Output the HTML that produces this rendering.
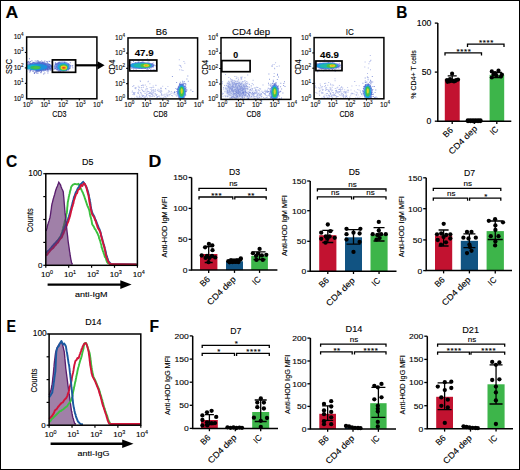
<!DOCTYPE html>
<html><head><meta charset="utf-8"><style>
html,body{margin:0;padding:0;background:#fff;}
svg{display:block;font-family:"Liberation Sans", sans-serif;} svg text{stroke:#000;stroke-width:0.12px;}
</style></head><body>
<svg width="520" height="470" viewBox="0 0 520 470">
<rect width="520" height="470" fill="#fff"/>
<rect x="0.50" y="0.50" width="519.00" height="469.00" fill="none" stroke="#000" stroke-width="1"/>
<text transform="translate(5.46 18.00) scale(1.048 1)" font-size="16.8" font-weight="bold" stroke-width="0.45">A</text>
<text transform="translate(396.37 18.00) scale(0.919 1)" font-size="16.8" font-weight="bold" stroke-width="0.45">B</text>
<text transform="translate(5.96 166.70) scale(0.930 1)" font-size="16.8" font-weight="bold" stroke-width="0.45">C</text>
<text transform="translate(148.51 166.80) scale(1.060 1)" font-size="16.8" font-weight="bold" stroke-width="0.45">D</text>
<text transform="translate(6.44 331.80) scale(0.850 1)" font-size="16.8" font-weight="bold" stroke-width="0.45">E</text>
<text transform="translate(149.55 332.40) scale(0.929 1)" font-size="16.8" font-weight="bold" stroke-width="0.45">F</text>
<defs><filter id="bl" x="-50%" y="-50%" width="200%" height="200%"><feGaussianBlur stdDeviation="0.55"/></filter><filter id="bl3" x="-50%" y="-50%" width="200%" height="200%"><feGaussianBlur stdDeviation="1.6"/></filter><clipPath id="c0"><rect x="26.65" y="37.0" width="70.25" height="61.8"/></clipPath><clipPath id="c1"><rect x="128.0" y="37.9" width="69.6" height="61.00000000000001"/></clipPath><clipPath id="c2"><rect x="221.0" y="37.7" width="69.80000000000001" height="61.7"/></clipPath><clipPath id="c3"><rect x="314.1" y="37.6" width="69.79999999999995" height="61.199999999999996"/></clipPath></defs>
<g clip-path="url(#c0)">
<path d="M29.6 63.5h1.0v1.0h-1.0zM44.4 60.5h1.0v1.0h-1.0zM37.9 60.6h1.0v1.0h-1.0zM47.8 67.0h1.0v1.0h-1.0zM49.9 65.2h1.0v1.0h-1.0zM42.2 65.8h1.0v1.0h-1.0zM33.1 66.9h1.0v1.0h-1.0zM28.9 65.6h1.0v1.0h-1.0zM44.6 66.6h1.0v1.0h-1.0zM35.7 72.2h1.0v1.0h-1.0zM39.5 65.0h1.0v1.0h-1.0zM40.3 65.1h1.0v1.0h-1.0zM35.9 65.6h1.0v1.0h-1.0zM40.4 68.3h1.0v1.0h-1.0zM34.0 72.9h1.0v1.0h-1.0zM27.3 65.5h1.0v1.0h-1.0zM44.3 72.4h1.0v1.0h-1.0zM31.4 60.2h1.0v1.0h-1.0zM44.3 65.1h1.0v1.0h-1.0zM35.9 67.7h1.0v1.0h-1.0zM40.8 67.3h1.0v1.0h-1.0zM35.6 69.9h1.0v1.0h-1.0zM51.0 66.6h1.0v1.0h-1.0zM35.4 68.4h1.0v1.0h-1.0zM42.8 63.8h1.0v1.0h-1.0zM35.3 69.2h1.0v1.0h-1.0zM38.2 65.6h1.0v1.0h-1.0zM40.7 66.4h1.0v1.0h-1.0zM39.0 61.5h1.0v1.0h-1.0zM32.0 69.0h1.0v1.0h-1.0zM41.5 66.5h1.0v1.0h-1.0zM47.4 72.4h1.0v1.0h-1.0zM43.4 70.6h1.0v1.0h-1.0zM34.8 68.5h1.0v1.0h-1.0zM49.3 69.2h1.0v1.0h-1.0zM43.6 61.6h1.0v1.0h-1.0zM45.1 67.8h1.0v1.0h-1.0zM29.3 71.5h1.0v1.0h-1.0zM32.4 65.9h1.0v1.0h-1.0zM37.0 68.0h1.0v1.0h-1.0zM43.0 67.2h1.0v1.0h-1.0zM28.9 58.3h1.0v1.0h-1.0zM40.3 67.2h1.0v1.0h-1.0zM48.8 66.2h1.0v1.0h-1.0zM34.1 67.6h1.0v1.0h-1.0zM26.6 63.8h1.0v1.0h-1.0zM30.9 67.2h1.0v1.0h-1.0zM48.1 67.1h1.0v1.0h-1.0zM41.2 65.3h1.0v1.0h-1.0zM36.8 60.2h1.0v1.0h-1.0zM29.4 63.2h1.0v1.0h-1.0zM45.7 68.2h1.0v1.0h-1.0zM48.1 70.5h1.0v1.0h-1.0zM36.6 69.2h1.0v1.0h-1.0zM47.7 66.1h1.0v1.0h-1.0zM26.1 66.8h1.0v1.0h-1.0zM32.4 66.8h1.0v1.0h-1.0zM35.3 67.3h1.0v1.0h-1.0zM49.9 65.6h1.0v1.0h-1.0zM31.7 66.5h1.0v1.0h-1.0zM44.4 67.6h1.0v1.0h-1.0zM42.2 61.4h1.0v1.0h-1.0zM30.0 70.0h1.0v1.0h-1.0zM40.9 62.5h1.0v1.0h-1.0zM32.1 62.7h1.0v1.0h-1.0zM30.8 69.6h1.0v1.0h-1.0zM37.2 69.4h1.0v1.0h-1.0zM40.5 62.5h1.0v1.0h-1.0zM33.7 72.5h1.0v1.0h-1.0zM32.8 63.7h1.0v1.0h-1.0zM49.0 66.7h1.0v1.0h-1.0zM38.9 70.4h1.0v1.0h-1.0zM30.4 62.8h1.0v1.0h-1.0zM32.4 69.6h1.0v1.0h-1.0zM37.9 61.6h1.0v1.0h-1.0zM29.9 70.5h1.0v1.0h-1.0zM47.4 63.6h1.0v1.0h-1.0zM29.2 66.1h1.0v1.0h-1.0zM46.7 70.8h1.0v1.0h-1.0zM47.4 65.4h1.0v1.0h-1.0zM34.4 62.6h1.0v1.0h-1.0zM38.4 64.9h1.0v1.0h-1.0zM41.0 63.1h1.0v1.0h-1.0zM34.8 64.2h1.0v1.0h-1.0zM29.2 63.4h1.0v1.0h-1.0zM30.7 63.4h1.0v1.0h-1.0zM43.7 66.8h1.0v1.0h-1.0zM28.2 67.9h1.0v1.0h-1.0zM41.4 70.4h1.0v1.0h-1.0zM37.4 65.9h1.0v1.0h-1.0zM33.4 66.8h1.0v1.0h-1.0zM43.0 67.0h1.0v1.0h-1.0zM36.9 68.0h1.0v1.0h-1.0zM39.8 67.2h1.0v1.0h-1.0zM31.4 67.0h1.0v1.0h-1.0zM30.8 64.3h1.0v1.0h-1.0zM40.3 72.1h1.0v1.0h-1.0zM47.2 66.5h1.0v1.0h-1.0zM37.5 69.1h1.0v1.0h-1.0zM50.3 69.7h1.0v1.0h-1.0zM37.5 67.0h1.0v1.0h-1.0zM36.3 65.7h1.0v1.0h-1.0zM32.0 65.8h1.0v1.0h-1.0zM42.5 64.0h1.0v1.0h-1.0zM43.4 63.1h1.0v1.0h-1.0zM36.0 67.6h1.0v1.0h-1.0zM30.5 64.6h1.0v1.0h-1.0zM33.2 65.0h1.0v1.0h-1.0zM39.3 66.4h1.0v1.0h-1.0zM47.0 68.6h1.0v1.0h-1.0zM35.7 65.6h1.0v1.0h-1.0zM27.4 62.5h1.0v1.0h-1.0zM33.0 68.4h1.0v1.0h-1.0zM40.0 68.6h1.0v1.0h-1.0zM46.7 66.1h1.0v1.0h-1.0zM33.9 65.4h1.0v1.0h-1.0zM48.3 66.1h1.0v1.0h-1.0zM33.0 67.7h1.0v1.0h-1.0zM48.3 66.2h1.0v1.0h-1.0zM36.9 69.4h1.0v1.0h-1.0zM47.0 69.0h1.0v1.0h-1.0zM32.8 67.3h1.0v1.0h-1.0zM42.0 61.7h1.0v1.0h-1.0zM48.8 66.8h1.0v1.0h-1.0zM36.2 72.5h1.0v1.0h-1.0zM40.2 64.6h1.0v1.0h-1.0zM38.5 68.0h1.0v1.0h-1.0zM45.6 66.3h1.0v1.0h-1.0zM31.9 64.6h1.0v1.0h-1.0zM32.3 63.7h1.0v1.0h-1.0zM38.8 65.2h1.0v1.0h-1.0zM39.4 64.3h1.0v1.0h-1.0zM31.9 66.0h1.0v1.0h-1.0zM36.1 69.6h1.0v1.0h-1.0zM31.6 67.0h1.0v1.0h-1.0zM38.7 63.0h1.0v1.0h-1.0zM44.9 66.9h1.0v1.0h-1.0zM46.7 64.4h1.0v1.0h-1.0zM29.6 68.0h1.0v1.0h-1.0zM36.1 62.9h1.0v1.0h-1.0zM33.0 68.2h1.0v1.0h-1.0zM42.2 65.1h1.0v1.0h-1.0zM34.7 71.2h1.0v1.0h-1.0zM36.1 63.9h1.0v1.0h-1.0zM35.8 70.9h1.0v1.0h-1.0zM42.8 65.7h1.0v1.0h-1.0zM29.0 66.9h1.0v1.0h-1.0zM31.8 66.5h1.0v1.0h-1.0zM45.1 69.3h1.0v1.0h-1.0zM40.1 65.6h1.0v1.0h-1.0zM40.9 71.3h1.0v1.0h-1.0zM42.1 62.8h1.0v1.0h-1.0zM51.6 67.2h1.0v1.0h-1.0zM38.2 65.7h1.0v1.0h-1.0zM42.1 65.0h1.0v1.0h-1.0zM27.0 61.4h1.0v1.0h-1.0zM38.0 65.1h1.0v1.0h-1.0zM34.3 72.1h1.0v1.0h-1.0zM45.5 69.4h1.0v1.0h-1.0zM34.9 67.3h1.0v1.0h-1.0zM37.3 66.0h1.0v1.0h-1.0zM45.1 68.1h1.0v1.0h-1.0zM41.5 66.9h1.0v1.0h-1.0zM27.3 64.5h1.0v1.0h-1.0zM42.1 65.5h1.0v1.0h-1.0zM32.7 67.4h1.0v1.0h-1.0zM31.5 64.7h1.0v1.0h-1.0zM46.2 65.6h1.0v1.0h-1.0zM50.6 67.9h1.0v1.0h-1.0zM45.6 69.5h1.0v1.0h-1.0zM28.5 65.3h1.0v1.0h-1.0zM38.2 69.8h1.0v1.0h-1.0zM38.6 70.8h1.0v1.0h-1.0zM34.7 66.4h1.0v1.0h-1.0zM39.8 69.0h1.0v1.0h-1.0zM38.6 64.9h1.0v1.0h-1.0zM36.3 62.8h1.0v1.0h-1.0zM49.2 68.5h1.0v1.0h-1.0zM42.5 67.2h1.0v1.0h-1.0zM34.1 65.4h1.0v1.0h-1.0zM45.6 64.4h1.0v1.0h-1.0zM32.7 70.7h1.0v1.0h-1.0zM51.6 67.3h1.0v1.0h-1.0zM43.3 67.0h1.0v1.0h-1.0zM50.6 65.3h1.0v1.0h-1.0zM39.7 67.8h1.0v1.0h-1.0zM50.7 65.8h1.0v1.0h-1.0zM40.9 65.2h1.0v1.0h-1.0zM33.7 64.8h1.0v1.0h-1.0zM39.7 68.8h1.0v1.0h-1.0zM33.4 64.9h1.0v1.0h-1.0zM35.7 67.4h1.0v1.0h-1.0zM44.6 63.2h1.0v1.0h-1.0zM41.9 63.9h1.0v1.0h-1.0zM44.8 64.0h1.0v1.0h-1.0zM30.3 64.6h1.0v1.0h-1.0zM38.5 63.9h1.0v1.0h-1.0zM40.7 66.9h1.0v1.0h-1.0zM39.7 67.2h1.0v1.0h-1.0zM46.0 64.6h1.0v1.0h-1.0zM39.0 66.4h1.0v1.0h-1.0zM32.8 64.6h1.0v1.0h-1.0zM35.4 66.8h1.0v1.0h-1.0zM41.7 67.8h1.0v1.0h-1.0zM33.4 68.3h1.0v1.0h-1.0zM42.4 65.5h1.0v1.0h-1.0zM38.8 68.6h1.0v1.0h-1.0zM42.5 68.3h1.0v1.0h-1.0zM39.9 69.5h1.0v1.0h-1.0zM26.2 71.0h1.0v1.0h-1.0zM34.4 62.9h1.0v1.0h-1.0zM47.8 69.1h1.0v1.0h-1.0zM35.9 70.3h1.0v1.0h-1.0zM38.4 65.0h1.0v1.0h-1.0zM39.5 67.1h1.0v1.0h-1.0zM39.4 67.5h1.0v1.0h-1.0zM34.5 68.2h1.0v1.0h-1.0zM32.6 66.9h1.0v1.0h-1.0zM37.6 62.4h1.0v1.0h-1.0zM42.1 68.1h1.0v1.0h-1.0zM30.1 61.0h1.0v1.0h-1.0zM33.8 64.3h1.0v1.0h-1.0zM39.9 66.5h1.0v1.0h-1.0zM51.9 68.2h1.0v1.0h-1.0zM37.0 66.9h1.0v1.0h-1.0zM31.6 66.2h1.0v1.0h-1.0zM41.6 67.1h1.0v1.0h-1.0zM46.5 64.7h1.0v1.0h-1.0zM41.4 66.2h1.0v1.0h-1.0zM39.1 67.3h1.0v1.0h-1.0zM36.7 67.1h1.0v1.0h-1.0zM38.7 69.2h1.0v1.0h-1.0zM38.1 67.3h1.0v1.0h-1.0zM43.1 69.3h1.0v1.0h-1.0zM30.9 68.3h1.0v1.0h-1.0zM45.0 67.6h1.0v1.0h-1.0zM46.8 68.5h1.0v1.0h-1.0zM48.5 64.8h1.0v1.0h-1.0zM42.5 65.1h1.0v1.0h-1.0zM48.9 66.9h1.0v1.0h-1.0zM28.6 66.8h1.0v1.0h-1.0zM31.0 69.0h1.0v1.0h-1.0zM36.3 60.8h1.0v1.0h-1.0zM35.9 69.2h1.0v1.0h-1.0zM41.6 64.9h1.0v1.0h-1.0zM44.2 68.0h1.0v1.0h-1.0zM50.7 68.8h1.0v1.0h-1.0zM41.9 64.5h1.0v1.0h-1.0zM41.3 67.3h1.0v1.0h-1.0zM39.1 67.6h1.0v1.0h-1.0zM29.5 68.0h1.0v1.0h-1.0zM39.1 67.4h1.0v1.0h-1.0zM38.2 65.7h1.0v1.0h-1.0zM41.0 68.5h1.0v1.0h-1.0zM36.4 67.3h1.0v1.0h-1.0zM32.9 67.6h1.0v1.0h-1.0zM39.1 63.2h1.0v1.0h-1.0zM48.3 64.2h1.0v1.0h-1.0zM39.6 63.1h1.0v1.0h-1.0zM27.9 61.1h1.0v1.0h-1.0zM37.3 62.5h1.0v1.0h-1.0zM37.4 71.2h1.0v1.0h-1.0zM35.9 67.4h1.0v1.0h-1.0zM43.5 67.1h1.0v1.0h-1.0zM38.1 70.4h1.0v1.0h-1.0zM38.4 67.4h1.0v1.0h-1.0zM39.9 63.2h1.0v1.0h-1.0zM41.5 66.6h1.0v1.0h-1.0zM44.1 68.3h1.0v1.0h-1.0zM51.4 61.6h1.0v1.0h-1.0zM34.6 65.3h1.0v1.0h-1.0zM32.2 67.6h1.0v1.0h-1.0zM38.4 66.9h1.0v1.0h-1.0zM26.1 64.0h1.0v1.0h-1.0zM38.5 65.3h1.0v1.0h-1.0zM34.2 66.2h1.0v1.0h-1.0zM36.8 63.8h1.0v1.0h-1.0zM44.1 68.0h1.0v1.0h-1.0zM46.7 65.0h1.0v1.0h-1.0zM31.1 67.6h1.0v1.0h-1.0zM41.1 60.4h1.0v1.0h-1.0zM35.9 65.8h1.0v1.0h-1.0zM42.3 64.0h1.0v1.0h-1.0zM49.3 67.2h1.0v1.0h-1.0zM34.6 67.6h1.0v1.0h-1.0zM38.1 68.2h1.0v1.0h-1.0zM32.1 65.6h1.0v1.0h-1.0zM39.0 64.6h1.0v1.0h-1.0zM35.4 68.1h1.0v1.0h-1.0zM45.5 63.6h1.0v1.0h-1.0zM35.4 67.3h1.0v1.0h-1.0zM43.6 63.9h1.0v1.0h-1.0zM43.7 66.9h1.0v1.0h-1.0zM49.4 68.9h1.0v1.0h-1.0zM43.3 65.5h1.0v1.0h-1.0zM41.1 64.3h1.0v1.0h-1.0zM32.5 61.8h1.0v1.0h-1.0zM28.7 63.2h1.0v1.0h-1.0zM38.2 66.8h1.0v1.0h-1.0zM28.4 66.2h1.0v1.0h-1.0zM42.2 68.9h1.0v1.0h-1.0zM38.2 67.1h1.0v1.0h-1.0zM36.0 68.9h1.0v1.0h-1.0zM26.7 67.1h1.0v1.0h-1.0zM46.3 61.1h1.0v1.0h-1.0zM34.8 62.9h1.0v1.0h-1.0zM32.0 69.1h1.0v1.0h-1.0zM34.8 63.6h1.0v1.0h-1.0zM38.3 67.5h1.0v1.0h-1.0zM45.4 67.8h1.0v1.0h-1.0zM27.2 64.4h1.0v1.0h-1.0zM37.5 64.3h1.0v1.0h-1.0zM44.8 65.6h1.0v1.0h-1.0zM38.3 65.5h1.0v1.0h-1.0zM39.3 62.6h1.0v1.0h-1.0zM33.2 61.9h1.0v1.0h-1.0zM38.2 62.9h1.0v1.0h-1.0zM41.5 69.5h1.0v1.0h-1.0zM43.7 65.3h1.0v1.0h-1.0zM48.9 66.0h1.0v1.0h-1.0zM38.5 66.6h1.0v1.0h-1.0zM35.1 67.5h1.0v1.0h-1.0zM29.2 61.9h1.0v1.0h-1.0zM48.3 64.6h1.0v1.0h-1.0zM36.1 67.3h1.0v1.0h-1.0zM35.2 63.4h1.0v1.0h-1.0zM37.3 64.0h1.0v1.0h-1.0zM43.2 65.3h1.0v1.0h-1.0zM36.8 68.4h1.0v1.0h-1.0zM26.7 62.6h1.0v1.0h-1.0zM44.6 69.7h1.0v1.0h-1.0zM39.6 64.7h1.0v1.0h-1.0zM48.5 67.8h1.0v1.0h-1.0zM46.9 61.8h1.0v1.0h-1.0zM37.9 63.8h1.0v1.0h-1.0zM30.2 67.9h1.0v1.0h-1.0zM44.6 65.3h1.0v1.0h-1.0zM36.9 70.0h1.0v1.0h-1.0zM44.0 66.2h1.0v1.0h-1.0zM42.9 66.7h1.0v1.0h-1.0zM28.9 65.1h1.0v1.0h-1.0zM41.1 68.0h1.0v1.0h-1.0zM29.4 64.4h1.0v1.0h-1.0zM34.3 62.6h1.0v1.0h-1.0zM47.5 67.6h1.0v1.0h-1.0zM49.2 60.9h1.0v1.0h-1.0zM32.5 71.1h1.0v1.0h-1.0zM27.8 61.8h1.0v1.0h-1.0zM40.6 70.5h1.0v1.0h-1.0zM43.9 64.0h1.0v1.0h-1.0zM43.2 67.5h1.0v1.0h-1.0zM41.0 67.5h1.0v1.0h-1.0zM45.4 69.4h1.0v1.0h-1.0zM49.7 69.2h1.0v1.0h-1.0zM37.7 61.7h1.0v1.0h-1.0zM43.2 62.6h1.0v1.0h-1.0zM42.0 67.2h1.0v1.0h-1.0zM44.0 67.2h1.0v1.0h-1.0zM32.8 68.5h1.0v1.0h-1.0zM33.4 62.6h1.0v1.0h-1.0zM46.0 67.8h1.0v1.0h-1.0zM31.5 65.8h1.0v1.0h-1.0zM47.0 68.9h1.0v1.0h-1.0zM30.4 69.3h1.0v1.0h-1.0zM41.9 66.2h1.0v1.0h-1.0zM39.8 62.4h1.0v1.0h-1.0zM37.9 67.7h1.0v1.0h-1.0zM31.6 66.8h1.0v1.0h-1.0zM37.6 60.7h1.0v1.0h-1.0zM34.1 68.0h1.0v1.0h-1.0zM26.6 66.5h1.0v1.0h-1.0zM41.5 63.2h1.0v1.0h-1.0zM36.9 68.8h1.0v1.0h-1.0zM44.6 63.9h1.0v1.0h-1.0zM46.9 67.3h1.0v1.0h-1.0zM39.9 70.3h1.0v1.0h-1.0zM44.7 67.4h1.0v1.0h-1.0zM46.5 68.2h1.0v1.0h-1.0zM48.9 66.2h1.0v1.0h-1.0zM45.3 67.8h1.0v1.0h-1.0zM39.3 66.3h1.0v1.0h-1.0zM39.8 64.1h1.0v1.0h-1.0zM45.0 66.7h1.0v1.0h-1.0zM31.4 67.2h1.0v1.0h-1.0zM36.4 66.4h1.0v1.0h-1.0zM43.2 73.4h1.0v1.0h-1.0zM30.5 67.5h1.0v1.0h-1.0zM44.6 67.6h1.0v1.0h-1.0zM50.7 65.4h1.0v1.0h-1.0zM36.4 66.5h1.0v1.0h-1.0zM28.1 69.3h1.0v1.0h-1.0zM29.2 67.9h1.0v1.0h-1.0zM48.4 64.3h1.0v1.0h-1.0zM37.6 66.0h1.0v1.0h-1.0zM47.1 61.4h1.0v1.0h-1.0zM39.7 61.0h1.0v1.0h-1.0zM47.3 70.1h1.0v1.0h-1.0zM44.6 66.4h1.0v1.0h-1.0zM33.4 67.5h1.0v1.0h-1.0zM32.5 66.9h1.0v1.0h-1.0zM36.9 65.3h1.0v1.0h-1.0zM43.3 69.0h1.0v1.0h-1.0zM46.0 67.6h1.0v1.0h-1.0zM39.5 67.0h1.0v1.0h-1.0zM48.6 60.7h1.0v1.0h-1.0zM35.5 65.7h1.0v1.0h-1.0zM40.5 72.3h1.0v1.0h-1.0zM40.9 66.3h1.0v1.0h-1.0zM42.4 69.0h1.0v1.0h-1.0zM37.6 70.8h1.0v1.0h-1.0zM29.4 69.7h1.0v1.0h-1.0zM44.6 69.1h1.0v1.0h-1.0zM51.3 65.9h1.0v1.0h-1.0zM42.3 67.2h1.0v1.0h-1.0zM34.2 64.5h1.0v1.0h-1.0zM32.8 68.7h1.0v1.0h-1.0zM39.6 69.9h1.0v1.0h-1.0zM38.2 69.8h1.0v1.0h-1.0zM38.5 65.1h1.0v1.0h-1.0zM26.6 67.0h1.0v1.0h-1.0zM30.7 68.0h1.0v1.0h-1.0zM28.1 63.5h1.0v1.0h-1.0zM47.8 67.6h1.0v1.0h-1.0zM46.7 67.1h1.0v1.0h-1.0zM38.1 66.9h1.0v1.0h-1.0zM36.4 69.2h1.0v1.0h-1.0zM28.8 61.6h1.0v1.0h-1.0zM32.2 68.8h1.0v1.0h-1.0zM34.7 60.5h1.0v1.0h-1.0zM37.5 68.0h1.0v1.0h-1.0zM41.9 66.1h1.0v1.0h-1.0zM26.6 67.8h1.0v1.0h-1.0zM31.2 66.0h1.0v1.0h-1.0zM45.0 65.5h1.0v1.0h-1.0zM43.8 68.3h1.0v1.0h-1.0zM28.7 66.6h1.0v1.0h-1.0zM41.3 69.3h1.0v1.0h-1.0zM42.2 66.9h1.0v1.0h-1.0zM36.6 67.7h1.0v1.0h-1.0zM45.1 66.1h1.0v1.0h-1.0zM36.7 71.0h1.0v1.0h-1.0zM38.7 64.5h1.0v1.0h-1.0zM44.4 63.3h1.0v1.0h-1.0zM30.4 68.9h1.0v1.0h-1.0zM39.2 68.5h1.0v1.0h-1.0zM45.1 64.5h1.0v1.0h-1.0zM43.0 65.5h1.0v1.0h-1.0zM40.7 67.1h1.0v1.0h-1.0zM38.3 63.2h1.0v1.0h-1.0zM41.4 66.5h1.0v1.0h-1.0zM43.2 63.8h1.0v1.0h-1.0zM40.6 66.0h1.0v1.0h-1.0zM35.6 65.8h1.0v1.0h-1.0zM37.0 63.0h1.0v1.0h-1.0zM34.7 65.3h1.0v1.0h-1.0zM42.7 66.1h1.0v1.0h-1.0zM50.2 68.0h1.0v1.0h-1.0zM41.5 67.0h1.0v1.0h-1.0zM27.8 67.4h1.0v1.0h-1.0zM49.0 63.9h1.0v1.0h-1.0zM49.4 68.1h1.0v1.0h-1.0zM41.3 65.4h1.0v1.0h-1.0zM39.2 64.5h1.0v1.0h-1.0zM38.9 66.6h1.0v1.0h-1.0zM39.5 63.4h1.0v1.0h-1.0zM46.3 64.8h1.0v1.0h-1.0zM42.1 68.0h1.0v1.0h-1.0zM37.4 72.8h1.0v1.0h-1.0zM40.0 67.6h1.0v1.0h-1.0zM37.0 67.3h1.0v1.0h-1.0zM29.1 68.1h1.0v1.0h-1.0z" fill="#2030b0" fill-opacity="0.6"/>
<path d="M60.2 65.2h1.0v1.0h-1.0zM65.7 68.8h1.0v1.0h-1.0zM59.9 63.9h1.0v1.0h-1.0zM64.4 68.1h1.0v1.0h-1.0zM55.8 66.6h1.0v1.0h-1.0zM67.2 64.6h1.0v1.0h-1.0zM59.3 64.2h1.0v1.0h-1.0zM64.0 61.7h1.0v1.0h-1.0zM61.4 67.7h1.0v1.0h-1.0zM61.7 68.9h1.0v1.0h-1.0zM65.0 65.2h1.0v1.0h-1.0zM57.1 63.8h1.0v1.0h-1.0zM64.4 66.1h1.0v1.0h-1.0zM62.6 64.2h1.0v1.0h-1.0zM67.6 68.7h1.0v1.0h-1.0zM65.7 63.6h1.0v1.0h-1.0zM56.7 69.0h1.0v1.0h-1.0zM61.4 64.5h1.0v1.0h-1.0zM58.3 67.8h1.0v1.0h-1.0zM63.5 67.0h1.0v1.0h-1.0zM60.9 63.9h1.0v1.0h-1.0zM63.2 65.8h1.0v1.0h-1.0zM61.0 68.1h1.0v1.0h-1.0zM70.3 64.9h1.0v1.0h-1.0zM66.7 64.6h1.0v1.0h-1.0zM66.1 68.1h1.0v1.0h-1.0zM62.2 67.1h1.0v1.0h-1.0zM58.2 65.6h1.0v1.0h-1.0zM66.7 68.5h1.0v1.0h-1.0zM59.7 66.8h1.0v1.0h-1.0zM62.3 65.2h1.0v1.0h-1.0zM60.0 66.2h1.0v1.0h-1.0zM68.2 66.2h1.0v1.0h-1.0zM58.3 67.3h1.0v1.0h-1.0zM58.9 67.3h1.0v1.0h-1.0zM56.8 69.0h1.0v1.0h-1.0zM65.9 65.4h1.0v1.0h-1.0zM64.3 63.5h1.0v1.0h-1.0zM63.1 67.2h1.0v1.0h-1.0zM67.2 65.4h1.0v1.0h-1.0zM56.7 65.1h1.0v1.0h-1.0zM60.2 70.7h1.0v1.0h-1.0zM61.8 69.4h1.0v1.0h-1.0zM62.4 63.0h1.0v1.0h-1.0zM64.2 67.8h1.0v1.0h-1.0zM59.3 62.5h1.0v1.0h-1.0zM64.0 67.7h1.0v1.0h-1.0zM66.6 68.0h1.0v1.0h-1.0zM54.8 63.0h1.0v1.0h-1.0zM66.0 69.9h1.0v1.0h-1.0zM67.2 68.6h1.0v1.0h-1.0zM61.9 68.9h1.0v1.0h-1.0zM69.6 67.8h1.0v1.0h-1.0zM68.1 69.6h1.0v1.0h-1.0zM58.5 69.5h1.0v1.0h-1.0zM58.3 64.2h1.0v1.0h-1.0zM69.9 62.3h1.0v1.0h-1.0zM61.1 68.8h1.0v1.0h-1.0zM63.9 65.5h1.0v1.0h-1.0zM57.5 67.8h1.0v1.0h-1.0zM64.6 66.3h1.0v1.0h-1.0zM57.3 62.9h1.0v1.0h-1.0zM62.0 66.4h1.0v1.0h-1.0zM66.1 65.7h1.0v1.0h-1.0zM66.4 63.4h1.0v1.0h-1.0zM53.6 68.9h1.0v1.0h-1.0zM60.0 64.4h1.0v1.0h-1.0zM61.3 63.4h1.0v1.0h-1.0zM60.3 63.0h1.0v1.0h-1.0zM62.8 65.0h1.0v1.0h-1.0zM61.8 66.5h1.0v1.0h-1.0zM64.2 62.2h1.0v1.0h-1.0zM62.8 65.8h1.0v1.0h-1.0zM56.4 65.8h1.0v1.0h-1.0zM64.5 67.7h1.0v1.0h-1.0zM71.7 65.7h1.0v1.0h-1.0zM62.7 71.4h1.0v1.0h-1.0zM59.1 64.4h1.0v1.0h-1.0zM59.8 65.0h1.0v1.0h-1.0zM61.9 66.9h1.0v1.0h-1.0zM58.3 63.6h1.0v1.0h-1.0zM61.8 63.4h1.0v1.0h-1.0zM58.1 67.4h1.0v1.0h-1.0zM61.6 64.0h1.0v1.0h-1.0zM55.1 64.0h1.0v1.0h-1.0zM54.8 67.9h1.0v1.0h-1.0zM65.6 67.3h1.0v1.0h-1.0zM63.5 65.3h1.0v1.0h-1.0zM62.8 66.7h1.0v1.0h-1.0zM62.2 65.3h1.0v1.0h-1.0zM56.8 67.2h1.0v1.0h-1.0zM63.9 63.7h1.0v1.0h-1.0zM60.9 66.4h1.0v1.0h-1.0zM64.4 62.2h1.0v1.0h-1.0zM55.2 63.0h1.0v1.0h-1.0zM56.0 63.8h1.0v1.0h-1.0zM66.1 63.6h1.0v1.0h-1.0zM72.3 67.2h1.0v1.0h-1.0zM65.3 66.4h1.0v1.0h-1.0zM66.2 67.5h1.0v1.0h-1.0zM65.9 68.0h1.0v1.0h-1.0zM65.0 67.5h1.0v1.0h-1.0zM67.3 66.6h1.0v1.0h-1.0zM59.5 70.5h1.0v1.0h-1.0zM59.7 67.5h1.0v1.0h-1.0zM72.2 64.9h1.0v1.0h-1.0zM60.7 64.8h1.0v1.0h-1.0zM57.5 68.1h1.0v1.0h-1.0zM61.0 66.8h1.0v1.0h-1.0zM53.8 67.7h1.0v1.0h-1.0zM58.5 61.7h1.0v1.0h-1.0zM58.5 62.5h1.0v1.0h-1.0zM69.7 62.3h1.0v1.0h-1.0zM63.4 63.9h1.0v1.0h-1.0zM58.1 63.3h1.0v1.0h-1.0zM67.9 63.7h1.0v1.0h-1.0zM59.0 67.1h1.0v1.0h-1.0zM60.2 68.2h1.0v1.0h-1.0zM58.4 62.4h1.0v1.0h-1.0zM64.2 69.5h1.0v1.0h-1.0zM64.6 64.4h1.0v1.0h-1.0zM67.6 68.5h1.0v1.0h-1.0zM60.2 67.6h1.0v1.0h-1.0zM61.9 66.8h1.0v1.0h-1.0zM65.1 68.7h1.0v1.0h-1.0zM62.4 66.7h1.0v1.0h-1.0zM64.2 64.5h1.0v1.0h-1.0zM63.8 66.0h1.0v1.0h-1.0zM62.3 66.7h1.0v1.0h-1.0zM68.3 67.8h1.0v1.0h-1.0zM62.2 63.5h1.0v1.0h-1.0zM63.8 63.8h1.0v1.0h-1.0zM68.0 64.8h1.0v1.0h-1.0zM59.0 66.1h1.0v1.0h-1.0zM57.2 67.7h1.0v1.0h-1.0zM63.6 64.8h1.0v1.0h-1.0zM59.4 71.1h1.0v1.0h-1.0zM67.6 67.9h1.0v1.0h-1.0zM63.4 70.3h1.0v1.0h-1.0zM60.2 65.9h1.0v1.0h-1.0zM61.4 63.9h1.0v1.0h-1.0zM57.8 71.1h1.0v1.0h-1.0zM62.8 64.3h1.0v1.0h-1.0zM60.9 65.3h1.0v1.0h-1.0zM59.9 66.4h1.0v1.0h-1.0zM54.9 62.0h1.0v1.0h-1.0zM61.1 65.9h1.0v1.0h-1.0zM56.4 66.3h1.0v1.0h-1.0zM59.3 67.0h1.0v1.0h-1.0zM61.0 69.3h1.0v1.0h-1.0zM68.8 68.2h1.0v1.0h-1.0zM62.2 68.7h1.0v1.0h-1.0z" fill="#2838b8" fill-opacity="0.5"/>
<g filter="url(#bl)"><ellipse cx="39.50" cy="66.60" rx="12.80" ry="4.60" fill="#2f55cc" fill-opacity="0.6"/><ellipse cx="37.00" cy="67.00" rx="10.50" ry="3.20" fill="#1d8fdc" fill-opacity="1"/><ellipse cx="33.00" cy="67.20" rx="6.50" ry="2.50" fill="#16b0d0" fill-opacity="1"/><ellipse cx="35.50" cy="67.60" rx="5.30" ry="1.80" fill="#34bc5c" fill-opacity="1"/><ellipse cx="36.50" cy="67.70" rx="3.30" ry="1.20" fill="#48c048" fill-opacity="1"/></g>
<g filter="url(#bl)"><ellipse cx="27.50" cy="67.00" rx="1.60" ry="2.60" fill="#18b4d8" fill-opacity="1"/></g>
<g filter="url(#bl)"><ellipse cx="62.40" cy="66.60" rx="8.50" ry="5.00" fill="#2f55cc" fill-opacity="0.6"/><ellipse cx="63.20" cy="67.00" rx="5.80" ry="4.00" fill="#1aa4e0" fill-opacity="1"/><ellipse cx="63.60" cy="67.40" rx="4.10" ry="3.10" fill="#3cc050" fill-opacity="1"/><ellipse cx="63.80" cy="67.70" rx="3.20" ry="2.10" fill="#e8dc20" fill-opacity="1"/><ellipse cx="63.80" cy="67.80" rx="2.30" ry="1.40" fill="#f28a1c" fill-opacity="1"/><ellipse cx="63.70" cy="67.80" rx="1.30" ry="0.80" fill="#e8401c" fill-opacity="1"/></g>
</g>
<rect x="26.65" y="37.00" width="70.25" height="61.80" fill="none" stroke="#000" stroke-width="1.5"/>
<text x="27.85" y="106.70" font-size="6.7" text-anchor="middle" fill="#111">10<tspan font-size="4.6" dy="-2.9">0</tspan></text>
<text x="23.65" y="100.70" font-size="6.7" text-anchor="end" fill="#111">10<tspan font-size="4.6" dy="-2.9">0</tspan></text>
<line x1="44.21" y1="98.80" x2="44.21" y2="100.60" stroke="#000" stroke-width="1.1" />
<line x1="24.85" y1="83.35" x2="26.65" y2="83.35" stroke="#000" stroke-width="1.1" />
<text x="45.41" y="106.70" font-size="6.7" text-anchor="middle" fill="#111">10<tspan font-size="4.6" dy="-2.9">1</tspan></text>
<text x="23.65" y="85.25" font-size="6.7" text-anchor="end" fill="#111">10<tspan font-size="4.6" dy="-2.9">1</tspan></text>
<line x1="61.77" y1="98.80" x2="61.77" y2="100.60" stroke="#000" stroke-width="1.1" />
<line x1="24.85" y1="67.90" x2="26.65" y2="67.90" stroke="#000" stroke-width="1.1" />
<text x="62.98" y="106.70" font-size="6.7" text-anchor="middle" fill="#111">10<tspan font-size="4.6" dy="-2.9">2</tspan></text>
<text x="23.65" y="69.80" font-size="6.7" text-anchor="end" fill="#111">10<tspan font-size="4.6" dy="-2.9">2</tspan></text>
<line x1="79.34" y1="98.80" x2="79.34" y2="100.60" stroke="#000" stroke-width="1.1" />
<line x1="24.85" y1="52.45" x2="26.65" y2="52.45" stroke="#000" stroke-width="1.1" />
<text x="80.54" y="106.70" font-size="6.7" text-anchor="middle" fill="#111">10<tspan font-size="4.6" dy="-2.9">3</tspan></text>
<text x="23.65" y="54.35" font-size="6.7" text-anchor="end" fill="#111">10<tspan font-size="4.6" dy="-2.9">3</tspan></text>
<text x="98.10" y="106.70" font-size="6.7" text-anchor="middle" fill="#111">10<tspan font-size="4.6" dy="-2.9">4</tspan></text>
<text x="23.65" y="38.90" font-size="6.7" text-anchor="end" fill="#111">10<tspan font-size="4.6" dy="-2.9">4</tspan></text>
<text x="59.40" y="116.60" font-size="8.6" text-anchor="middle" textLength="14.2" lengthAdjust="spacingAndGlyphs" >CD3</text>
<text x="11.60" y="66.60" font-size="8.6" text-anchor="middle" textLength="15.0" lengthAdjust="spacingAndGlyphs" transform="rotate(-90 11.60 66.60)" >SSC</text>
<rect x="52.40" y="59.90" width="23.20" height="12.40" fill="none" stroke="#000" stroke-width="1.7"/>
<line x1="75.50" y1="65.30" x2="99.00" y2="65.30" stroke="#000" stroke-width="2.2" />
<path d="M97.5 61.2 L104.6 65.3 L97.5 69.4 Z" fill="#000"/>
<g clip-path="url(#c1)">
<path d="M151.4 94.0h1.0v1.0h-1.0zM151.8 90.3h1.0v1.0h-1.0zM151.8 94.3h1.0v1.0h-1.0zM148.6 91.2h1.0v1.0h-1.0zM141.6 94.5h1.0v1.0h-1.0zM140.8 87.3h1.0v1.0h-1.0zM159.6 97.1h1.0v1.0h-1.0zM138.5 97.9h1.0v1.0h-1.0zM127.6 94.6h1.0v1.0h-1.0zM151.0 93.1h1.0v1.0h-1.0zM143.4 95.3h1.0v1.0h-1.0zM149.6 87.1h1.0v1.0h-1.0zM138.9 96.3h1.0v1.0h-1.0zM151.6 87.1h1.0v1.0h-1.0zM132.4 93.9h1.0v1.0h-1.0zM138.1 88.9h1.0v1.0h-1.0zM140.7 93.0h1.0v1.0h-1.0zM127.8 95.4h1.0v1.0h-1.0zM142.0 95.9h1.0v1.0h-1.0zM135.4 88.3h1.0v1.0h-1.0zM149.4 96.3h1.0v1.0h-1.0zM144.7 90.6h1.0v1.0h-1.0zM156.7 96.7h1.0v1.0h-1.0zM147.8 91.0h1.0v1.0h-1.0zM156.0 95.0h1.0v1.0h-1.0zM142.2 98.3h1.0v1.0h-1.0zM154.7 93.0h1.0v1.0h-1.0zM149.3 95.3h1.0v1.0h-1.0zM141.3 86.9h1.0v1.0h-1.0zM155.5 85.0h1.0v1.0h-1.0zM132.2 85.9h1.0v1.0h-1.0zM149.5 96.5h1.0v1.0h-1.0zM139.7 97.6h1.0v1.0h-1.0zM159.3 97.9h1.0v1.0h-1.0zM134.2 97.6h1.0v1.0h-1.0zM165.0 88.1h1.0v1.0h-1.0zM131.3 97.5h1.0v1.0h-1.0zM149.8 91.9h1.0v1.0h-1.0zM144.8 84.6h1.0v1.0h-1.0zM138.0 92.9h1.0v1.0h-1.0zM149.3 96.0h1.0v1.0h-1.0zM153.3 90.0h1.0v1.0h-1.0zM144.6 98.2h1.0v1.0h-1.0zM133.5 94.3h1.0v1.0h-1.0zM137.9 92.9h1.0v1.0h-1.0zM161.2 93.7h1.0v1.0h-1.0zM141.4 89.1h1.0v1.0h-1.0zM133.1 91.9h1.0v1.0h-1.0zM125.7 91.7h1.0v1.0h-1.0zM146.4 88.1h1.0v1.0h-1.0zM138.4 97.2h1.0v1.0h-1.0zM156.0 100.8h1.0v1.0h-1.0zM155.2 93.4h1.0v1.0h-1.0zM143.4 97.3h1.0v1.0h-1.0zM151.2 92.8h1.0v1.0h-1.0zM160.8 91.4h1.0v1.0h-1.0zM146.8 96.8h1.0v1.0h-1.0zM149.5 92.4h1.0v1.0h-1.0zM154.3 104.0h1.0v1.0h-1.0zM142.4 95.0h1.0v1.0h-1.0zM149.0 92.8h1.0v1.0h-1.0zM159.8 91.7h1.0v1.0h-1.0zM160.0 87.8h1.0v1.0h-1.0zM146.4 88.5h1.0v1.0h-1.0zM148.5 95.0h1.0v1.0h-1.0zM150.1 93.0h1.0v1.0h-1.0zM143.0 86.8h1.0v1.0h-1.0zM152.7 92.2h1.0v1.0h-1.0zM155.3 84.8h1.0v1.0h-1.0zM143.1 84.7h1.0v1.0h-1.0zM154.8 88.9h1.0v1.0h-1.0zM136.3 95.8h1.0v1.0h-1.0zM144.5 93.1h1.0v1.0h-1.0zM144.4 96.9h1.0v1.0h-1.0zM147.7 93.2h1.0v1.0h-1.0zM145.1 96.2h1.0v1.0h-1.0zM155.0 90.5h1.0v1.0h-1.0zM152.7 85.5h1.0v1.0h-1.0zM138.4 89.7h1.0v1.0h-1.0zM138.9 94.4h1.0v1.0h-1.0zM133.2 85.3h1.0v1.0h-1.0zM146.9 88.3h1.0v1.0h-1.0zM145.7 92.4h1.0v1.0h-1.0zM139.4 90.3h1.0v1.0h-1.0zM152.6 92.0h1.0v1.0h-1.0zM145.8 94.9h1.0v1.0h-1.0zM138.9 86.8h1.0v1.0h-1.0zM142.1 99.0h1.0v1.0h-1.0zM150.5 101.7h1.0v1.0h-1.0zM153.8 96.0h1.0v1.0h-1.0zM140.9 84.9h1.0v1.0h-1.0zM126.8 92.6h1.0v1.0h-1.0zM135.5 86.9h1.0v1.0h-1.0zM150.1 93.3h1.0v1.0h-1.0zM134.0 93.1h1.0v1.0h-1.0zM157.2 96.1h1.0v1.0h-1.0zM139.2 96.1h1.0v1.0h-1.0zM128.0 90.7h1.0v1.0h-1.0zM141.3 97.4h1.0v1.0h-1.0zM134.6 87.9h1.0v1.0h-1.0zM142.2 95.3h1.0v1.0h-1.0zM133.0 93.0h1.0v1.0h-1.0zM142.0 90.0h1.0v1.0h-1.0zM134.1 93.8h1.0v1.0h-1.0zM146.4 93.9h1.0v1.0h-1.0zM146.7 91.5h1.0v1.0h-1.0zM137.5 91.9h1.0v1.0h-1.0zM152.0 92.6h1.0v1.0h-1.0zM149.8 95.8h1.0v1.0h-1.0zM148.1 90.9h1.0v1.0h-1.0zM136.7 97.5h1.0v1.0h-1.0zM143.7 91.2h1.0v1.0h-1.0zM146.0 95.5h1.0v1.0h-1.0zM152.7 88.9h1.0v1.0h-1.0zM144.5 97.0h1.0v1.0h-1.0zM139.9 92.1h1.0v1.0h-1.0zM137.8 85.7h1.0v1.0h-1.0zM133.9 92.7h1.0v1.0h-1.0zM147.9 80.7h1.0v1.0h-1.0zM142.9 91.0h1.0v1.0h-1.0zM131.7 91.7h1.0v1.0h-1.0zM138.3 97.9h1.0v1.0h-1.0zM136.6 96.5h1.0v1.0h-1.0zM134.9 87.5h1.0v1.0h-1.0zM157.6 88.7h1.0v1.0h-1.0zM141.5 85.1h1.0v1.0h-1.0zM146.5 98.1h1.0v1.0h-1.0zM142.7 90.8h1.0v1.0h-1.0zM145.2 88.7h1.0v1.0h-1.0zM134.1 92.2h1.0v1.0h-1.0zM142.3 84.4h1.0v1.0h-1.0zM124.1 94.0h1.0v1.0h-1.0zM134.1 93.9h1.0v1.0h-1.0zM152.9 91.7h1.0v1.0h-1.0zM140.0 80.9h1.0v1.0h-1.0zM158.5 95.8h1.0v1.0h-1.0zM138.5 87.3h1.0v1.0h-1.0zM149.4 83.3h1.0v1.0h-1.0zM151.3 96.0h1.0v1.0h-1.0zM134.6 87.3h1.0v1.0h-1.0zM160.7 89.8h1.0v1.0h-1.0zM146.6 90.5h1.0v1.0h-1.0zM127.2 96.3h1.0v1.0h-1.0zM159.3 89.4h1.0v1.0h-1.0zM137.3 98.6h1.0v1.0h-1.0zM131.9 90.6h1.0v1.0h-1.0zM133.3 85.0h1.0v1.0h-1.0zM139.7 80.3h1.0v1.0h-1.0zM134.5 92.1h1.0v1.0h-1.0zM138.6 87.1h1.0v1.0h-1.0zM166.7 95.4h1.0v1.0h-1.0zM140.6 96.7h1.0v1.0h-1.0zM150.6 92.7h1.0v1.0h-1.0zM151.5 90.3h1.0v1.0h-1.0zM140.1 99.7h1.0v1.0h-1.0zM145.7 98.6h1.0v1.0h-1.0zM127.6 87.9h1.0v1.0h-1.0zM137.1 92.5h1.0v1.0h-1.0zM144.5 96.2h1.0v1.0h-1.0zM149.5 91.9h1.0v1.0h-1.0zM149.6 95.0h1.0v1.0h-1.0zM147.5 81.2h1.0v1.0h-1.0zM140.8 94.6h1.0v1.0h-1.0zM141.6 98.0h1.0v1.0h-1.0zM140.5 92.2h1.0v1.0h-1.0zM138.0 91.4h1.0v1.0h-1.0zM154.8 98.1h1.0v1.0h-1.0zM152.6 94.9h1.0v1.0h-1.0zM146.1 86.3h1.0v1.0h-1.0zM150.5 89.1h1.0v1.0h-1.0z" fill="#4058c8" fill-opacity="0.38"/>
<path d="M164.5 93.6h1.0v1.0h-1.0zM169.5 91.6h1.0v1.0h-1.0zM169.0 94.0h1.0v1.0h-1.0zM176.3 93.5h1.0v1.0h-1.0zM160.7 87.5h1.0v1.0h-1.0zM169.7 94.0h1.0v1.0h-1.0zM142.7 95.5h1.0v1.0h-1.0zM166.3 92.8h1.0v1.0h-1.0zM173.4 93.5h1.0v1.0h-1.0zM160.7 95.3h1.0v1.0h-1.0zM152.2 95.8h1.0v1.0h-1.0zM154.6 94.8h1.0v1.0h-1.0zM171.7 92.6h1.0v1.0h-1.0zM156.5 99.6h1.0v1.0h-1.0zM162.3 97.6h1.0v1.0h-1.0zM167.3 95.5h1.0v1.0h-1.0zM174.5 93.8h1.0v1.0h-1.0zM148.7 93.1h1.0v1.0h-1.0zM156.9 90.1h1.0v1.0h-1.0zM158.6 95.4h1.0v1.0h-1.0zM166.5 94.2h1.0v1.0h-1.0zM160.9 94.2h1.0v1.0h-1.0zM158.3 91.1h1.0v1.0h-1.0zM162.8 96.9h1.0v1.0h-1.0zM155.8 94.0h1.0v1.0h-1.0zM168.2 90.7h1.0v1.0h-1.0zM165.5 94.5h1.0v1.0h-1.0zM171.1 91.0h1.0v1.0h-1.0zM158.3 99.2h1.0v1.0h-1.0zM180.1 96.0h1.0v1.0h-1.0zM174.3 91.9h1.0v1.0h-1.0zM171.0 95.0h1.0v1.0h-1.0zM168.3 89.9h1.0v1.0h-1.0zM163.7 96.4h1.0v1.0h-1.0zM172.1 95.6h1.0v1.0h-1.0zM166.1 97.4h1.0v1.0h-1.0zM177.3 89.3h1.0v1.0h-1.0zM146.3 94.2h1.0v1.0h-1.0zM176.6 100.2h1.0v1.0h-1.0zM168.9 90.9h1.0v1.0h-1.0zM167.7 92.0h1.0v1.0h-1.0zM169.9 93.5h1.0v1.0h-1.0zM177.2 90.8h1.0v1.0h-1.0zM175.3 91.6h1.0v1.0h-1.0zM168.5 95.2h1.0v1.0h-1.0zM151.0 87.5h1.0v1.0h-1.0zM160.9 93.0h1.0v1.0h-1.0zM157.2 96.5h1.0v1.0h-1.0zM165.1 96.1h1.0v1.0h-1.0zM153.4 93.6h1.0v1.0h-1.0zM161.0 97.5h1.0v1.0h-1.0zM173.5 92.4h1.0v1.0h-1.0zM162.2 85.8h1.0v1.0h-1.0zM180.2 95.3h1.0v1.0h-1.0zM166.9 95.2h1.0v1.0h-1.0zM161.0 88.1h1.0v1.0h-1.0zM154.3 91.3h1.0v1.0h-1.0zM160.3 90.3h1.0v1.0h-1.0zM164.2 96.2h1.0v1.0h-1.0zM163.9 94.5h1.0v1.0h-1.0zM183.0 91.4h1.0v1.0h-1.0zM156.6 96.8h1.0v1.0h-1.0zM159.2 99.9h1.0v1.0h-1.0zM156.5 94.0h1.0v1.0h-1.0zM177.4 88.5h1.0v1.0h-1.0zM171.6 95.0h1.0v1.0h-1.0zM164.3 98.8h1.0v1.0h-1.0zM157.2 96.2h1.0v1.0h-1.0zM158.0 98.4h1.0v1.0h-1.0zM151.6 93.8h1.0v1.0h-1.0zM157.7 90.3h1.0v1.0h-1.0zM171.1 92.7h1.0v1.0h-1.0zM167.4 86.1h1.0v1.0h-1.0zM153.3 90.7h1.0v1.0h-1.0zM165.5 88.5h1.0v1.0h-1.0zM165.2 97.3h1.0v1.0h-1.0zM163.0 94.5h1.0v1.0h-1.0zM158.9 91.0h1.0v1.0h-1.0zM161.9 94.7h1.0v1.0h-1.0zM175.3 94.6h1.0v1.0h-1.0zM156.0 96.8h1.0v1.0h-1.0zM153.2 87.1h1.0v1.0h-1.0zM160.1 91.6h1.0v1.0h-1.0zM167.7 93.7h1.0v1.0h-1.0zM150.7 91.5h1.0v1.0h-1.0zM157.6 101.0h1.0v1.0h-1.0zM151.1 90.4h1.0v1.0h-1.0zM173.0 99.0h1.0v1.0h-1.0zM159.1 98.6h1.0v1.0h-1.0zM161.4 90.8h1.0v1.0h-1.0z" fill="#4058c8" fill-opacity="0.32"/>
<path d="M181.3 96.7h1.0v1.0h-1.0zM186.2 89.6h1.0v1.0h-1.0zM177.6 92.4h1.0v1.0h-1.0zM180.2 86.7h1.0v1.0h-1.0zM183.0 92.3h1.0v1.0h-1.0zM177.8 86.6h1.0v1.0h-1.0zM186.0 89.7h1.0v1.0h-1.0zM187.3 75.6h1.0v1.0h-1.0zM178.3 91.1h1.0v1.0h-1.0zM178.6 92.0h1.0v1.0h-1.0zM181.9 82.4h1.0v1.0h-1.0zM187.3 102.2h1.0v1.0h-1.0zM176.4 89.1h1.0v1.0h-1.0zM177.5 88.4h1.0v1.0h-1.0zM180.2 89.4h1.0v1.0h-1.0zM185.1 98.6h1.0v1.0h-1.0zM180.6 93.7h1.0v1.0h-1.0zM183.7 81.0h1.0v1.0h-1.0zM181.9 84.5h1.0v1.0h-1.0zM185.3 99.0h1.0v1.0h-1.0zM182.6 100.3h1.0v1.0h-1.0zM180.8 86.0h1.0v1.0h-1.0zM185.9 91.0h1.0v1.0h-1.0zM182.7 82.5h1.0v1.0h-1.0zM183.9 90.4h1.0v1.0h-1.0zM181.2 84.0h1.0v1.0h-1.0zM179.2 88.2h1.0v1.0h-1.0zM182.1 99.0h1.0v1.0h-1.0zM176.1 82.0h1.0v1.0h-1.0zM178.6 86.3h1.0v1.0h-1.0zM179.0 83.5h1.0v1.0h-1.0zM179.5 93.7h1.0v1.0h-1.0zM180.3 85.0h1.0v1.0h-1.0zM183.5 91.8h1.0v1.0h-1.0zM178.5 98.6h1.0v1.0h-1.0zM179.5 84.6h1.0v1.0h-1.0zM182.8 85.6h1.0v1.0h-1.0zM178.4 99.6h1.0v1.0h-1.0zM180.2 84.7h1.0v1.0h-1.0zM182.2 89.9h1.0v1.0h-1.0zM175.4 88.0h1.0v1.0h-1.0zM183.1 88.0h1.0v1.0h-1.0zM183.0 83.4h1.0v1.0h-1.0zM184.2 88.6h1.0v1.0h-1.0zM179.3 82.9h1.0v1.0h-1.0zM184.5 90.5h1.0v1.0h-1.0zM180.3 93.0h1.0v1.0h-1.0zM181.1 88.6h1.0v1.0h-1.0zM182.6 87.9h1.0v1.0h-1.0zM184.5 105.7h1.0v1.0h-1.0zM176.2 91.0h1.0v1.0h-1.0zM180.3 94.9h1.0v1.0h-1.0zM175.4 104.5h1.0v1.0h-1.0zM184.1 104.1h1.0v1.0h-1.0zM185.2 84.3h1.0v1.0h-1.0zM181.1 101.4h1.0v1.0h-1.0zM185.1 86.0h1.0v1.0h-1.0zM182.4 99.7h1.0v1.0h-1.0zM185.7 88.6h1.0v1.0h-1.0zM182.9 94.4h1.0v1.0h-1.0zM180.9 89.4h1.0v1.0h-1.0zM184.7 91.0h1.0v1.0h-1.0zM181.4 98.5h1.0v1.0h-1.0zM185.3 94.6h1.0v1.0h-1.0zM180.3 85.8h1.0v1.0h-1.0zM178.2 87.0h1.0v1.0h-1.0zM182.6 82.6h1.0v1.0h-1.0zM178.9 84.5h1.0v1.0h-1.0zM182.2 88.3h1.0v1.0h-1.0zM186.4 99.4h1.0v1.0h-1.0zM181.8 90.2h1.0v1.0h-1.0zM185.1 85.4h1.0v1.0h-1.0zM184.7 83.0h1.0v1.0h-1.0zM180.5 93.1h1.0v1.0h-1.0zM182.1 80.7h1.0v1.0h-1.0zM179.1 91.9h1.0v1.0h-1.0zM176.7 102.4h1.0v1.0h-1.0zM179.5 91.9h1.0v1.0h-1.0zM190.4 89.4h1.0v1.0h-1.0zM182.5 94.8h1.0v1.0h-1.0zM181.2 84.5h1.0v1.0h-1.0zM176.8 92.5h1.0v1.0h-1.0zM181.0 99.5h1.0v1.0h-1.0zM182.2 95.3h1.0v1.0h-1.0zM178.4 89.0h1.0v1.0h-1.0zM183.0 88.7h1.0v1.0h-1.0zM183.8 88.4h1.0v1.0h-1.0zM180.8 93.5h1.0v1.0h-1.0zM178.0 107.6h1.0v1.0h-1.0zM177.7 100.3h1.0v1.0h-1.0zM186.5 89.4h1.0v1.0h-1.0zM183.0 97.2h1.0v1.0h-1.0zM182.8 95.2h1.0v1.0h-1.0zM180.6 94.3h1.0v1.0h-1.0zM179.9 83.8h1.0v1.0h-1.0zM181.0 95.7h1.0v1.0h-1.0zM182.6 93.4h1.0v1.0h-1.0zM180.4 91.9h1.0v1.0h-1.0zM179.2 90.2h1.0v1.0h-1.0zM182.0 85.8h1.0v1.0h-1.0zM186.4 78.6h1.0v1.0h-1.0zM183.7 88.9h1.0v1.0h-1.0zM184.9 87.7h1.0v1.0h-1.0zM184.3 86.1h1.0v1.0h-1.0zM179.2 89.6h1.0v1.0h-1.0zM181.7 84.7h1.0v1.0h-1.0zM185.3 84.1h1.0v1.0h-1.0zM180.9 91.6h1.0v1.0h-1.0zM181.2 97.6h1.0v1.0h-1.0zM178.7 97.2h1.0v1.0h-1.0zM185.2 91.1h1.0v1.0h-1.0zM187.8 80.8h1.0v1.0h-1.0zM179.8 81.7h1.0v1.0h-1.0zM171.9 76.0h1.0v1.0h-1.0zM182.5 83.9h1.0v1.0h-1.0zM174.0 91.3h1.0v1.0h-1.0zM177.5 88.1h1.0v1.0h-1.0zM179.9 99.9h1.0v1.0h-1.0zM173.9 92.0h1.0v1.0h-1.0zM192.3 90.9h1.0v1.0h-1.0zM182.5 90.3h1.0v1.0h-1.0zM184.2 93.5h1.0v1.0h-1.0zM183.5 83.5h1.0v1.0h-1.0zM181.5 93.9h1.0v1.0h-1.0zM181.6 94.3h1.0v1.0h-1.0zM184.9 99.3h1.0v1.0h-1.0zM182.3 94.6h1.0v1.0h-1.0zM180.4 88.5h1.0v1.0h-1.0zM183.9 82.7h1.0v1.0h-1.0zM185.3 83.6h1.0v1.0h-1.0zM181.3 85.8h1.0v1.0h-1.0zM178.8 93.9h1.0v1.0h-1.0zM176.1 99.9h1.0v1.0h-1.0zM176.3 95.5h1.0v1.0h-1.0zM180.7 88.9h1.0v1.0h-1.0zM182.6 99.2h1.0v1.0h-1.0zM182.2 86.3h1.0v1.0h-1.0zM181.6 97.2h1.0v1.0h-1.0zM178.4 92.6h1.0v1.0h-1.0zM185.5 86.9h1.0v1.0h-1.0z" fill="#3048c0" fill-opacity="0.55"/>
<path d="M181.2 69.5h1.0v1.0h-1.0zM180.1 65.8h1.0v1.0h-1.0zM180.9 66.8h1.0v1.0h-1.0zM178.8 59.2h1.0v1.0h-1.0zM184.3 62.7h1.0v1.0h-1.0zM179.2 69.3h1.0v1.0h-1.0zM180.1 65.0h1.0v1.0h-1.0zM178.8 64.7h1.0v1.0h-1.0zM182.5 70.0h1.0v1.0h-1.0zM183.4 61.0h1.0v1.0h-1.0z" fill="#4058c8" fill-opacity="0.4"/>
<g filter="url(#bl)"><ellipse cx="181.60" cy="91.70" rx="4.60" ry="8.20" fill="#2f55cc" fill-opacity="0.6"/><ellipse cx="181.60" cy="91.90" rx="3.30" ry="6.60" fill="#1aa4e0" fill-opacity="1"/><ellipse cx="181.60" cy="91.70" rx="2.30" ry="5.00" fill="#3cc050" fill-opacity="1"/><ellipse cx="181.70" cy="91.10" rx="1.10" ry="2.80" fill="#d8d828" fill-opacity="1"/></g>
<path d="M139.4 66.9h1.0v1.0h-1.0zM135.5 63.4h1.0v1.0h-1.0zM139.5 67.8h1.0v1.0h-1.0zM133.2 67.2h1.0v1.0h-1.0zM147.2 64.0h1.0v1.0h-1.0zM132.6 64.8h1.0v1.0h-1.0zM139.2 64.0h1.0v1.0h-1.0zM142.3 70.4h1.0v1.0h-1.0zM148.9 68.1h1.0v1.0h-1.0zM141.4 68.0h1.0v1.0h-1.0zM136.7 65.9h1.0v1.0h-1.0zM150.4 70.4h1.0v1.0h-1.0zM146.0 65.7h1.0v1.0h-1.0zM141.5 63.3h1.0v1.0h-1.0zM146.4 69.0h1.0v1.0h-1.0zM147.1 65.3h1.0v1.0h-1.0zM140.0 63.3h1.0v1.0h-1.0zM152.1 65.4h1.0v1.0h-1.0zM150.7 63.5h1.0v1.0h-1.0zM147.5 67.2h1.0v1.0h-1.0zM140.8 64.2h1.0v1.0h-1.0zM151.7 64.0h1.0v1.0h-1.0zM152.7 66.8h1.0v1.0h-1.0zM155.1 65.2h1.0v1.0h-1.0zM140.3 63.1h1.0v1.0h-1.0zM130.4 61.7h1.0v1.0h-1.0zM139.0 65.5h1.0v1.0h-1.0zM153.3 69.7h1.0v1.0h-1.0zM137.6 60.5h1.0v1.0h-1.0zM144.1 66.3h1.0v1.0h-1.0zM138.8 63.3h1.0v1.0h-1.0zM136.7 65.8h1.0v1.0h-1.0zM143.1 61.6h1.0v1.0h-1.0zM140.8 63.1h1.0v1.0h-1.0zM134.5 65.6h1.0v1.0h-1.0zM135.5 65.9h1.0v1.0h-1.0zM143.3 64.3h1.0v1.0h-1.0zM135.4 61.9h1.0v1.0h-1.0zM133.2 69.3h1.0v1.0h-1.0zM144.7 65.1h1.0v1.0h-1.0zM136.8 63.9h1.0v1.0h-1.0zM132.8 66.0h1.0v1.0h-1.0zM148.7 63.1h1.0v1.0h-1.0zM146.3 64.4h1.0v1.0h-1.0zM144.2 63.4h1.0v1.0h-1.0zM147.6 69.1h1.0v1.0h-1.0zM137.3 64.7h1.0v1.0h-1.0zM148.8 63.9h1.0v1.0h-1.0zM132.0 59.8h1.0v1.0h-1.0zM137.6 67.9h1.0v1.0h-1.0zM136.1 64.9h1.0v1.0h-1.0zM140.1 63.8h1.0v1.0h-1.0zM137.8 62.7h1.0v1.0h-1.0zM134.4 67.9h1.0v1.0h-1.0zM132.7 68.1h1.0v1.0h-1.0zM131.3 68.1h1.0v1.0h-1.0zM140.7 66.7h1.0v1.0h-1.0zM140.1 66.5h1.0v1.0h-1.0zM137.2 66.3h1.0v1.0h-1.0zM152.8 62.5h1.0v1.0h-1.0zM142.2 67.3h1.0v1.0h-1.0zM138.0 65.5h1.0v1.0h-1.0zM143.8 67.6h1.0v1.0h-1.0zM145.1 66.3h1.0v1.0h-1.0zM137.0 64.3h1.0v1.0h-1.0zM139.1 63.9h1.0v1.0h-1.0zM142.4 63.5h1.0v1.0h-1.0zM147.4 63.8h1.0v1.0h-1.0zM137.5 62.0h1.0v1.0h-1.0zM138.3 61.9h1.0v1.0h-1.0zM139.6 66.5h1.0v1.0h-1.0zM129.2 69.5h1.0v1.0h-1.0zM147.9 65.9h1.0v1.0h-1.0zM139.1 67.7h1.0v1.0h-1.0zM145.2 64.5h1.0v1.0h-1.0zM143.1 65.7h1.0v1.0h-1.0zM135.5 68.4h1.0v1.0h-1.0zM131.7 66.4h1.0v1.0h-1.0zM134.9 65.3h1.0v1.0h-1.0zM140.2 65.8h1.0v1.0h-1.0zM153.6 64.4h1.0v1.0h-1.0zM146.1 66.3h1.0v1.0h-1.0zM143.8 62.9h1.0v1.0h-1.0zM141.9 61.8h1.0v1.0h-1.0zM150.5 68.7h1.0v1.0h-1.0zM143.2 66.6h1.0v1.0h-1.0zM141.8 61.4h1.0v1.0h-1.0zM139.6 67.5h1.0v1.0h-1.0zM141.4 63.6h1.0v1.0h-1.0zM154.3 69.3h1.0v1.0h-1.0zM142.1 66.9h1.0v1.0h-1.0zM137.8 66.0h1.0v1.0h-1.0zM150.7 64.1h1.0v1.0h-1.0zM146.8 63.3h1.0v1.0h-1.0zM145.8 66.6h1.0v1.0h-1.0zM148.2 63.1h1.0v1.0h-1.0zM146.9 58.4h1.0v1.0h-1.0zM143.4 62.5h1.0v1.0h-1.0zM142.1 62.7h1.0v1.0h-1.0zM143.3 67.4h1.0v1.0h-1.0zM150.2 64.2h1.0v1.0h-1.0zM152.5 66.1h1.0v1.0h-1.0zM152.5 65.3h1.0v1.0h-1.0zM133.7 65.6h1.0v1.0h-1.0zM134.9 63.2h1.0v1.0h-1.0zM151.9 62.9h1.0v1.0h-1.0zM140.2 62.0h1.0v1.0h-1.0zM144.8 67.9h1.0v1.0h-1.0zM141.5 66.9h1.0v1.0h-1.0zM147.2 65.0h1.0v1.0h-1.0zM147.6 61.6h1.0v1.0h-1.0zM140.6 65.7h1.0v1.0h-1.0zM146.8 68.3h1.0v1.0h-1.0zM140.2 63.5h1.0v1.0h-1.0zM138.4 64.7h1.0v1.0h-1.0zM134.8 62.2h1.0v1.0h-1.0zM144.0 62.7h1.0v1.0h-1.0zM141.6 65.4h1.0v1.0h-1.0zM141.2 67.7h1.0v1.0h-1.0zM144.6 65.8h1.0v1.0h-1.0zM153.0 64.6h1.0v1.0h-1.0zM131.4 64.2h1.0v1.0h-1.0zM149.2 63.2h1.0v1.0h-1.0zM135.3 66.4h1.0v1.0h-1.0zM150.0 68.8h1.0v1.0h-1.0zM137.7 63.9h1.0v1.0h-1.0zM139.9 63.8h1.0v1.0h-1.0zM141.7 62.6h1.0v1.0h-1.0zM139.8 65.1h1.0v1.0h-1.0zM142.4 63.6h1.0v1.0h-1.0zM141.4 64.4h1.0v1.0h-1.0zM135.4 64.9h1.0v1.0h-1.0zM135.9 65.8h1.0v1.0h-1.0zM149.2 66.5h1.0v1.0h-1.0zM142.4 66.8h1.0v1.0h-1.0zM140.1 66.4h1.0v1.0h-1.0zM138.7 66.0h1.0v1.0h-1.0zM134.0 66.6h1.0v1.0h-1.0zM150.8 66.4h1.0v1.0h-1.0zM148.3 65.5h1.0v1.0h-1.0zM138.5 61.3h1.0v1.0h-1.0zM145.3 67.5h1.0v1.0h-1.0zM148.2 64.8h1.0v1.0h-1.0zM146.2 66.6h1.0v1.0h-1.0zM146.6 63.9h1.0v1.0h-1.0zM133.0 61.0h1.0v1.0h-1.0zM138.4 64.4h1.0v1.0h-1.0zM135.4 65.7h1.0v1.0h-1.0zM131.7 65.8h1.0v1.0h-1.0zM153.3 64.9h1.0v1.0h-1.0zM128.3 65.2h1.0v1.0h-1.0zM137.1 65.4h1.0v1.0h-1.0zM139.1 63.9h1.0v1.0h-1.0zM143.7 67.6h1.0v1.0h-1.0zM140.1 65.5h1.0v1.0h-1.0zM129.8 69.8h1.0v1.0h-1.0zM134.8 65.3h1.0v1.0h-1.0zM130.8 66.4h1.0v1.0h-1.0zM134.4 65.4h1.0v1.0h-1.0zM136.7 64.6h1.0v1.0h-1.0zM138.8 63.3h1.0v1.0h-1.0zM140.1 63.5h1.0v1.0h-1.0zM138.8 64.3h1.0v1.0h-1.0zM133.3 65.7h1.0v1.0h-1.0zM145.9 65.6h1.0v1.0h-1.0zM129.6 66.4h1.0v1.0h-1.0zM147.4 61.5h1.0v1.0h-1.0zM148.8 60.1h1.0v1.0h-1.0zM143.4 66.6h1.0v1.0h-1.0zM150.6 68.4h1.0v1.0h-1.0zM144.4 67.2h1.0v1.0h-1.0zM152.6 69.1h1.0v1.0h-1.0zM143.4 67.0h1.0v1.0h-1.0zM132.3 63.5h1.0v1.0h-1.0zM151.6 66.1h1.0v1.0h-1.0zM132.6 64.9h1.0v1.0h-1.0zM128.7 65.1h1.0v1.0h-1.0zM148.6 61.5h1.0v1.0h-1.0zM140.9 66.0h1.0v1.0h-1.0zM140.3 65.5h1.0v1.0h-1.0zM136.4 63.5h1.0v1.0h-1.0zM141.7 61.3h1.0v1.0h-1.0zM140.7 62.1h1.0v1.0h-1.0zM136.0 68.5h1.0v1.0h-1.0zM138.6 64.3h1.0v1.0h-1.0zM147.8 63.6h1.0v1.0h-1.0zM137.1 65.2h1.0v1.0h-1.0z" fill="#2838b8" fill-opacity="0.5"/>
<g filter="url(#bl)"><ellipse cx="141.80" cy="65.45" rx="12.60" ry="3.50" fill="#2f55cc" fill-opacity="0.6"/><ellipse cx="141.00" cy="65.45" rx="11.20" ry="2.80" fill="#1a9ee0" fill-opacity="1"/><ellipse cx="142.00" cy="65.45" rx="8.50" ry="2.30" fill="#20b8a8" fill-opacity="1"/><ellipse cx="145.50" cy="65.45" rx="5.00" ry="2.00" fill="#50c040" fill-opacity="1"/><ellipse cx="146.20" cy="65.45" rx="2.80" ry="1.30" fill="#e8d820" fill-opacity="1"/><ellipse cx="146.20" cy="65.45" rx="1.40" ry="0.80" fill="#f0a020" fill-opacity="1"/></g>
</g>
<rect x="128.00" y="37.90" width="69.60" height="61.00" fill="none" stroke="#000" stroke-width="1.5"/>
<text x="129.20" y="106.80" font-size="6.7" text-anchor="middle" fill="#111">10<tspan font-size="4.6" dy="-2.9">0</tspan></text>
<text x="125.00" y="100.80" font-size="6.7" text-anchor="end" fill="#111">10<tspan font-size="4.6" dy="-2.9">0</tspan></text>
<line x1="145.40" y1="98.90" x2="145.40" y2="100.70" stroke="#000" stroke-width="1.1" />
<line x1="126.20" y1="83.65" x2="128.00" y2="83.65" stroke="#000" stroke-width="1.1" />
<text x="146.60" y="106.80" font-size="6.7" text-anchor="middle" fill="#111">10<tspan font-size="4.6" dy="-2.9">1</tspan></text>
<text x="125.00" y="85.55" font-size="6.7" text-anchor="end" fill="#111">10<tspan font-size="4.6" dy="-2.9">1</tspan></text>
<line x1="162.80" y1="98.90" x2="162.80" y2="100.70" stroke="#000" stroke-width="1.1" />
<line x1="126.20" y1="68.40" x2="128.00" y2="68.40" stroke="#000" stroke-width="1.1" />
<text x="164.00" y="106.80" font-size="6.7" text-anchor="middle" fill="#111">10<tspan font-size="4.6" dy="-2.9">2</tspan></text>
<text x="125.00" y="70.30" font-size="6.7" text-anchor="end" fill="#111">10<tspan font-size="4.6" dy="-2.9">2</tspan></text>
<line x1="180.20" y1="98.90" x2="180.20" y2="100.70" stroke="#000" stroke-width="1.1" />
<line x1="126.20" y1="53.15" x2="128.00" y2="53.15" stroke="#000" stroke-width="1.1" />
<text x="181.40" y="106.80" font-size="6.7" text-anchor="middle" fill="#111">10<tspan font-size="4.6" dy="-2.9">3</tspan></text>
<text x="125.00" y="55.05" font-size="6.7" text-anchor="end" fill="#111">10<tspan font-size="4.6" dy="-2.9">3</tspan></text>
<text x="198.80" y="106.80" font-size="6.7" text-anchor="middle" fill="#111">10<tspan font-size="4.6" dy="-2.9">4</tspan></text>
<text x="125.00" y="39.80" font-size="6.7" text-anchor="end" fill="#111">10<tspan font-size="4.6" dy="-2.9">4</tspan></text>
<text x="160.40" y="116.70" font-size="8.6" text-anchor="middle" textLength="14.2" lengthAdjust="spacingAndGlyphs" >CD8</text>
<text x="114.60" y="67.10" font-size="8.6" text-anchor="middle" textLength="15.0" lengthAdjust="spacingAndGlyphs" transform="rotate(-90 114.60 67.10)" >CD4</text>
<text x="161.50" y="34.70" font-size="8.8" text-anchor="middle" textLength="11.4" lengthAdjust="spacingAndGlyphs" >B6</text>
<rect x="129.60" y="60.00" width="27.20" height="10.90" fill="none" stroke="#000" stroke-width="1.7"/>
<g clip-path="url(#c2)">
<g opacity="0.35">
<g filter="url(#bl3)"><ellipse cx="236.50" cy="89.40" rx="11.00" ry="8.50" fill="#6a84d4" fill-opacity="1"/></g>
</g>
<path d="M240.6 83.5h1.0v1.0h-1.0zM235.8 77.9h1.0v1.0h-1.0zM226.6 88.4h1.0v1.0h-1.0zM231.1 90.4h1.0v1.0h-1.0zM241.6 76.5h1.0v1.0h-1.0zM238.4 89.7h1.0v1.0h-1.0zM233.5 89.9h1.0v1.0h-1.0zM230.1 91.5h1.0v1.0h-1.0zM237.2 99.8h1.0v1.0h-1.0zM221.7 82.8h1.0v1.0h-1.0zM239.0 94.9h1.0v1.0h-1.0zM226.9 82.5h1.0v1.0h-1.0zM232.2 91.1h1.0v1.0h-1.0zM229.2 94.5h1.0v1.0h-1.0zM247.2 87.6h1.0v1.0h-1.0zM244.4 80.0h1.0v1.0h-1.0zM228.5 92.5h1.0v1.0h-1.0zM242.5 81.1h1.0v1.0h-1.0zM232.6 91.7h1.0v1.0h-1.0zM235.8 84.4h1.0v1.0h-1.0zM236.0 93.9h1.0v1.0h-1.0zM232.3 81.4h1.0v1.0h-1.0zM245.7 86.3h1.0v1.0h-1.0zM221.0 90.7h1.0v1.0h-1.0zM242.9 95.5h1.0v1.0h-1.0zM243.2 89.0h1.0v1.0h-1.0zM238.6 91.8h1.0v1.0h-1.0zM248.5 91.1h1.0v1.0h-1.0zM224.6 95.2h1.0v1.0h-1.0zM237.4 88.2h1.0v1.0h-1.0zM234.5 93.8h1.0v1.0h-1.0zM236.3 90.8h1.0v1.0h-1.0zM236.3 94.9h1.0v1.0h-1.0zM227.7 91.6h1.0v1.0h-1.0zM240.1 89.1h1.0v1.0h-1.0zM247.3 99.1h1.0v1.0h-1.0zM234.3 96.7h1.0v1.0h-1.0zM231.1 101.4h1.0v1.0h-1.0zM245.4 86.3h1.0v1.0h-1.0zM242.5 92.6h1.0v1.0h-1.0zM233.7 82.0h1.0v1.0h-1.0zM235.1 95.3h1.0v1.0h-1.0zM243.6 91.7h1.0v1.0h-1.0zM239.9 84.1h1.0v1.0h-1.0zM232.1 90.2h1.0v1.0h-1.0zM234.7 83.3h1.0v1.0h-1.0zM226.8 96.2h1.0v1.0h-1.0zM235.6 91.7h1.0v1.0h-1.0zM228.8 81.8h1.0v1.0h-1.0zM243.0 91.2h1.0v1.0h-1.0zM243.2 84.7h1.0v1.0h-1.0zM233.2 91.1h1.0v1.0h-1.0zM234.1 97.2h1.0v1.0h-1.0zM246.0 84.9h1.0v1.0h-1.0zM244.0 88.2h1.0v1.0h-1.0zM242.7 91.7h1.0v1.0h-1.0zM234.8 90.9h1.0v1.0h-1.0zM250.9 95.9h1.0v1.0h-1.0zM239.7 87.4h1.0v1.0h-1.0zM254.8 97.7h1.0v1.0h-1.0zM239.7 93.8h1.0v1.0h-1.0zM237.3 93.5h1.0v1.0h-1.0zM244.7 90.7h1.0v1.0h-1.0zM237.0 87.1h1.0v1.0h-1.0zM232.5 89.6h1.0v1.0h-1.0zM240.3 76.8h1.0v1.0h-1.0zM243.0 84.2h1.0v1.0h-1.0zM244.0 96.8h1.0v1.0h-1.0zM248.2 93.8h1.0v1.0h-1.0zM231.6 101.5h1.0v1.0h-1.0zM233.8 99.0h1.0v1.0h-1.0zM231.0 89.5h1.0v1.0h-1.0zM228.6 89.8h1.0v1.0h-1.0zM241.8 95.7h1.0v1.0h-1.0zM225.1 87.5h1.0v1.0h-1.0zM231.0 96.4h1.0v1.0h-1.0zM239.4 96.3h1.0v1.0h-1.0zM237.3 99.9h1.0v1.0h-1.0zM238.8 94.0h1.0v1.0h-1.0zM242.2 91.5h1.0v1.0h-1.0zM231.3 88.3h1.0v1.0h-1.0zM248.0 98.1h1.0v1.0h-1.0zM234.6 93.3h1.0v1.0h-1.0zM224.9 96.2h1.0v1.0h-1.0zM236.2 76.5h1.0v1.0h-1.0zM230.0 87.9h1.0v1.0h-1.0zM233.9 89.4h1.0v1.0h-1.0zM230.6 79.0h1.0v1.0h-1.0zM248.7 83.7h1.0v1.0h-1.0zM228.3 80.8h1.0v1.0h-1.0zM234.0 96.9h1.0v1.0h-1.0zM245.6 101.4h1.0v1.0h-1.0zM231.8 89.1h1.0v1.0h-1.0zM246.9 88.6h1.0v1.0h-1.0zM239.9 100.7h1.0v1.0h-1.0zM229.2 83.4h1.0v1.0h-1.0zM241.2 85.8h1.0v1.0h-1.0zM234.8 97.1h1.0v1.0h-1.0zM239.9 98.3h1.0v1.0h-1.0zM231.5 90.0h1.0v1.0h-1.0zM239.7 91.9h1.0v1.0h-1.0zM221.7 83.3h1.0v1.0h-1.0zM240.7 78.2h1.0v1.0h-1.0zM224.2 85.0h1.0v1.0h-1.0zM233.0 94.4h1.0v1.0h-1.0zM241.3 86.8h1.0v1.0h-1.0zM229.6 84.0h1.0v1.0h-1.0zM245.7 91.9h1.0v1.0h-1.0zM241.1 77.4h1.0v1.0h-1.0zM222.5 95.7h1.0v1.0h-1.0zM252.4 92.5h1.0v1.0h-1.0zM230.7 79.5h1.0v1.0h-1.0zM227.1 92.0h1.0v1.0h-1.0zM238.9 85.6h1.0v1.0h-1.0zM241.6 98.6h1.0v1.0h-1.0zM240.3 86.4h1.0v1.0h-1.0zM228.0 87.3h1.0v1.0h-1.0zM231.1 100.1h1.0v1.0h-1.0zM233.8 99.6h1.0v1.0h-1.0zM232.9 91.2h1.0v1.0h-1.0zM240.6 88.6h1.0v1.0h-1.0zM238.0 90.3h1.0v1.0h-1.0zM235.5 90.5h1.0v1.0h-1.0zM246.5 101.2h1.0v1.0h-1.0zM236.2 98.9h1.0v1.0h-1.0zM236.8 90.4h1.0v1.0h-1.0zM240.3 89.5h1.0v1.0h-1.0zM244.4 87.5h1.0v1.0h-1.0zM236.5 91.3h1.0v1.0h-1.0zM232.4 85.3h1.0v1.0h-1.0zM239.9 95.2h1.0v1.0h-1.0zM234.8 84.1h1.0v1.0h-1.0zM232.0 87.9h1.0v1.0h-1.0zM234.4 88.8h1.0v1.0h-1.0zM251.7 83.0h1.0v1.0h-1.0zM228.9 86.3h1.0v1.0h-1.0zM226.5 95.4h1.0v1.0h-1.0zM226.1 84.9h1.0v1.0h-1.0zM229.4 91.5h1.0v1.0h-1.0zM235.7 85.7h1.0v1.0h-1.0zM233.5 93.1h1.0v1.0h-1.0zM240.6 100.9h1.0v1.0h-1.0zM231.8 98.5h1.0v1.0h-1.0zM252.8 93.5h1.0v1.0h-1.0zM224.4 91.3h1.0v1.0h-1.0zM244.5 94.4h1.0v1.0h-1.0zM238.8 84.8h1.0v1.0h-1.0zM242.6 92.7h1.0v1.0h-1.0zM238.0 79.3h1.0v1.0h-1.0zM242.6 91.5h1.0v1.0h-1.0zM241.8 86.9h1.0v1.0h-1.0zM249.4 95.6h1.0v1.0h-1.0zM240.0 83.5h1.0v1.0h-1.0zM232.4 79.9h1.0v1.0h-1.0zM239.0 86.1h1.0v1.0h-1.0zM234.4 75.9h1.0v1.0h-1.0zM238.7 82.3h1.0v1.0h-1.0zM220.1 99.7h1.0v1.0h-1.0zM250.0 88.9h1.0v1.0h-1.0zM220.7 88.9h1.0v1.0h-1.0zM242.8 84.4h1.0v1.0h-1.0zM243.5 95.5h1.0v1.0h-1.0zM241.0 93.5h1.0v1.0h-1.0zM228.5 86.4h1.0v1.0h-1.0zM227.9 80.7h1.0v1.0h-1.0zM242.6 87.8h1.0v1.0h-1.0zM242.8 87.9h1.0v1.0h-1.0zM229.2 97.6h1.0v1.0h-1.0zM245.3 88.3h1.0v1.0h-1.0zM240.5 78.6h1.0v1.0h-1.0zM232.4 97.0h1.0v1.0h-1.0zM237.9 88.9h1.0v1.0h-1.0zM247.3 98.0h1.0v1.0h-1.0zM229.3 86.9h1.0v1.0h-1.0zM238.7 83.1h1.0v1.0h-1.0zM241.0 93.7h1.0v1.0h-1.0zM237.2 80.8h1.0v1.0h-1.0zM235.4 89.4h1.0v1.0h-1.0zM239.5 89.3h1.0v1.0h-1.0zM234.2 99.8h1.0v1.0h-1.0zM247.1 85.9h1.0v1.0h-1.0zM227.3 96.1h1.0v1.0h-1.0zM231.7 82.5h1.0v1.0h-1.0zM238.6 82.0h1.0v1.0h-1.0zM230.9 88.3h1.0v1.0h-1.0zM237.1 86.6h1.0v1.0h-1.0zM245.2 94.2h1.0v1.0h-1.0zM251.1 92.9h1.0v1.0h-1.0zM239.5 95.7h1.0v1.0h-1.0zM236.0 96.3h1.0v1.0h-1.0zM232.8 86.7h1.0v1.0h-1.0zM217.1 85.0h1.0v1.0h-1.0zM239.6 92.8h1.0v1.0h-1.0zM237.7 92.1h1.0v1.0h-1.0zM255.4 90.6h1.0v1.0h-1.0zM238.6 89.0h1.0v1.0h-1.0zM241.4 82.6h1.0v1.0h-1.0zM240.6 101.4h1.0v1.0h-1.0zM244.5 95.1h1.0v1.0h-1.0zM231.1 81.2h1.0v1.0h-1.0zM236.9 92.8h1.0v1.0h-1.0zM232.2 85.7h1.0v1.0h-1.0zM226.8 83.3h1.0v1.0h-1.0zM248.3 91.4h1.0v1.0h-1.0zM244.1 88.6h1.0v1.0h-1.0zM230.5 87.0h1.0v1.0h-1.0zM240.4 86.5h1.0v1.0h-1.0zM243.7 93.6h1.0v1.0h-1.0zM227.3 92.1h1.0v1.0h-1.0zM241.4 102.6h1.0v1.0h-1.0zM229.2 88.1h1.0v1.0h-1.0zM236.5 87.7h1.0v1.0h-1.0zM249.0 84.0h1.0v1.0h-1.0zM236.1 96.0h1.0v1.0h-1.0zM249.4 92.0h1.0v1.0h-1.0zM246.5 88.1h1.0v1.0h-1.0zM244.9 88.5h1.0v1.0h-1.0zM246.3 80.9h1.0v1.0h-1.0zM243.9 86.4h1.0v1.0h-1.0zM234.5 89.3h1.0v1.0h-1.0zM239.6 88.6h1.0v1.0h-1.0zM227.6 85.4h1.0v1.0h-1.0zM239.7 94.4h1.0v1.0h-1.0zM236.2 90.2h1.0v1.0h-1.0zM230.6 92.9h1.0v1.0h-1.0zM234.2 80.3h1.0v1.0h-1.0zM250.9 85.5h1.0v1.0h-1.0zM236.1 97.6h1.0v1.0h-1.0zM231.8 79.5h1.0v1.0h-1.0zM240.8 93.6h1.0v1.0h-1.0zM231.6 86.0h1.0v1.0h-1.0zM243.2 86.3h1.0v1.0h-1.0zM235.8 87.2h1.0v1.0h-1.0zM252.6 79.8h1.0v1.0h-1.0zM243.2 88.2h1.0v1.0h-1.0zM247.2 74.6h1.0v1.0h-1.0zM238.8 90.9h1.0v1.0h-1.0zM225.0 74.0h1.0v1.0h-1.0zM250.5 91.6h1.0v1.0h-1.0zM231.9 83.6h1.0v1.0h-1.0zM242.1 95.0h1.0v1.0h-1.0zM231.5 89.4h1.0v1.0h-1.0zM246.5 83.6h1.0v1.0h-1.0zM241.8 96.6h1.0v1.0h-1.0zM222.1 81.2h1.0v1.0h-1.0zM252.1 87.9h1.0v1.0h-1.0zM243.9 91.5h1.0v1.0h-1.0zM243.6 97.6h1.0v1.0h-1.0zM248.7 95.0h1.0v1.0h-1.0zM228.5 83.7h1.0v1.0h-1.0zM250.7 85.3h1.0v1.0h-1.0zM235.3 81.0h1.0v1.0h-1.0zM227.8 87.3h1.0v1.0h-1.0zM241.4 90.1h1.0v1.0h-1.0zM233.6 83.6h1.0v1.0h-1.0zM222.7 92.9h1.0v1.0h-1.0zM227.4 95.7h1.0v1.0h-1.0zM241.2 78.7h1.0v1.0h-1.0zM237.5 97.6h1.0v1.0h-1.0zM226.7 91.0h1.0v1.0h-1.0zM240.7 91.4h1.0v1.0h-1.0zM236.9 99.9h1.0v1.0h-1.0zM238.0 83.6h1.0v1.0h-1.0zM230.1 85.4h1.0v1.0h-1.0zM230.8 88.3h1.0v1.0h-1.0zM226.0 101.9h1.0v1.0h-1.0zM239.4 87.4h1.0v1.0h-1.0zM247.5 97.6h1.0v1.0h-1.0zM226.4 92.4h1.0v1.0h-1.0zM228.4 84.5h1.0v1.0h-1.0zM240.1 87.5h1.0v1.0h-1.0zM240.2 85.8h1.0v1.0h-1.0zM242.1 91.7h1.0v1.0h-1.0zM223.1 88.4h1.0v1.0h-1.0zM219.1 81.7h1.0v1.0h-1.0zM239.2 94.8h1.0v1.0h-1.0zM227.5 85.8h1.0v1.0h-1.0zM233.5 82.7h1.0v1.0h-1.0zM247.1 95.6h1.0v1.0h-1.0zM237.3 87.2h1.0v1.0h-1.0zM236.8 88.8h1.0v1.0h-1.0zM232.3 81.7h1.0v1.0h-1.0zM235.5 91.9h1.0v1.0h-1.0zM236.0 97.8h1.0v1.0h-1.0zM223.1 87.1h1.0v1.0h-1.0zM241.4 96.8h1.0v1.0h-1.0zM235.8 91.1h1.0v1.0h-1.0zM237.9 92.1h1.0v1.0h-1.0zM237.6 90.8h1.0v1.0h-1.0zM243.5 88.5h1.0v1.0h-1.0zM236.9 83.1h1.0v1.0h-1.0zM230.8 89.1h1.0v1.0h-1.0zM241.4 88.0h1.0v1.0h-1.0zM249.1 86.8h1.0v1.0h-1.0zM238.7 87.4h1.0v1.0h-1.0zM247.4 88.7h1.0v1.0h-1.0zM228.0 85.7h1.0v1.0h-1.0zM219.0 94.4h1.0v1.0h-1.0zM254.9 87.6h1.0v1.0h-1.0zM242.3 95.1h1.0v1.0h-1.0zM235.0 85.8h1.0v1.0h-1.0zM246.2 83.0h1.0v1.0h-1.0zM241.1 92.9h1.0v1.0h-1.0zM230.0 78.2h1.0v1.0h-1.0zM242.5 89.3h1.0v1.0h-1.0zM241.6 82.6h1.0v1.0h-1.0zM232.9 92.8h1.0v1.0h-1.0zM238.1 90.4h1.0v1.0h-1.0zM233.1 90.7h1.0v1.0h-1.0zM238.4 94.5h1.0v1.0h-1.0zM239.8 92.4h1.0v1.0h-1.0zM235.7 105.7h1.0v1.0h-1.0zM227.3 93.2h1.0v1.0h-1.0zM218.1 85.5h1.0v1.0h-1.0zM244.4 77.2h1.0v1.0h-1.0zM245.0 82.3h1.0v1.0h-1.0zM241.3 85.6h1.0v1.0h-1.0zM231.3 86.0h1.0v1.0h-1.0zM241.8 87.3h1.0v1.0h-1.0zM242.0 89.4h1.0v1.0h-1.0zM229.9 97.8h1.0v1.0h-1.0zM231.8 87.6h1.0v1.0h-1.0zM247.2 98.2h1.0v1.0h-1.0zM238.9 96.3h1.0v1.0h-1.0zM241.0 83.5h1.0v1.0h-1.0zM232.1 89.9h1.0v1.0h-1.0zM245.9 86.2h1.0v1.0h-1.0zM232.8 84.2h1.0v1.0h-1.0zM234.8 83.7h1.0v1.0h-1.0zM239.5 94.5h1.0v1.0h-1.0zM237.6 77.5h1.0v1.0h-1.0zM225.5 88.6h1.0v1.0h-1.0zM246.5 85.9h1.0v1.0h-1.0zM242.2 88.7h1.0v1.0h-1.0zM245.2 82.2h1.0v1.0h-1.0zM227.4 86.0h1.0v1.0h-1.0zM237.2 90.4h1.0v1.0h-1.0zM252.0 91.9h1.0v1.0h-1.0zM228.3 94.3h1.0v1.0h-1.0zM222.1 93.8h1.0v1.0h-1.0zM235.9 83.6h1.0v1.0h-1.0zM233.1 86.2h1.0v1.0h-1.0zM240.6 88.2h1.0v1.0h-1.0zM244.4 85.5h1.0v1.0h-1.0zM249.4 103.2h1.0v1.0h-1.0zM240.1 98.0h1.0v1.0h-1.0zM236.3 92.6h1.0v1.0h-1.0zM240.6 77.2h1.0v1.0h-1.0zM245.2 83.8h1.0v1.0h-1.0zM233.8 86.7h1.0v1.0h-1.0zM243.2 89.3h1.0v1.0h-1.0zM235.4 88.4h1.0v1.0h-1.0zM232.8 96.1h1.0v1.0h-1.0zM228.9 90.4h1.0v1.0h-1.0zM235.4 90.2h1.0v1.0h-1.0zM232.2 84.9h1.0v1.0h-1.0zM242.0 93.1h1.0v1.0h-1.0zM230.5 80.7h1.0v1.0h-1.0zM233.3 90.9h1.0v1.0h-1.0zM229.4 83.6h1.0v1.0h-1.0zM216.8 91.0h1.0v1.0h-1.0zM230.4 94.8h1.0v1.0h-1.0zM240.4 90.0h1.0v1.0h-1.0zM238.2 93.0h1.0v1.0h-1.0zM238.1 92.0h1.0v1.0h-1.0zM245.2 85.5h1.0v1.0h-1.0zM226.9 89.9h1.0v1.0h-1.0zM233.4 101.2h1.0v1.0h-1.0zM235.8 83.1h1.0v1.0h-1.0zM236.7 89.4h1.0v1.0h-1.0zM248.3 91.5h1.0v1.0h-1.0zM244.5 90.7h1.0v1.0h-1.0zM229.3 88.7h1.0v1.0h-1.0zM231.3 103.0h1.0v1.0h-1.0zM248.6 86.5h1.0v1.0h-1.0zM218.5 86.0h1.0v1.0h-1.0zM234.9 85.2h1.0v1.0h-1.0zM239.2 92.0h1.0v1.0h-1.0zM242.4 93.0h1.0v1.0h-1.0zM232.5 86.8h1.0v1.0h-1.0zM242.4 92.1h1.0v1.0h-1.0zM221.6 92.6h1.0v1.0h-1.0zM247.3 82.4h1.0v1.0h-1.0zM235.6 100.5h1.0v1.0h-1.0zM234.6 97.2h1.0v1.0h-1.0zM231.2 88.5h1.0v1.0h-1.0zM230.8 88.2h1.0v1.0h-1.0zM238.1 85.2h1.0v1.0h-1.0zM237.5 85.6h1.0v1.0h-1.0zM244.6 89.8h1.0v1.0h-1.0zM244.3 83.6h1.0v1.0h-1.0zM236.4 96.5h1.0v1.0h-1.0zM231.1 97.1h1.0v1.0h-1.0zM235.4 92.9h1.0v1.0h-1.0zM238.6 89.4h1.0v1.0h-1.0zM240.8 93.4h1.0v1.0h-1.0zM231.8 96.0h1.0v1.0h-1.0zM232.1 89.5h1.0v1.0h-1.0zM242.2 81.1h1.0v1.0h-1.0zM238.4 92.7h1.0v1.0h-1.0zM243.3 94.0h1.0v1.0h-1.0zM228.7 82.2h1.0v1.0h-1.0zM237.6 101.4h1.0v1.0h-1.0zM243.4 85.5h1.0v1.0h-1.0zM239.9 91.9h1.0v1.0h-1.0zM236.0 87.2h1.0v1.0h-1.0zM228.0 82.7h1.0v1.0h-1.0zM240.7 89.8h1.0v1.0h-1.0zM237.0 95.8h1.0v1.0h-1.0zM244.4 80.7h1.0v1.0h-1.0zM235.6 90.0h1.0v1.0h-1.0zM231.7 88.4h1.0v1.0h-1.0zM232.3 102.9h1.0v1.0h-1.0zM234.7 95.2h1.0v1.0h-1.0zM228.3 77.1h1.0v1.0h-1.0zM245.8 92.4h1.0v1.0h-1.0zM234.5 86.7h1.0v1.0h-1.0zM241.9 92.6h1.0v1.0h-1.0zM230.3 97.3h1.0v1.0h-1.0zM247.3 87.7h1.0v1.0h-1.0z" fill="#3048c0" fill-opacity="0.4"/>
<path d="M227.3 99.5h1.0v1.0h-1.0zM263.9 92.9h1.0v1.0h-1.0zM244.3 95.2h1.0v1.0h-1.0zM265.2 97.5h1.0v1.0h-1.0zM252.6 90.5h1.0v1.0h-1.0zM238.0 90.5h1.0v1.0h-1.0zM245.1 90.7h1.0v1.0h-1.0zM265.9 90.6h1.0v1.0h-1.0zM233.2 96.7h1.0v1.0h-1.0zM258.5 93.9h1.0v1.0h-1.0zM260.4 94.4h1.0v1.0h-1.0zM264.4 91.0h1.0v1.0h-1.0zM256.6 91.2h1.0v1.0h-1.0zM253.7 96.5h1.0v1.0h-1.0zM258.2 95.6h1.0v1.0h-1.0zM263.1 100.1h1.0v1.0h-1.0zM237.7 92.8h1.0v1.0h-1.0zM264.7 94.1h1.0v1.0h-1.0zM263.5 101.1h1.0v1.0h-1.0zM263.2 97.1h1.0v1.0h-1.0zM257.6 92.9h1.0v1.0h-1.0zM253.5 99.4h1.0v1.0h-1.0zM269.8 98.4h1.0v1.0h-1.0zM254.8 89.9h1.0v1.0h-1.0zM255.9 92.5h1.0v1.0h-1.0zM261.4 90.8h1.0v1.0h-1.0zM242.7 98.7h1.0v1.0h-1.0zM252.4 94.7h1.0v1.0h-1.0zM254.2 93.5h1.0v1.0h-1.0zM249.2 93.5h1.0v1.0h-1.0zM247.0 96.3h1.0v1.0h-1.0zM250.9 89.7h1.0v1.0h-1.0zM251.1 96.4h1.0v1.0h-1.0zM255.6 93.1h1.0v1.0h-1.0zM242.5 91.6h1.0v1.0h-1.0zM253.6 93.8h1.0v1.0h-1.0zM266.2 96.9h1.0v1.0h-1.0zM257.9 89.6h1.0v1.0h-1.0zM268.9 93.9h1.0v1.0h-1.0zM234.8 98.3h1.0v1.0h-1.0zM255.3 96.1h1.0v1.0h-1.0zM253.3 94.9h1.0v1.0h-1.0zM244.9 92.6h1.0v1.0h-1.0zM259.6 98.9h1.0v1.0h-1.0zM241.3 95.4h1.0v1.0h-1.0zM259.1 88.3h1.0v1.0h-1.0zM253.3 92.9h1.0v1.0h-1.0zM243.1 92.1h1.0v1.0h-1.0zM257.9 97.6h1.0v1.0h-1.0zM247.9 94.0h1.0v1.0h-1.0zM261.4 95.8h1.0v1.0h-1.0zM241.7 97.5h1.0v1.0h-1.0zM272.3 93.8h1.0v1.0h-1.0zM275.1 88.2h1.0v1.0h-1.0zM242.5 94.0h1.0v1.0h-1.0zM269.1 95.4h1.0v1.0h-1.0zM259.3 91.6h1.0v1.0h-1.0zM251.9 93.4h1.0v1.0h-1.0zM263.8 93.0h1.0v1.0h-1.0zM248.8 95.0h1.0v1.0h-1.0zM270.3 88.1h1.0v1.0h-1.0zM245.7 96.6h1.0v1.0h-1.0zM251.8 99.7h1.0v1.0h-1.0zM242.3 89.8h1.0v1.0h-1.0zM265.6 94.9h1.0v1.0h-1.0zM257.0 94.3h1.0v1.0h-1.0zM248.8 92.0h1.0v1.0h-1.0zM260.7 96.4h1.0v1.0h-1.0zM261.1 93.8h1.0v1.0h-1.0zM237.2 95.5h1.0v1.0h-1.0zM256.5 94.9h1.0v1.0h-1.0zM245.0 91.4h1.0v1.0h-1.0zM271.7 96.0h1.0v1.0h-1.0zM256.3 89.7h1.0v1.0h-1.0zM255.9 102.3h1.0v1.0h-1.0zM261.3 107.5h1.0v1.0h-1.0zM236.3 92.0h1.0v1.0h-1.0zM243.2 93.1h1.0v1.0h-1.0zM264.0 93.1h1.0v1.0h-1.0zM245.9 102.8h1.0v1.0h-1.0zM259.7 94.3h1.0v1.0h-1.0zM264.6 89.8h1.0v1.0h-1.0zM256.6 96.9h1.0v1.0h-1.0zM271.0 96.8h1.0v1.0h-1.0zM270.0 97.6h1.0v1.0h-1.0zM262.5 84.5h1.0v1.0h-1.0zM267.5 98.5h1.0v1.0h-1.0zM258.8 95.2h1.0v1.0h-1.0zM257.8 92.8h1.0v1.0h-1.0zM252.8 84.2h1.0v1.0h-1.0zM245.6 94.8h1.0v1.0h-1.0zM265.1 91.4h1.0v1.0h-1.0zM268.7 93.9h1.0v1.0h-1.0zM252.4 94.8h1.0v1.0h-1.0zM266.8 90.7h1.0v1.0h-1.0zM263.9 98.5h1.0v1.0h-1.0zM253.8 98.1h1.0v1.0h-1.0zM257.0 95.6h1.0v1.0h-1.0zM241.0 95.5h1.0v1.0h-1.0zM250.7 87.8h1.0v1.0h-1.0zM267.7 91.4h1.0v1.0h-1.0zM255.0 100.4h1.0v1.0h-1.0zM254.6 92.7h1.0v1.0h-1.0zM274.7 95.1h1.0v1.0h-1.0zM263.6 100.7h1.0v1.0h-1.0zM263.9 93.2h1.0v1.0h-1.0zM251.6 94.2h1.0v1.0h-1.0zM270.5 97.6h1.0v1.0h-1.0zM250.0 92.5h1.0v1.0h-1.0zM256.3 95.7h1.0v1.0h-1.0zM255.7 91.6h1.0v1.0h-1.0zM270.8 96.6h1.0v1.0h-1.0zM252.9 96.4h1.0v1.0h-1.0zM247.1 93.1h1.0v1.0h-1.0zM245.2 93.8h1.0v1.0h-1.0zM248.1 93.7h1.0v1.0h-1.0zM232.5 94.3h1.0v1.0h-1.0zM257.3 97.9h1.0v1.0h-1.0zM245.4 95.3h1.0v1.0h-1.0zM248.1 98.5h1.0v1.0h-1.0zM259.7 93.6h1.0v1.0h-1.0zM231.2 97.6h1.0v1.0h-1.0zM268.8 94.4h1.0v1.0h-1.0zM247.8 97.5h1.0v1.0h-1.0zM254.0 91.7h1.0v1.0h-1.0zM266.8 96.4h1.0v1.0h-1.0zM264.9 94.1h1.0v1.0h-1.0zM264.9 92.7h1.0v1.0h-1.0zM249.3 89.7h1.0v1.0h-1.0zM256.4 89.4h1.0v1.0h-1.0zM249.4 89.3h1.0v1.0h-1.0zM254.8 101.6h1.0v1.0h-1.0zM246.8 91.8h1.0v1.0h-1.0zM249.4 92.0h1.0v1.0h-1.0zM256.2 102.1h1.0v1.0h-1.0zM257.0 97.6h1.0v1.0h-1.0zM246.2 92.2h1.0v1.0h-1.0zM261.0 95.9h1.0v1.0h-1.0zM255.5 92.5h1.0v1.0h-1.0zM250.7 94.6h1.0v1.0h-1.0zM277.1 98.9h1.0v1.0h-1.0zM245.6 95.9h1.0v1.0h-1.0zM259.8 95.3h1.0v1.0h-1.0zM234.3 93.6h1.0v1.0h-1.0zM263.4 93.1h1.0v1.0h-1.0zM248.7 94.2h1.0v1.0h-1.0zM257.5 92.8h1.0v1.0h-1.0zM253.0 96.5h1.0v1.0h-1.0zM253.8 87.4h1.0v1.0h-1.0zM247.5 95.5h1.0v1.0h-1.0zM258.6 93.6h1.0v1.0h-1.0zM255.7 91.4h1.0v1.0h-1.0zM260.8 92.9h1.0v1.0h-1.0zM267.1 89.5h1.0v1.0h-1.0zM252.6 96.6h1.0v1.0h-1.0zM252.6 93.4h1.0v1.0h-1.0zM248.1 93.0h1.0v1.0h-1.0zM252.9 93.0h1.0v1.0h-1.0zM252.3 91.8h1.0v1.0h-1.0zM242.2 91.8h1.0v1.0h-1.0zM259.0 97.1h1.0v1.0h-1.0zM251.9 89.2h1.0v1.0h-1.0zM256.7 93.9h1.0v1.0h-1.0zM248.6 96.5h1.0v1.0h-1.0zM262.9 91.7h1.0v1.0h-1.0zM252.5 96.2h1.0v1.0h-1.0zM247.3 95.5h1.0v1.0h-1.0zM267.6 95.0h1.0v1.0h-1.0zM262.0 92.1h1.0v1.0h-1.0zM237.4 96.6h1.0v1.0h-1.0zM277.0 91.9h1.0v1.0h-1.0zM254.9 92.2h1.0v1.0h-1.0zM249.7 96.8h1.0v1.0h-1.0zM260.1 88.6h1.0v1.0h-1.0zM257.2 92.6h1.0v1.0h-1.0zM259.2 105.3h1.0v1.0h-1.0zM248.5 98.4h1.0v1.0h-1.0zM242.2 96.9h1.0v1.0h-1.0zM271.3 94.6h1.0v1.0h-1.0zM266.7 91.5h1.0v1.0h-1.0zM246.7 98.7h1.0v1.0h-1.0zM258.7 100.2h1.0v1.0h-1.0zM258.7 89.9h1.0v1.0h-1.0zM255.2 89.0h1.0v1.0h-1.0zM257.3 86.9h1.0v1.0h-1.0zM256.2 86.7h1.0v1.0h-1.0zM254.1 93.0h1.0v1.0h-1.0zM261.1 101.7h1.0v1.0h-1.0zM270.4 98.1h1.0v1.0h-1.0zM254.0 92.5h1.0v1.0h-1.0zM265.8 90.8h1.0v1.0h-1.0zM256.7 97.5h1.0v1.0h-1.0zM249.6 90.0h1.0v1.0h-1.0zM239.7 91.0h1.0v1.0h-1.0zM247.6 100.7h1.0v1.0h-1.0zM272.1 92.9h1.0v1.0h-1.0zM248.8 95.4h1.0v1.0h-1.0zM245.9 94.4h1.0v1.0h-1.0zM253.1 93.1h1.0v1.0h-1.0zM253.9 95.9h1.0v1.0h-1.0z" fill="#4058c8" fill-opacity="0.45"/>
<path d="M276.6 95.3h1.0v1.0h-1.0zM269.1 88.5h1.0v1.0h-1.0zM269.9 101.0h1.0v1.0h-1.0zM266.6 91.7h1.0v1.0h-1.0zM273.2 96.4h1.0v1.0h-1.0zM277.6 101.2h1.0v1.0h-1.0zM268.0 82.7h1.0v1.0h-1.0zM269.2 91.6h1.0v1.0h-1.0zM278.4 104.3h1.0v1.0h-1.0zM276.5 93.3h1.0v1.0h-1.0zM275.8 91.2h1.0v1.0h-1.0zM284.5 86.0h1.0v1.0h-1.0zM277.7 94.1h1.0v1.0h-1.0zM276.9 74.8h1.0v1.0h-1.0zM267.8 87.8h1.0v1.0h-1.0zM269.9 96.3h1.0v1.0h-1.0zM278.8 95.4h1.0v1.0h-1.0zM275.9 101.5h1.0v1.0h-1.0zM274.4 92.9h1.0v1.0h-1.0zM272.4 92.9h1.0v1.0h-1.0zM274.2 91.4h1.0v1.0h-1.0zM272.5 93.3h1.0v1.0h-1.0zM271.8 98.3h1.0v1.0h-1.0zM274.4 84.0h1.0v1.0h-1.0zM272.2 93.8h1.0v1.0h-1.0zM270.5 84.7h1.0v1.0h-1.0zM274.7 94.8h1.0v1.0h-1.0zM273.9 86.5h1.0v1.0h-1.0zM274.8 83.1h1.0v1.0h-1.0zM277.1 94.7h1.0v1.0h-1.0zM280.1 86.3h1.0v1.0h-1.0zM268.4 73.6h1.0v1.0h-1.0zM280.2 90.9h1.0v1.0h-1.0zM277.2 85.9h1.0v1.0h-1.0zM276.7 88.1h1.0v1.0h-1.0zM283.1 85.0h1.0v1.0h-1.0zM278.0 76.4h1.0v1.0h-1.0zM272.6 82.5h1.0v1.0h-1.0zM278.5 98.2h1.0v1.0h-1.0zM280.5 98.7h1.0v1.0h-1.0zM276.8 78.9h1.0v1.0h-1.0zM274.4 86.2h1.0v1.0h-1.0zM271.6 86.9h1.0v1.0h-1.0zM277.7 85.3h1.0v1.0h-1.0zM270.3 96.9h1.0v1.0h-1.0zM275.4 82.3h1.0v1.0h-1.0zM271.3 98.4h1.0v1.0h-1.0zM273.2 90.1h1.0v1.0h-1.0zM274.4 95.0h1.0v1.0h-1.0zM273.0 91.2h1.0v1.0h-1.0zM275.0 82.7h1.0v1.0h-1.0zM277.8 99.1h1.0v1.0h-1.0zM274.8 89.8h1.0v1.0h-1.0zM274.2 84.1h1.0v1.0h-1.0zM280.3 82.8h1.0v1.0h-1.0zM270.4 83.6h1.0v1.0h-1.0zM276.6 101.2h1.0v1.0h-1.0zM272.9 81.1h1.0v1.0h-1.0zM272.4 92.8h1.0v1.0h-1.0zM273.2 94.1h1.0v1.0h-1.0zM272.0 83.1h1.0v1.0h-1.0zM270.5 83.5h1.0v1.0h-1.0zM273.6 100.0h1.0v1.0h-1.0zM275.9 82.6h1.0v1.0h-1.0zM275.8 96.2h1.0v1.0h-1.0zM273.6 96.6h1.0v1.0h-1.0zM273.3 85.6h1.0v1.0h-1.0zM276.7 106.7h1.0v1.0h-1.0zM268.5 84.5h1.0v1.0h-1.0zM273.1 92.8h1.0v1.0h-1.0zM281.0 97.6h1.0v1.0h-1.0zM275.8 91.8h1.0v1.0h-1.0zM271.9 87.6h1.0v1.0h-1.0zM277.4 92.8h1.0v1.0h-1.0zM273.0 89.4h1.0v1.0h-1.0zM272.9 94.9h1.0v1.0h-1.0zM267.9 90.9h1.0v1.0h-1.0zM270.0 85.6h1.0v1.0h-1.0zM274.8 90.4h1.0v1.0h-1.0zM279.4 98.4h1.0v1.0h-1.0zM271.3 91.8h1.0v1.0h-1.0zM276.2 87.6h1.0v1.0h-1.0zM268.9 92.9h1.0v1.0h-1.0zM274.3 89.1h1.0v1.0h-1.0zM274.2 104.3h1.0v1.0h-1.0zM272.2 87.1h1.0v1.0h-1.0zM277.7 86.6h1.0v1.0h-1.0zM276.5 87.9h1.0v1.0h-1.0zM272.2 87.2h1.0v1.0h-1.0zM279.3 91.6h1.0v1.0h-1.0zM271.8 90.9h1.0v1.0h-1.0zM273.3 97.6h1.0v1.0h-1.0zM269.0 78.8h1.0v1.0h-1.0zM273.5 75.9h1.0v1.0h-1.0zM274.4 92.8h1.0v1.0h-1.0zM278.0 101.7h1.0v1.0h-1.0zM279.0 97.9h1.0v1.0h-1.0zM280.2 90.7h1.0v1.0h-1.0zM272.4 91.7h1.0v1.0h-1.0zM275.7 87.8h1.0v1.0h-1.0zM278.2 91.7h1.0v1.0h-1.0zM284.0 81.3h1.0v1.0h-1.0zM273.7 91.2h1.0v1.0h-1.0zM271.2 92.9h1.0v1.0h-1.0zM272.8 86.2h1.0v1.0h-1.0zM269.4 98.5h1.0v1.0h-1.0zM275.3 86.7h1.0v1.0h-1.0zM273.7 90.9h1.0v1.0h-1.0zM274.1 91.4h1.0v1.0h-1.0zM272.4 86.7h1.0v1.0h-1.0zM278.1 88.2h1.0v1.0h-1.0zM277.3 100.9h1.0v1.0h-1.0zM271.4 96.6h1.0v1.0h-1.0zM274.1 84.9h1.0v1.0h-1.0zM273.6 91.0h1.0v1.0h-1.0zM274.2 93.8h1.0v1.0h-1.0zM270.9 91.5h1.0v1.0h-1.0zM275.3 97.4h1.0v1.0h-1.0zM282.4 92.4h1.0v1.0h-1.0zM276.5 87.2h1.0v1.0h-1.0zM279.8 90.8h1.0v1.0h-1.0zM271.9 91.1h1.0v1.0h-1.0zM272.8 79.7h1.0v1.0h-1.0zM275.5 84.5h1.0v1.0h-1.0zM276.2 88.1h1.0v1.0h-1.0zM277.0 73.8h1.0v1.0h-1.0zM276.5 92.4h1.0v1.0h-1.0zM272.5 82.7h1.0v1.0h-1.0zM275.0 92.4h1.0v1.0h-1.0zM283.3 82.9h1.0v1.0h-1.0zM275.6 90.2h1.0v1.0h-1.0zM274.5 84.3h1.0v1.0h-1.0zM272.8 95.4h1.0v1.0h-1.0zM273.8 85.1h1.0v1.0h-1.0zM275.0 92.8h1.0v1.0h-1.0zM277.8 93.5h1.0v1.0h-1.0zM273.9 83.0h1.0v1.0h-1.0zM281.1 88.4h1.0v1.0h-1.0zM277.7 86.4h1.0v1.0h-1.0zM269.7 90.4h1.0v1.0h-1.0z" fill="#3048c0" fill-opacity="0.55"/>
<path d="M273.6 63.9h1.0v1.0h-1.0zM272.0 64.4h1.0v1.0h-1.0zM271.7 65.9h1.0v1.0h-1.0zM271.2 65.4h1.0v1.0h-1.0zM274.0 67.8h1.0v1.0h-1.0zM278.8 65.6h1.0v1.0h-1.0zM273.7 73.1h1.0v1.0h-1.0zM275.1 62.2h1.0v1.0h-1.0zM274.2 68.3h1.0v1.0h-1.0zM276.5 66.0h1.0v1.0h-1.0z" fill="#4058c8" fill-opacity="0.4"/>
<g filter="url(#bl)"><ellipse cx="274.60" cy="92.20" rx="4.60" ry="8.20" fill="#2f55cc" fill-opacity="0.6"/><ellipse cx="274.60" cy="92.40" rx="3.30" ry="6.60" fill="#1aa4e0" fill-opacity="1"/><ellipse cx="274.60" cy="92.20" rx="2.30" ry="5.00" fill="#3cc050" fill-opacity="1"/><ellipse cx="274.70" cy="91.60" rx="1.10" ry="2.80" fill="#d8d828" fill-opacity="1"/></g>
</g>
<rect x="221.00" y="37.70" width="69.80" height="61.70" fill="none" stroke="#000" stroke-width="1.5"/>
<text x="222.20" y="107.30" font-size="6.7" text-anchor="middle" fill="#111">10<tspan font-size="4.6" dy="-2.9">0</tspan></text>
<text x="218.00" y="101.30" font-size="6.7" text-anchor="end" fill="#111">10<tspan font-size="4.6" dy="-2.9">0</tspan></text>
<line x1="238.45" y1="99.40" x2="238.45" y2="101.20" stroke="#000" stroke-width="1.1" />
<line x1="219.20" y1="83.98" x2="221.00" y2="83.98" stroke="#000" stroke-width="1.1" />
<text x="239.65" y="107.30" font-size="6.7" text-anchor="middle" fill="#111">10<tspan font-size="4.6" dy="-2.9">1</tspan></text>
<text x="218.00" y="85.88" font-size="6.7" text-anchor="end" fill="#111">10<tspan font-size="4.6" dy="-2.9">1</tspan></text>
<line x1="255.90" y1="99.40" x2="255.90" y2="101.20" stroke="#000" stroke-width="1.1" />
<line x1="219.20" y1="68.55" x2="221.00" y2="68.55" stroke="#000" stroke-width="1.1" />
<text x="257.10" y="107.30" font-size="6.7" text-anchor="middle" fill="#111">10<tspan font-size="4.6" dy="-2.9">2</tspan></text>
<text x="218.00" y="70.45" font-size="6.7" text-anchor="end" fill="#111">10<tspan font-size="4.6" dy="-2.9">2</tspan></text>
<line x1="273.35" y1="99.40" x2="273.35" y2="101.20" stroke="#000" stroke-width="1.1" />
<line x1="219.20" y1="53.12" x2="221.00" y2="53.12" stroke="#000" stroke-width="1.1" />
<text x="274.55" y="107.30" font-size="6.7" text-anchor="middle" fill="#111">10<tspan font-size="4.6" dy="-2.9">3</tspan></text>
<text x="218.00" y="55.02" font-size="6.7" text-anchor="end" fill="#111">10<tspan font-size="4.6" dy="-2.9">3</tspan></text>
<text x="292.00" y="107.30" font-size="6.7" text-anchor="middle" fill="#111">10<tspan font-size="4.6" dy="-2.9">4</tspan></text>
<text x="218.00" y="39.60" font-size="6.7" text-anchor="end" fill="#111">10<tspan font-size="4.6" dy="-2.9">4</tspan></text>
<text x="253.50" y="117.20" font-size="8.6" text-anchor="middle" textLength="14.2" lengthAdjust="spacingAndGlyphs" >CD8</text>
<text x="207.60" y="67.25" font-size="8.6" text-anchor="middle" textLength="15.0" lengthAdjust="spacingAndGlyphs" transform="rotate(-90 207.60 67.25)" >CD4</text>
<text x="251.00" y="34.70" font-size="8.8" text-anchor="middle" textLength="38.0" lengthAdjust="spacingAndGlyphs" >CD4 dep</text>
<rect x="221.80" y="60.60" width="28.30" height="11.10" fill="none" stroke="#000" stroke-width="1.7"/>
<g clip-path="url(#c3)">
<path d="M351.4 85.4h1.0v1.0h-1.0zM314.6 82.8h1.0v1.0h-1.0zM341.8 93.6h1.0v1.0h-1.0zM338.0 91.2h1.0v1.0h-1.0zM351.7 93.3h1.0v1.0h-1.0zM314.8 85.2h1.0v1.0h-1.0zM345.8 96.0h1.0v1.0h-1.0zM315.6 87.2h1.0v1.0h-1.0zM330.3 92.8h1.0v1.0h-1.0zM325.6 88.7h1.0v1.0h-1.0zM334.0 94.0h1.0v1.0h-1.0zM341.4 95.2h1.0v1.0h-1.0zM331.8 89.8h1.0v1.0h-1.0zM337.2 99.6h1.0v1.0h-1.0zM331.5 97.8h1.0v1.0h-1.0zM337.5 99.5h1.0v1.0h-1.0zM327.7 90.8h1.0v1.0h-1.0zM324.1 97.5h1.0v1.0h-1.0zM331.5 94.2h1.0v1.0h-1.0zM329.6 92.4h1.0v1.0h-1.0zM335.2 92.6h1.0v1.0h-1.0zM326.0 99.7h1.0v1.0h-1.0zM338.2 89.0h1.0v1.0h-1.0zM330.0 83.4h1.0v1.0h-1.0zM337.4 91.3h1.0v1.0h-1.0zM325.2 82.7h1.0v1.0h-1.0zM331.0 90.5h1.0v1.0h-1.0zM338.9 85.1h1.0v1.0h-1.0zM329.0 91.0h1.0v1.0h-1.0zM332.1 92.1h1.0v1.0h-1.0zM319.6 89.8h1.0v1.0h-1.0zM344.8 96.9h1.0v1.0h-1.0zM327.0 93.1h1.0v1.0h-1.0zM325.1 90.0h1.0v1.0h-1.0zM332.5 94.8h1.0v1.0h-1.0zM332.1 89.8h1.0v1.0h-1.0zM331.5 94.3h1.0v1.0h-1.0zM324.3 85.9h1.0v1.0h-1.0zM326.4 92.9h1.0v1.0h-1.0zM351.6 93.1h1.0v1.0h-1.0zM328.6 90.8h1.0v1.0h-1.0zM320.0 85.3h1.0v1.0h-1.0zM337.3 102.2h1.0v1.0h-1.0zM335.9 96.0h1.0v1.0h-1.0zM309.7 96.2h1.0v1.0h-1.0zM316.5 92.7h1.0v1.0h-1.0zM329.8 88.2h1.0v1.0h-1.0zM321.4 93.0h1.0v1.0h-1.0zM328.2 94.4h1.0v1.0h-1.0zM345.0 103.4h1.0v1.0h-1.0zM335.9 90.6h1.0v1.0h-1.0zM339.3 91.6h1.0v1.0h-1.0zM331.7 86.8h1.0v1.0h-1.0zM321.8 92.6h1.0v1.0h-1.0zM341.8 92.9h1.0v1.0h-1.0zM330.6 101.9h1.0v1.0h-1.0zM326.1 89.1h1.0v1.0h-1.0zM337.3 86.7h1.0v1.0h-1.0zM321.4 86.3h1.0v1.0h-1.0zM330.3 88.7h1.0v1.0h-1.0zM341.1 86.3h1.0v1.0h-1.0zM331.9 84.4h1.0v1.0h-1.0zM333.6 104.4h1.0v1.0h-1.0zM328.2 81.9h1.0v1.0h-1.0zM329.4 95.6h1.0v1.0h-1.0zM354.3 81.0h1.0v1.0h-1.0zM329.5 89.4h1.0v1.0h-1.0zM328.4 97.3h1.0v1.0h-1.0zM339.3 92.0h1.0v1.0h-1.0zM312.3 87.6h1.0v1.0h-1.0zM324.1 83.0h1.0v1.0h-1.0zM336.1 100.6h1.0v1.0h-1.0zM332.4 95.2h1.0v1.0h-1.0zM327.4 89.0h1.0v1.0h-1.0zM345.1 92.3h1.0v1.0h-1.0zM342.9 94.3h1.0v1.0h-1.0zM339.6 95.0h1.0v1.0h-1.0zM338.6 89.0h1.0v1.0h-1.0zM336.5 100.9h1.0v1.0h-1.0zM340.0 89.3h1.0v1.0h-1.0zM330.6 88.4h1.0v1.0h-1.0zM337.5 92.2h1.0v1.0h-1.0zM318.2 87.3h1.0v1.0h-1.0zM334.2 93.8h1.0v1.0h-1.0zM329.0 95.1h1.0v1.0h-1.0zM322.2 97.8h1.0v1.0h-1.0zM321.3 97.4h1.0v1.0h-1.0zM319.7 83.6h1.0v1.0h-1.0zM310.7 85.4h1.0v1.0h-1.0zM323.2 95.8h1.0v1.0h-1.0zM333.0 94.7h1.0v1.0h-1.0zM320.6 98.9h1.0v1.0h-1.0zM339.2 88.9h1.0v1.0h-1.0zM326.3 95.0h1.0v1.0h-1.0zM322.0 89.8h1.0v1.0h-1.0zM344.8 91.5h1.0v1.0h-1.0zM323.7 96.3h1.0v1.0h-1.0zM308.9 94.3h1.0v1.0h-1.0zM337.6 99.2h1.0v1.0h-1.0zM329.2 96.2h1.0v1.0h-1.0zM337.7 92.7h1.0v1.0h-1.0zM328.1 95.0h1.0v1.0h-1.0zM328.0 90.1h1.0v1.0h-1.0zM327.2 97.1h1.0v1.0h-1.0zM319.4 90.6h1.0v1.0h-1.0zM334.3 94.9h1.0v1.0h-1.0zM334.5 78.2h1.0v1.0h-1.0zM333.0 93.5h1.0v1.0h-1.0zM354.1 81.0h1.0v1.0h-1.0zM312.2 98.4h1.0v1.0h-1.0zM315.0 86.4h1.0v1.0h-1.0zM332.9 92.1h1.0v1.0h-1.0zM336.5 87.5h1.0v1.0h-1.0zM343.2 96.7h1.0v1.0h-1.0zM337.0 91.8h1.0v1.0h-1.0zM330.4 84.4h1.0v1.0h-1.0zM318.8 91.3h1.0v1.0h-1.0zM325.3 89.8h1.0v1.0h-1.0zM323.7 96.9h1.0v1.0h-1.0zM332.7 99.7h1.0v1.0h-1.0zM342.1 88.6h1.0v1.0h-1.0zM334.8 95.0h1.0v1.0h-1.0zM322.8 89.2h1.0v1.0h-1.0zM329.7 92.3h1.0v1.0h-1.0zM324.4 94.6h1.0v1.0h-1.0zM351.1 100.5h1.0v1.0h-1.0zM334.6 80.3h1.0v1.0h-1.0zM331.3 98.6h1.0v1.0h-1.0zM329.8 88.5h1.0v1.0h-1.0zM319.2 87.8h1.0v1.0h-1.0zM321.7 88.7h1.0v1.0h-1.0zM331.0 95.3h1.0v1.0h-1.0zM326.5 96.6h1.0v1.0h-1.0zM325.8 93.3h1.0v1.0h-1.0zM357.2 96.7h1.0v1.0h-1.0zM319.4 99.1h1.0v1.0h-1.0zM335.3 90.2h1.0v1.0h-1.0zM333.6 94.8h1.0v1.0h-1.0zM337.5 91.9h1.0v1.0h-1.0zM320.6 87.2h1.0v1.0h-1.0zM336.2 96.7h1.0v1.0h-1.0zM322.1 86.2h1.0v1.0h-1.0zM325.0 84.9h1.0v1.0h-1.0zM335.2 93.0h1.0v1.0h-1.0zM329.6 87.0h1.0v1.0h-1.0zM327.3 84.8h1.0v1.0h-1.0zM333.1 84.8h1.0v1.0h-1.0zM313.8 96.2h1.0v1.0h-1.0zM326.1 87.3h1.0v1.0h-1.0zM334.8 88.1h1.0v1.0h-1.0zM324.3 96.8h1.0v1.0h-1.0zM336.9 91.4h1.0v1.0h-1.0zM330.0 93.8h1.0v1.0h-1.0zM325.1 87.6h1.0v1.0h-1.0zM322.7 92.4h1.0v1.0h-1.0zM323.2 96.2h1.0v1.0h-1.0zM336.7 96.1h1.0v1.0h-1.0zM337.6 96.1h1.0v1.0h-1.0zM321.8 91.9h1.0v1.0h-1.0zM324.7 99.2h1.0v1.0h-1.0zM332.1 97.3h1.0v1.0h-1.0zM339.5 90.9h1.0v1.0h-1.0zM319.1 95.1h1.0v1.0h-1.0zM315.4 91.9h1.0v1.0h-1.0zM336.1 89.7h1.0v1.0h-1.0zM320.9 91.7h1.0v1.0h-1.0zM318.7 93.5h1.0v1.0h-1.0zM333.7 95.2h1.0v1.0h-1.0zM331.4 96.6h1.0v1.0h-1.0zM328.1 95.3h1.0v1.0h-1.0z" fill="#4058c8" fill-opacity="0.38"/>
<path d="M359.9 92.2h1.0v1.0h-1.0zM346.5 95.2h1.0v1.0h-1.0zM340.0 90.3h1.0v1.0h-1.0zM345.6 93.3h1.0v1.0h-1.0zM335.4 90.0h1.0v1.0h-1.0zM335.8 91.7h1.0v1.0h-1.0zM342.8 96.5h1.0v1.0h-1.0zM347.1 99.7h1.0v1.0h-1.0zM347.7 89.4h1.0v1.0h-1.0zM340.6 93.6h1.0v1.0h-1.0zM350.6 93.6h1.0v1.0h-1.0zM341.0 92.6h1.0v1.0h-1.0zM355.7 85.1h1.0v1.0h-1.0zM335.7 91.0h1.0v1.0h-1.0zM355.6 104.0h1.0v1.0h-1.0zM330.7 95.9h1.0v1.0h-1.0zM356.1 94.3h1.0v1.0h-1.0zM346.3 91.8h1.0v1.0h-1.0zM356.1 94.0h1.0v1.0h-1.0zM342.2 87.2h1.0v1.0h-1.0zM352.7 98.1h1.0v1.0h-1.0zM358.5 89.5h1.0v1.0h-1.0zM341.3 90.7h1.0v1.0h-1.0zM349.1 96.6h1.0v1.0h-1.0zM341.1 92.6h1.0v1.0h-1.0zM346.1 91.3h1.0v1.0h-1.0zM343.7 92.1h1.0v1.0h-1.0zM340.8 87.1h1.0v1.0h-1.0zM355.4 91.5h1.0v1.0h-1.0zM352.5 92.9h1.0v1.0h-1.0zM342.3 95.6h1.0v1.0h-1.0zM345.8 94.6h1.0v1.0h-1.0zM340.4 97.4h1.0v1.0h-1.0zM348.1 90.0h1.0v1.0h-1.0zM360.0 91.4h1.0v1.0h-1.0zM347.1 87.1h1.0v1.0h-1.0zM338.7 98.5h1.0v1.0h-1.0zM340.7 94.1h1.0v1.0h-1.0zM341.3 89.0h1.0v1.0h-1.0zM361.7 95.5h1.0v1.0h-1.0zM350.4 93.5h1.0v1.0h-1.0zM357.0 92.6h1.0v1.0h-1.0zM356.3 92.3h1.0v1.0h-1.0zM335.5 95.2h1.0v1.0h-1.0zM346.0 96.2h1.0v1.0h-1.0zM343.6 91.1h1.0v1.0h-1.0zM355.5 94.3h1.0v1.0h-1.0zM359.8 90.3h1.0v1.0h-1.0zM355.3 96.9h1.0v1.0h-1.0zM343.6 92.5h1.0v1.0h-1.0zM358.7 85.3h1.0v1.0h-1.0zM339.4 88.6h1.0v1.0h-1.0zM342.5 95.3h1.0v1.0h-1.0zM339.9 87.4h1.0v1.0h-1.0zM347.6 91.8h1.0v1.0h-1.0zM367.6 93.7h1.0v1.0h-1.0zM345.8 91.5h1.0v1.0h-1.0zM350.2 95.3h1.0v1.0h-1.0zM350.5 89.5h1.0v1.0h-1.0zM353.7 93.6h1.0v1.0h-1.0zM343.4 96.0h1.0v1.0h-1.0zM357.2 89.0h1.0v1.0h-1.0zM346.7 89.7h1.0v1.0h-1.0zM347.0 97.3h1.0v1.0h-1.0zM358.8 97.4h1.0v1.0h-1.0zM339.2 91.1h1.0v1.0h-1.0zM351.4 92.5h1.0v1.0h-1.0zM345.1 92.6h1.0v1.0h-1.0zM347.7 98.9h1.0v1.0h-1.0zM329.9 93.2h1.0v1.0h-1.0zM349.4 97.1h1.0v1.0h-1.0zM342.7 95.8h1.0v1.0h-1.0zM344.4 91.0h1.0v1.0h-1.0zM335.3 97.4h1.0v1.0h-1.0zM359.7 96.2h1.0v1.0h-1.0zM338.8 93.9h1.0v1.0h-1.0zM343.0 94.6h1.0v1.0h-1.0zM358.0 97.8h1.0v1.0h-1.0zM345.0 96.2h1.0v1.0h-1.0zM351.9 98.5h1.0v1.0h-1.0zM344.2 89.3h1.0v1.0h-1.0zM357.7 94.4h1.0v1.0h-1.0zM343.3 94.9h1.0v1.0h-1.0zM347.8 90.2h1.0v1.0h-1.0zM353.9 90.4h1.0v1.0h-1.0zM349.1 100.8h1.0v1.0h-1.0zM355.9 95.0h1.0v1.0h-1.0zM345.3 95.1h1.0v1.0h-1.0zM343.2 91.5h1.0v1.0h-1.0zM366.6 91.1h1.0v1.0h-1.0z" fill="#4058c8" fill-opacity="0.32"/>
<path d="M369.7 91.9h1.0v1.0h-1.0zM365.2 82.0h1.0v1.0h-1.0zM368.1 96.6h1.0v1.0h-1.0zM375.2 89.4h1.0v1.0h-1.0zM364.4 98.4h1.0v1.0h-1.0zM372.3 89.0h1.0v1.0h-1.0zM361.2 98.2h1.0v1.0h-1.0zM363.5 86.0h1.0v1.0h-1.0zM368.6 89.6h1.0v1.0h-1.0zM368.6 92.3h1.0v1.0h-1.0zM366.2 107.9h1.0v1.0h-1.0zM367.1 84.8h1.0v1.0h-1.0zM364.9 86.7h1.0v1.0h-1.0zM364.8 91.3h1.0v1.0h-1.0zM372.4 85.9h1.0v1.0h-1.0zM371.8 94.0h1.0v1.0h-1.0zM370.6 88.3h1.0v1.0h-1.0zM368.4 92.3h1.0v1.0h-1.0zM364.7 89.3h1.0v1.0h-1.0zM363.1 87.8h1.0v1.0h-1.0zM363.7 94.3h1.0v1.0h-1.0zM364.3 86.0h1.0v1.0h-1.0zM365.5 90.3h1.0v1.0h-1.0zM367.0 100.5h1.0v1.0h-1.0zM369.1 89.6h1.0v1.0h-1.0zM371.0 93.1h1.0v1.0h-1.0zM373.9 86.0h1.0v1.0h-1.0zM368.5 99.6h1.0v1.0h-1.0zM372.9 96.0h1.0v1.0h-1.0zM374.7 97.3h1.0v1.0h-1.0zM366.0 95.2h1.0v1.0h-1.0zM366.8 93.5h1.0v1.0h-1.0zM366.3 94.3h1.0v1.0h-1.0zM371.2 92.3h1.0v1.0h-1.0zM370.4 81.3h1.0v1.0h-1.0zM366.1 89.9h1.0v1.0h-1.0zM365.3 92.1h1.0v1.0h-1.0zM361.3 94.0h1.0v1.0h-1.0zM369.0 98.4h1.0v1.0h-1.0zM364.3 92.2h1.0v1.0h-1.0zM374.1 97.0h1.0v1.0h-1.0zM369.5 88.0h1.0v1.0h-1.0zM370.0 85.4h1.0v1.0h-1.0zM369.4 86.5h1.0v1.0h-1.0zM376.6 97.5h1.0v1.0h-1.0zM367.1 92.3h1.0v1.0h-1.0zM368.2 96.6h1.0v1.0h-1.0zM371.8 76.0h1.0v1.0h-1.0zM367.4 94.1h1.0v1.0h-1.0zM374.6 103.6h1.0v1.0h-1.0zM366.0 91.3h1.0v1.0h-1.0zM366.3 98.1h1.0v1.0h-1.0zM364.9 85.1h1.0v1.0h-1.0zM368.2 83.8h1.0v1.0h-1.0zM370.3 82.5h1.0v1.0h-1.0zM366.6 89.0h1.0v1.0h-1.0zM366.6 95.6h1.0v1.0h-1.0zM372.2 81.4h1.0v1.0h-1.0zM366.3 81.4h1.0v1.0h-1.0zM368.1 91.7h1.0v1.0h-1.0zM370.8 94.1h1.0v1.0h-1.0zM365.3 110.2h1.0v1.0h-1.0zM371.4 96.0h1.0v1.0h-1.0zM367.0 94.7h1.0v1.0h-1.0zM370.0 79.7h1.0v1.0h-1.0zM364.1 91.8h1.0v1.0h-1.0zM370.9 96.7h1.0v1.0h-1.0zM367.6 77.2h1.0v1.0h-1.0zM370.2 80.2h1.0v1.0h-1.0zM370.2 104.6h1.0v1.0h-1.0zM369.7 93.3h1.0v1.0h-1.0zM362.9 87.9h1.0v1.0h-1.0zM364.9 83.9h1.0v1.0h-1.0zM367.0 84.4h1.0v1.0h-1.0zM370.2 92.2h1.0v1.0h-1.0zM363.2 85.9h1.0v1.0h-1.0zM364.4 95.4h1.0v1.0h-1.0zM370.4 83.6h1.0v1.0h-1.0zM364.5 91.7h1.0v1.0h-1.0zM370.2 94.6h1.0v1.0h-1.0zM371.5 89.6h1.0v1.0h-1.0zM363.1 93.0h1.0v1.0h-1.0zM368.2 97.8h1.0v1.0h-1.0zM367.8 98.7h1.0v1.0h-1.0zM362.0 90.2h1.0v1.0h-1.0zM367.9 84.6h1.0v1.0h-1.0zM371.8 90.3h1.0v1.0h-1.0zM366.2 93.3h1.0v1.0h-1.0zM370.7 91.4h1.0v1.0h-1.0zM365.8 87.4h1.0v1.0h-1.0zM370.2 96.2h1.0v1.0h-1.0zM369.3 94.1h1.0v1.0h-1.0zM362.6 90.9h1.0v1.0h-1.0zM365.1 99.2h1.0v1.0h-1.0zM367.0 94.0h1.0v1.0h-1.0zM369.0 81.8h1.0v1.0h-1.0zM364.8 81.9h1.0v1.0h-1.0zM366.5 90.6h1.0v1.0h-1.0zM370.1 97.4h1.0v1.0h-1.0zM367.2 89.3h1.0v1.0h-1.0zM366.9 76.5h1.0v1.0h-1.0zM362.4 82.7h1.0v1.0h-1.0zM362.4 91.5h1.0v1.0h-1.0zM371.6 92.1h1.0v1.0h-1.0zM367.6 79.3h1.0v1.0h-1.0zM370.6 87.7h1.0v1.0h-1.0zM372.7 94.0h1.0v1.0h-1.0zM375.3 89.4h1.0v1.0h-1.0zM368.2 89.7h1.0v1.0h-1.0zM364.7 77.4h1.0v1.0h-1.0zM366.3 99.4h1.0v1.0h-1.0zM365.1 87.3h1.0v1.0h-1.0zM368.9 89.4h1.0v1.0h-1.0zM370.2 100.3h1.0v1.0h-1.0zM368.0 83.4h1.0v1.0h-1.0zM369.1 87.7h1.0v1.0h-1.0zM367.7 92.7h1.0v1.0h-1.0zM369.1 86.1h1.0v1.0h-1.0zM364.9 86.0h1.0v1.0h-1.0zM365.2 89.4h1.0v1.0h-1.0zM371.9 98.9h1.0v1.0h-1.0zM364.9 92.8h1.0v1.0h-1.0zM366.7 90.3h1.0v1.0h-1.0zM367.6 84.9h1.0v1.0h-1.0zM366.6 95.3h1.0v1.0h-1.0zM372.7 93.6h1.0v1.0h-1.0zM364.8 80.6h1.0v1.0h-1.0zM361.4 93.0h1.0v1.0h-1.0zM364.4 95.3h1.0v1.0h-1.0zM368.8 85.7h1.0v1.0h-1.0zM364.8 91.9h1.0v1.0h-1.0zM375.5 96.6h1.0v1.0h-1.0zM370.9 81.5h1.0v1.0h-1.0zM374.6 91.9h1.0v1.0h-1.0zM372.5 101.0h1.0v1.0h-1.0zM367.3 91.7h1.0v1.0h-1.0zM367.7 89.3h1.0v1.0h-1.0zM368.5 87.7h1.0v1.0h-1.0zM368.2 89.1h1.0v1.0h-1.0zM371.1 97.8h1.0v1.0h-1.0z" fill="#3048c0" fill-opacity="0.55"/>
<path d="M364.6 61.5h1.0v1.0h-1.0zM370.0 69.3h1.0v1.0h-1.0zM370.4 59.7h1.0v1.0h-1.0zM370.0 60.6h1.0v1.0h-1.0zM368.9 61.2h1.0v1.0h-1.0zM364.3 66.5h1.0v1.0h-1.0zM368.4 63.3h1.0v1.0h-1.0zM367.0 73.1h1.0v1.0h-1.0zM367.8 67.6h1.0v1.0h-1.0zM369.8 54.9h1.0v1.0h-1.0z" fill="#4058c8" fill-opacity="0.4"/>
<g filter="url(#bl)"><ellipse cx="367.70" cy="91.60" rx="4.60" ry="8.20" fill="#2f55cc" fill-opacity="0.6"/><ellipse cx="367.70" cy="91.80" rx="3.30" ry="6.60" fill="#1aa4e0" fill-opacity="1"/><ellipse cx="367.70" cy="91.60" rx="2.30" ry="5.00" fill="#3cc050" fill-opacity="1"/><ellipse cx="367.80" cy="91.00" rx="1.10" ry="2.80" fill="#d8d828" fill-opacity="1"/></g>
<path d="M329.6 66.3h1.0v1.0h-1.0zM318.3 65.6h1.0v1.0h-1.0zM322.1 63.3h1.0v1.0h-1.0zM324.6 65.9h1.0v1.0h-1.0zM322.7 67.7h1.0v1.0h-1.0zM336.9 65.6h1.0v1.0h-1.0zM321.5 63.2h1.0v1.0h-1.0zM319.9 63.6h1.0v1.0h-1.0zM332.2 66.8h1.0v1.0h-1.0zM330.5 68.0h1.0v1.0h-1.0zM323.0 70.2h1.0v1.0h-1.0zM330.3 66.2h1.0v1.0h-1.0zM328.0 65.0h1.0v1.0h-1.0zM333.6 66.3h1.0v1.0h-1.0zM321.2 67.4h1.0v1.0h-1.0zM317.5 63.9h1.0v1.0h-1.0zM333.3 65.0h1.0v1.0h-1.0zM321.0 66.4h1.0v1.0h-1.0zM331.8 68.4h1.0v1.0h-1.0zM331.2 64.5h1.0v1.0h-1.0zM329.8 66.6h1.0v1.0h-1.0zM325.7 65.0h1.0v1.0h-1.0zM333.2 65.5h1.0v1.0h-1.0zM318.5 66.7h1.0v1.0h-1.0zM317.4 70.4h1.0v1.0h-1.0zM316.6 63.5h1.0v1.0h-1.0zM324.2 68.7h1.0v1.0h-1.0zM324.3 58.9h1.0v1.0h-1.0zM333.9 63.4h1.0v1.0h-1.0zM338.6 67.5h1.0v1.0h-1.0zM340.5 69.4h1.0v1.0h-1.0zM336.1 67.6h1.0v1.0h-1.0zM319.4 62.9h1.0v1.0h-1.0zM330.6 64.9h1.0v1.0h-1.0zM328.3 66.0h1.0v1.0h-1.0zM336.7 65.5h1.0v1.0h-1.0zM315.7 63.3h1.0v1.0h-1.0zM330.6 67.6h1.0v1.0h-1.0zM324.1 64.2h1.0v1.0h-1.0zM327.7 63.6h1.0v1.0h-1.0zM319.9 64.4h1.0v1.0h-1.0zM330.8 64.2h1.0v1.0h-1.0zM318.4 64.8h1.0v1.0h-1.0zM328.6 67.1h1.0v1.0h-1.0zM319.3 67.2h1.0v1.0h-1.0zM333.0 63.4h1.0v1.0h-1.0zM319.7 65.8h1.0v1.0h-1.0zM334.4 66.3h1.0v1.0h-1.0zM329.4 62.7h1.0v1.0h-1.0zM341.7 68.1h1.0v1.0h-1.0zM338.7 62.8h1.0v1.0h-1.0zM328.3 63.8h1.0v1.0h-1.0zM327.5 67.9h1.0v1.0h-1.0zM325.9 66.2h1.0v1.0h-1.0zM332.0 69.0h1.0v1.0h-1.0zM329.7 65.1h1.0v1.0h-1.0zM330.7 67.3h1.0v1.0h-1.0zM332.0 63.6h1.0v1.0h-1.0zM325.3 68.7h1.0v1.0h-1.0zM326.9 62.9h1.0v1.0h-1.0zM316.9 63.6h1.0v1.0h-1.0zM317.9 64.8h1.0v1.0h-1.0zM314.7 67.8h1.0v1.0h-1.0zM336.8 64.6h1.0v1.0h-1.0zM316.4 62.8h1.0v1.0h-1.0zM333.3 67.2h1.0v1.0h-1.0zM322.9 68.3h1.0v1.0h-1.0zM329.8 62.9h1.0v1.0h-1.0zM316.1 64.3h1.0v1.0h-1.0zM321.0 68.3h1.0v1.0h-1.0zM329.1 63.3h1.0v1.0h-1.0zM328.2 65.4h1.0v1.0h-1.0zM319.1 63.4h1.0v1.0h-1.0zM326.9 64.8h1.0v1.0h-1.0zM317.5 65.4h1.0v1.0h-1.0zM323.7 60.6h1.0v1.0h-1.0zM332.1 66.8h1.0v1.0h-1.0zM327.0 65.2h1.0v1.0h-1.0zM325.9 66.1h1.0v1.0h-1.0zM321.0 63.5h1.0v1.0h-1.0zM331.4 66.6h1.0v1.0h-1.0zM324.6 67.4h1.0v1.0h-1.0zM318.1 66.0h1.0v1.0h-1.0zM327.4 66.2h1.0v1.0h-1.0zM341.8 67.4h1.0v1.0h-1.0zM334.7 70.7h1.0v1.0h-1.0zM324.0 66.4h1.0v1.0h-1.0zM325.4 65.4h1.0v1.0h-1.0zM328.4 68.7h1.0v1.0h-1.0zM326.0 66.5h1.0v1.0h-1.0zM324.8 64.4h1.0v1.0h-1.0zM332.9 65.5h1.0v1.0h-1.0zM331.1 67.4h1.0v1.0h-1.0zM333.4 61.6h1.0v1.0h-1.0zM330.0 64.3h1.0v1.0h-1.0zM320.6 67.4h1.0v1.0h-1.0zM329.5 63.2h1.0v1.0h-1.0zM342.0 65.6h1.0v1.0h-1.0zM328.2 62.1h1.0v1.0h-1.0zM339.7 64.4h1.0v1.0h-1.0zM319.9 64.5h1.0v1.0h-1.0zM326.2 65.3h1.0v1.0h-1.0zM325.6 65.1h1.0v1.0h-1.0zM330.5 65.0h1.0v1.0h-1.0zM325.8 69.4h1.0v1.0h-1.0zM330.8 67.0h1.0v1.0h-1.0zM331.2 65.7h1.0v1.0h-1.0zM332.7 65.9h1.0v1.0h-1.0zM331.2 62.7h1.0v1.0h-1.0zM332.8 63.6h1.0v1.0h-1.0zM315.4 67.6h1.0v1.0h-1.0zM318.5 68.8h1.0v1.0h-1.0zM325.0 65.3h1.0v1.0h-1.0zM336.6 66.2h1.0v1.0h-1.0zM317.2 71.3h1.0v1.0h-1.0zM336.3 66.6h1.0v1.0h-1.0zM328.0 63.9h1.0v1.0h-1.0zM325.0 63.8h1.0v1.0h-1.0zM328.6 66.7h1.0v1.0h-1.0zM318.6 64.1h1.0v1.0h-1.0zM321.7 65.1h1.0v1.0h-1.0zM331.9 66.6h1.0v1.0h-1.0zM333.1 64.2h1.0v1.0h-1.0zM324.5 65.0h1.0v1.0h-1.0zM328.2 66.6h1.0v1.0h-1.0zM334.0 65.7h1.0v1.0h-1.0zM324.1 66.3h1.0v1.0h-1.0zM327.6 65.9h1.0v1.0h-1.0zM319.4 67.4h1.0v1.0h-1.0zM327.0 66.3h1.0v1.0h-1.0zM324.7 63.7h1.0v1.0h-1.0zM318.3 63.4h1.0v1.0h-1.0zM327.9 64.9h1.0v1.0h-1.0zM317.7 63.6h1.0v1.0h-1.0zM330.2 62.9h1.0v1.0h-1.0zM327.6 61.8h1.0v1.0h-1.0zM330.5 64.4h1.0v1.0h-1.0zM333.4 66.8h1.0v1.0h-1.0zM335.9 67.2h1.0v1.0h-1.0zM333.0 67.7h1.0v1.0h-1.0zM322.1 68.1h1.0v1.0h-1.0zM326.7 66.8h1.0v1.0h-1.0zM320.2 67.9h1.0v1.0h-1.0zM330.7 66.2h1.0v1.0h-1.0zM317.7 65.1h1.0v1.0h-1.0zM333.4 65.0h1.0v1.0h-1.0zM321.2 67.8h1.0v1.0h-1.0zM337.6 67.5h1.0v1.0h-1.0zM332.1 61.8h1.0v1.0h-1.0zM322.8 64.6h1.0v1.0h-1.0zM333.1 67.6h1.0v1.0h-1.0zM326.6 65.4h1.0v1.0h-1.0zM321.3 69.7h1.0v1.0h-1.0zM314.6 62.9h1.0v1.0h-1.0zM334.8 67.5h1.0v1.0h-1.0zM328.7 68.9h1.0v1.0h-1.0zM338.5 65.2h1.0v1.0h-1.0zM340.4 64.8h1.0v1.0h-1.0zM331.8 69.8h1.0v1.0h-1.0zM323.0 62.9h1.0v1.0h-1.0zM331.5 65.2h1.0v1.0h-1.0zM329.7 61.5h1.0v1.0h-1.0zM338.0 65.9h1.0v1.0h-1.0zM320.0 65.7h1.0v1.0h-1.0zM326.6 66.7h1.0v1.0h-1.0zM328.4 65.4h1.0v1.0h-1.0zM322.0 64.8h1.0v1.0h-1.0zM338.8 63.3h1.0v1.0h-1.0zM323.6 66.9h1.0v1.0h-1.0zM335.9 66.2h1.0v1.0h-1.0zM334.4 69.1h1.0v1.0h-1.0zM319.2 65.6h1.0v1.0h-1.0zM331.4 66.4h1.0v1.0h-1.0zM329.7 67.0h1.0v1.0h-1.0zM333.1 67.1h1.0v1.0h-1.0zM319.5 65.1h1.0v1.0h-1.0zM320.4 67.1h1.0v1.0h-1.0zM335.3 66.6h1.0v1.0h-1.0zM327.3 65.4h1.0v1.0h-1.0zM319.6 61.6h1.0v1.0h-1.0zM325.5 67.5h1.0v1.0h-1.0zM330.4 66.2h1.0v1.0h-1.0zM323.7 63.6h1.0v1.0h-1.0zM339.8 66.7h1.0v1.0h-1.0zM334.0 63.2h1.0v1.0h-1.0zM322.6 67.0h1.0v1.0h-1.0z" fill="#2838b8" fill-opacity="0.5"/>
<g filter="url(#bl)"><ellipse cx="327.90" cy="65.80" rx="12.60" ry="3.50" fill="#2f55cc" fill-opacity="0.6"/><ellipse cx="327.10" cy="65.80" rx="11.20" ry="2.80" fill="#1a9ee0" fill-opacity="1"/><ellipse cx="328.10" cy="65.80" rx="8.50" ry="2.30" fill="#20b8a8" fill-opacity="1"/><ellipse cx="331.60" cy="65.80" rx="5.00" ry="2.00" fill="#50c040" fill-opacity="1"/><ellipse cx="332.30" cy="65.80" rx="2.80" ry="1.30" fill="#e8d820" fill-opacity="1"/><ellipse cx="332.30" cy="65.80" rx="1.40" ry="0.80" fill="#f0a020" fill-opacity="1"/></g>
</g>
<rect x="314.10" y="37.60" width="69.80" height="61.20" fill="none" stroke="#000" stroke-width="1.5"/>
<text x="315.30" y="106.70" font-size="6.7" text-anchor="middle" fill="#111">10<tspan font-size="4.6" dy="-2.9">0</tspan></text>
<text x="311.10" y="100.70" font-size="6.7" text-anchor="end" fill="#111">10<tspan font-size="4.6" dy="-2.9">0</tspan></text>
<line x1="331.55" y1="98.80" x2="331.55" y2="100.60" stroke="#000" stroke-width="1.1" />
<line x1="312.30" y1="83.50" x2="314.10" y2="83.50" stroke="#000" stroke-width="1.1" />
<text x="332.75" y="106.70" font-size="6.7" text-anchor="middle" fill="#111">10<tspan font-size="4.6" dy="-2.9">1</tspan></text>
<text x="311.10" y="85.40" font-size="6.7" text-anchor="end" fill="#111">10<tspan font-size="4.6" dy="-2.9">1</tspan></text>
<line x1="349.00" y1="98.80" x2="349.00" y2="100.60" stroke="#000" stroke-width="1.1" />
<line x1="312.30" y1="68.20" x2="314.10" y2="68.20" stroke="#000" stroke-width="1.1" />
<text x="350.20" y="106.70" font-size="6.7" text-anchor="middle" fill="#111">10<tspan font-size="4.6" dy="-2.9">2</tspan></text>
<text x="311.10" y="70.10" font-size="6.7" text-anchor="end" fill="#111">10<tspan font-size="4.6" dy="-2.9">2</tspan></text>
<line x1="366.45" y1="98.80" x2="366.45" y2="100.60" stroke="#000" stroke-width="1.1" />
<line x1="312.30" y1="52.90" x2="314.10" y2="52.90" stroke="#000" stroke-width="1.1" />
<text x="367.65" y="106.70" font-size="6.7" text-anchor="middle" fill="#111">10<tspan font-size="4.6" dy="-2.9">3</tspan></text>
<text x="311.10" y="54.80" font-size="6.7" text-anchor="end" fill="#111">10<tspan font-size="4.6" dy="-2.9">3</tspan></text>
<text x="385.10" y="106.70" font-size="6.7" text-anchor="middle" fill="#111">10<tspan font-size="4.6" dy="-2.9">4</tspan></text>
<text x="311.10" y="39.50" font-size="6.7" text-anchor="end" fill="#111">10<tspan font-size="4.6" dy="-2.9">4</tspan></text>
<text x="346.60" y="116.60" font-size="8.6" text-anchor="middle" textLength="14.2" lengthAdjust="spacingAndGlyphs" >CD8</text>
<text x="300.70" y="66.90" font-size="8.6" text-anchor="middle" textLength="15.0" lengthAdjust="spacingAndGlyphs" transform="rotate(-90 300.70 66.90)" >CD4</text>
<text x="349.90" y="34.70" font-size="8.8" text-anchor="middle" textLength="8.1" lengthAdjust="spacingAndGlyphs" >IC</text>
<rect x="315.90" y="61.00" width="26.10" height="9.60" fill="none" stroke="#000" stroke-width="1.7"/>
<text x="144.20" y="55.70" font-size="8.8" text-anchor="middle" font-weight="bold" textLength="19.0" lengthAdjust="spacingAndGlyphs" >47.9</text>
<text x="235.70" y="57.60" font-size="8.8" text-anchor="middle" font-weight="bold" >0</text>
<text x="329.50" y="57.60" font-size="8.8" text-anchor="middle" font-weight="bold" textLength="18.8" lengthAdjust="spacingAndGlyphs" >46.9</text>
<rect x="200.00" y="254.00" width="17.40" height="16.10" fill="#C21230"/>
<rect x="226.00" y="261.30" width="17.00" height="8.80" fill="#115382"/>
<rect x="251.20" y="255.90" width="16.70" height="14.20" fill="#3DB54A"/>
<path d="M208.70 246.50V262.50M204.70 246.50H212.70M204.70 262.50H212.70" stroke="#000" stroke-width="1.3" fill="none"/>
<g fill="#000"><circle cx="208.90" cy="243.90" r="2.15"/><circle cx="205.10" cy="247.30" r="2.15"/><circle cx="212.30" cy="245.40" r="2.15"/><circle cx="212.50" cy="250.20" r="2.15"/><circle cx="201.70" cy="255.50" r="2.15"/><circle cx="205.60" cy="257.90" r="2.15"/><circle cx="209.40" cy="257.90" r="2.15"/><circle cx="215.20" cy="257.40" r="2.15"/><circle cx="208.50" cy="262.20" r="2.15"/><circle cx="207.00" cy="256.00" r="2.15"/><circle cx="212.00" cy="256.00" r="2.15"/></g>
<path d="M234.50 259.20V263.00M229.50 259.20H239.50M229.50 263.00H239.50" stroke="#000" stroke-width="1.3" fill="none"/>
<g fill="#000"><circle cx="228.30" cy="261.20" r="2.15"/><circle cx="231.00" cy="260.50" r="2.15"/><circle cx="234.00" cy="261.00" r="2.15"/><circle cx="237.00" cy="260.50" r="2.15"/><circle cx="240.50" cy="259.50" r="2.15"/><circle cx="229.50" cy="262.30" r="2.15"/><circle cx="238.50" cy="262.00" r="2.15"/><circle cx="235.50" cy="261.80" r="2.15"/><circle cx="240.80" cy="258.30" r="2.15"/><circle cx="232.50" cy="262.00" r="2.15"/></g>
<path d="M259.55 251.90V259.50M253.55 251.90H265.55M253.55 259.50H265.55" stroke="#000" stroke-width="1.3" fill="none"/>
<g fill="#000"><circle cx="259.60" cy="248.90" r="2.15"/><circle cx="252.90" cy="253.20" r="2.15"/><circle cx="256.10" cy="255.90" r="2.15"/><circle cx="261.90" cy="255.40" r="2.15"/><circle cx="266.30" cy="254.80" r="2.15"/><circle cx="256.50" cy="259.90" r="2.15"/><circle cx="262.80" cy="259.90" r="2.15"/><circle cx="257.90" cy="253.70" r="2.15"/></g>
<path d="M191.60 177.50V270.10H277.40" fill="none" stroke="#000" stroke-width="1.5"/>
<line x1="188.60" y1="177.50" x2="191.60" y2="177.50" stroke="#000" stroke-width="1.3" />
<text x="187.60" y="180.40" font-size="8.1" text-anchor="end" textLength="14.25" lengthAdjust="spacingAndGlyphs" >150</text>
<line x1="188.60" y1="208.40" x2="191.60" y2="208.40" stroke="#000" stroke-width="1.3" />
<text x="187.60" y="211.30" font-size="8.1" text-anchor="end" textLength="14.25" lengthAdjust="spacingAndGlyphs" >100</text>
<line x1="188.60" y1="239.30" x2="191.60" y2="239.30" stroke="#000" stroke-width="1.3" />
<text x="187.60" y="242.20" font-size="8.1" text-anchor="end" textLength="9.5" lengthAdjust="spacingAndGlyphs" >50</text>
<line x1="188.60" y1="270.10" x2="191.60" y2="270.10" stroke="#000" stroke-width="1.3" />
<text x="187.60" y="273.00" font-size="8.1" text-anchor="end" textLength="4.75" lengthAdjust="spacingAndGlyphs" >0</text>
<line x1="208.70" y1="270.10" x2="208.70" y2="272.90" stroke="#000" stroke-width="1.3" />
<text x="210.50" y="279.90" font-size="8.6" text-anchor="end" textLength="10.4" lengthAdjust="spacingAndGlyphs" transform="rotate(-45 210.50 279.90)" >B6</text>
<line x1="234.50" y1="270.10" x2="234.50" y2="272.90" stroke="#000" stroke-width="1.3" />
<text x="236.30" y="279.90" font-size="8.6" text-anchor="end" textLength="36.5" lengthAdjust="spacingAndGlyphs" transform="rotate(-45 236.30 279.90)" >CD4 dep</text>
<line x1="259.55" y1="270.10" x2="259.55" y2="272.90" stroke="#000" stroke-width="1.3" />
<text x="261.35" y="279.90" font-size="8.6" text-anchor="end" textLength="8.1" lengthAdjust="spacingAndGlyphs" transform="rotate(-45 261.35 279.90)" >IC</text>
<text x="234.60" y="175.00" font-size="8.7" text-anchor="middle" >D3</text>
<path d="M199.00 191.00V188.40H266.20V191.00" fill="none" stroke="#000" stroke-width="1.3"/>
<text x="233.40" y="186.30" font-size="8.0" text-anchor="middle" >ns</text>
<path d="M199.00 199.60V197.00H232.80V199.60" fill="none" stroke="#000" stroke-width="1.3"/>
<text x="216.40" y="197.90" font-size="8" text-anchor="middle" textLength="10.5" lengthAdjust="spacing">***</text>
<path d="M234.80 199.60V197.00H266.20V199.60" fill="none" stroke="#000" stroke-width="1.3"/>
<text x="251.00" y="197.90" font-size="8" text-anchor="middle" textLength="6.6" lengthAdjust="spacing">**</text>
<text x="167.30" y="226.90" font-size="7.5" text-anchor="middle" textLength="61.0" lengthAdjust="spacingAndGlyphs" transform="rotate(-90 167.30 226.90)" >Anti-HOD IgM MFI</text>
<rect x="319.20" y="235.20" width="17.20" height="36.00" fill="#C21230"/>
<rect x="345.00" y="237.30" width="17.00" height="33.90" fill="#115382"/>
<rect x="370.50" y="235.00" width="17.10" height="36.20" fill="#3DB54A"/>
<path d="M327.80 230.40V242.50M322.30 230.40H333.30M322.30 242.50H333.30" stroke="#000" stroke-width="1.3" fill="none"/>
<g fill="#000"><circle cx="327.80" cy="224.50" r="2.15"/><circle cx="321.20" cy="232.70" r="2.15"/><circle cx="330.40" cy="231.20" r="2.15"/><circle cx="321.20" cy="238.80" r="2.15"/><circle cx="325.80" cy="236.50" r="2.15"/><circle cx="329.60" cy="236.50" r="2.15"/><circle cx="334.70" cy="237.80" r="2.15"/><circle cx="325.50" cy="242.70" r="2.15"/><circle cx="327.30" cy="238.80" r="2.15"/></g>
<path d="M353.50 229.60V244.20M346.50 229.60H360.50M346.50 244.20H360.50" stroke="#000" stroke-width="1.3" fill="none"/>
<g fill="#000"><circle cx="346.50" cy="228.80" r="2.15"/><circle cx="360.40" cy="228.80" r="2.15"/><circle cx="346.50" cy="234.20" r="2.15"/><circle cx="359.60" cy="233.50" r="2.15"/><circle cx="346.50" cy="239.60" r="2.15"/><circle cx="359.60" cy="241.90" r="2.15"/><circle cx="353.50" cy="251.90" r="2.15"/><circle cx="353.50" cy="232.70" r="2.15"/></g>
<path d="M379.05 227.60V241.00M373.55 227.60H384.55M373.55 241.00H384.55" stroke="#000" stroke-width="1.3" fill="none"/>
<g fill="#000"><circle cx="378.80" cy="221.90" r="2.15"/><circle cx="372.70" cy="234.20" r="2.15"/><circle cx="385.80" cy="234.20" r="2.15"/><circle cx="377.30" cy="235.00" r="2.15"/><circle cx="381.20" cy="234.20" r="2.15"/><circle cx="376.50" cy="239.60" r="2.15"/><circle cx="379.60" cy="238.10" r="2.15"/><circle cx="378.80" cy="230.40" r="2.15"/></g>
<path d="M310.20 181.00V271.20H396.50" fill="none" stroke="#000" stroke-width="1.5"/>
<line x1="307.20" y1="181.00" x2="310.20" y2="181.00" stroke="#000" stroke-width="1.3" />
<text x="306.20" y="183.90" font-size="8.1" text-anchor="end" textLength="14.25" lengthAdjust="spacingAndGlyphs" >150</text>
<line x1="307.20" y1="210.70" x2="310.20" y2="210.70" stroke="#000" stroke-width="1.3" />
<text x="306.20" y="213.60" font-size="8.1" text-anchor="end" textLength="14.25" lengthAdjust="spacingAndGlyphs" >100</text>
<line x1="307.20" y1="241.30" x2="310.20" y2="241.30" stroke="#000" stroke-width="1.3" />
<text x="306.20" y="244.20" font-size="8.1" text-anchor="end" textLength="9.5" lengthAdjust="spacingAndGlyphs" >50</text>
<line x1="307.20" y1="271.20" x2="310.20" y2="271.20" stroke="#000" stroke-width="1.3" />
<text x="306.20" y="274.10" font-size="8.1" text-anchor="end" textLength="4.75" lengthAdjust="spacingAndGlyphs" >0</text>
<line x1="327.80" y1="271.20" x2="327.80" y2="274.00" stroke="#000" stroke-width="1.3" />
<text x="329.60" y="281.00" font-size="8.6" text-anchor="end" textLength="10.4" lengthAdjust="spacingAndGlyphs" transform="rotate(-45 329.60 281.00)" >B6</text>
<line x1="353.50" y1="271.20" x2="353.50" y2="274.00" stroke="#000" stroke-width="1.3" />
<text x="355.30" y="281.00" font-size="8.6" text-anchor="end" textLength="36.5" lengthAdjust="spacingAndGlyphs" transform="rotate(-45 355.30 281.00)" >CD4 dep</text>
<line x1="379.05" y1="271.20" x2="379.05" y2="274.00" stroke="#000" stroke-width="1.3" />
<text x="380.85" y="281.00" font-size="8.6" text-anchor="end" textLength="8.1" lengthAdjust="spacingAndGlyphs" transform="rotate(-45 380.85 281.00)" >IC</text>
<text x="354.20" y="174.70" font-size="8.7" text-anchor="middle" >D5</text>
<path d="M317.40 191.60V189.00H386.00V191.60" fill="none" stroke="#000" stroke-width="1.3"/>
<text x="352.50" y="186.90" font-size="8.0" text-anchor="middle" >ns</text>
<path d="M317.40 199.50V196.90H351.60V199.50" fill="none" stroke="#000" stroke-width="1.3"/>
<text x="335.30" y="194.80" font-size="8.0" text-anchor="middle" >ns</text>
<path d="M353.60 199.50V196.90H386.00V199.50" fill="none" stroke="#000" stroke-width="1.3"/>
<text x="370.60" y="194.80" font-size="8.0" text-anchor="middle" >ns</text>
<text x="287.20" y="225.60" font-size="7.5" text-anchor="middle" textLength="61.0" lengthAdjust="spacingAndGlyphs" transform="rotate(-90 287.20 225.60)" >Anti-HOD IgM MFI</text>
<rect x="435.00" y="235.40" width="17.20" height="35.20" fill="#C21230"/>
<rect x="460.80" y="240.80" width="17.20" height="29.80" fill="#115382"/>
<rect x="486.60" y="231.10" width="17.30" height="39.50" fill="#3DB54A"/>
<path d="M443.60 230.00V246.00M438.60 230.00H448.60M438.60 246.00H448.60" stroke="#000" stroke-width="1.3" fill="none"/>
<g fill="#000"><circle cx="443.70" cy="223.80" r="2.15"/><circle cx="437.00" cy="234.30" r="2.15"/><circle cx="450.30" cy="234.30" r="2.15"/><circle cx="441.20" cy="233.50" r="2.15"/><circle cx="446.20" cy="235.00" r="2.15"/><circle cx="437.70" cy="240.00" r="2.15"/><circle cx="450.30" cy="238.50" r="2.15"/><circle cx="441.00" cy="244.60" r="2.15"/><circle cx="446.00" cy="242.30" r="2.15"/><circle cx="443.60" cy="237.00" r="2.15"/></g>
<path d="M469.40 233.80V247.70M463.40 233.80H475.40M463.40 247.70H475.40" stroke="#000" stroke-width="1.3" fill="none"/>
<g fill="#000"><circle cx="467.00" cy="232.00" r="2.15"/><circle cx="471.50" cy="232.00" r="2.15"/><circle cx="463.40" cy="237.70" r="2.15"/><circle cx="475.80" cy="237.70" r="2.15"/><circle cx="468.50" cy="238.50" r="2.15"/><circle cx="469.40" cy="244.60" r="2.15"/><circle cx="471.50" cy="250.80" r="2.15"/><circle cx="467.00" cy="253.10" r="2.15"/><circle cx="470.00" cy="247.00" r="2.15"/></g>
<path d="M495.25 221.00V239.50M487.75 221.00H502.75M487.75 239.50H502.75" stroke="#000" stroke-width="1.3" fill="none"/>
<g fill="#000"><circle cx="488.80" cy="220.80" r="2.15"/><circle cx="495.10" cy="219.20" r="2.15"/><circle cx="503.00" cy="222.30" r="2.15"/><circle cx="495.40" cy="225.40" r="2.15"/><circle cx="495.40" cy="230.00" r="2.15"/><circle cx="490.80" cy="236.20" r="2.15"/><circle cx="498.50" cy="236.20" r="2.15"/><circle cx="495.40" cy="241.50" r="2.15"/><circle cx="495.10" cy="245.40" r="2.15"/></g>
<path d="M426.20 177.80V270.60H512.00" fill="none" stroke="#000" stroke-width="1.5"/>
<line x1="423.20" y1="177.80" x2="426.20" y2="177.80" stroke="#000" stroke-width="1.3" />
<text x="422.20" y="180.70" font-size="8.1" text-anchor="end" textLength="14.25" lengthAdjust="spacingAndGlyphs" >150</text>
<line x1="423.20" y1="208.70" x2="426.20" y2="208.70" stroke="#000" stroke-width="1.3" />
<text x="422.20" y="211.60" font-size="8.1" text-anchor="end" textLength="14.25" lengthAdjust="spacingAndGlyphs" >100</text>
<line x1="423.20" y1="239.90" x2="426.20" y2="239.90" stroke="#000" stroke-width="1.3" />
<text x="422.20" y="242.80" font-size="8.1" text-anchor="end" textLength="9.5" lengthAdjust="spacingAndGlyphs" >50</text>
<line x1="423.20" y1="270.60" x2="426.20" y2="270.60" stroke="#000" stroke-width="1.3" />
<text x="422.20" y="273.50" font-size="8.1" text-anchor="end" textLength="4.75" lengthAdjust="spacingAndGlyphs" >0</text>
<line x1="443.60" y1="270.60" x2="443.60" y2="273.40" stroke="#000" stroke-width="1.3" />
<text x="445.40" y="280.40" font-size="8.6" text-anchor="end" textLength="10.4" lengthAdjust="spacingAndGlyphs" transform="rotate(-45 445.40 280.40)" >B6</text>
<line x1="469.40" y1="270.60" x2="469.40" y2="273.40" stroke="#000" stroke-width="1.3" />
<text x="471.20" y="280.40" font-size="8.6" text-anchor="end" textLength="36.5" lengthAdjust="spacingAndGlyphs" transform="rotate(-45 471.20 280.40)" >CD4 dep</text>
<line x1="495.25" y1="270.60" x2="495.25" y2="273.40" stroke="#000" stroke-width="1.3" />
<text x="497.05" y="280.40" font-size="8.6" text-anchor="end" textLength="8.1" lengthAdjust="spacingAndGlyphs" transform="rotate(-45 497.05 280.40)" >IC</text>
<text x="469.60" y="175.60" font-size="8.7" text-anchor="middle" >D7</text>
<path d="M433.30 191.00V188.40H500.80V191.00" fill="none" stroke="#000" stroke-width="1.3"/>
<text x="467.85" y="186.30" font-size="8.0" text-anchor="middle" >ns</text>
<path d="M433.30 200.80V198.20H467.60V200.80" fill="none" stroke="#000" stroke-width="1.3"/>
<text x="451.25" y="196.10" font-size="8.0" text-anchor="middle" >ns</text>
<path d="M469.60 200.80V198.20H500.80V200.80" fill="none" stroke="#000" stroke-width="1.3"/>
<text x="485.70" y="199.10" font-size="8" text-anchor="middle">*</text>
<text x="403.60" y="226.70" font-size="7.5" text-anchor="middle" textLength="61.0" lengthAdjust="spacingAndGlyphs" transform="rotate(-90 403.60 226.70)" >Anti-HOD IgM MFI</text>
<rect x="201.00" y="420.00" width="16.80" height="8.40" fill="#C21230"/>
<rect x="227.00" y="427.40" width="16.60" height="1.00" fill="#115382"/>
<rect x="252.20" y="412.00" width="17.00" height="16.40" fill="#3DB54A"/>
<path d="M209.40 414.60V424.50M204.90 414.60H213.90M204.90 424.50H213.90" stroke="#000" stroke-width="1.3" fill="none"/>
<g fill="#000"><circle cx="207.00" cy="412.30" r="2.15"/><circle cx="211.60" cy="410.80" r="2.15"/><circle cx="202.40" cy="415.40" r="2.15"/><circle cx="216.20" cy="416.90" r="2.15"/><circle cx="202.40" cy="420.00" r="2.15"/><circle cx="207.00" cy="422.30" r="2.15"/><circle cx="211.60" cy="423.10" r="2.15"/><circle cx="215.00" cy="423.10" r="2.15"/><circle cx="202.40" cy="425.40" r="2.15"/><circle cx="207.30" cy="425.40" r="2.15"/></g>
<g fill="#000"><circle cx="227.50" cy="427.30" r="2.15"/><circle cx="230.50" cy="427.80" r="2.15"/><circle cx="233.50" cy="427.50" r="2.15"/><circle cx="236.50" cy="428.00" r="2.15"/><circle cx="239.50" cy="427.60" r="2.15"/><circle cx="242.00" cy="427.80" r="2.15"/></g>
<path d="M260.70 400.00V421.50M254.70 400.00H266.70M254.70 421.50H266.70" stroke="#000" stroke-width="1.3" fill="none"/>
<g fill="#000"><circle cx="260.80" cy="398.50" r="2.15"/><circle cx="257.30" cy="402.60" r="2.15"/><circle cx="263.90" cy="402.60" r="2.15"/><circle cx="257.30" cy="407.20" r="2.15"/><circle cx="263.90" cy="408.50" r="2.15"/><circle cx="253.90" cy="417.70" r="2.15"/><circle cx="267.00" cy="418.00" r="2.15"/><circle cx="260.80" cy="426.90" r="2.15"/><circle cx="260.80" cy="420.80" r="2.15"/></g>
<path d="M192.70 335.90V428.40H278.00" fill="none" stroke="#000" stroke-width="1.5"/>
<line x1="189.70" y1="335.90" x2="192.70" y2="335.90" stroke="#000" stroke-width="1.3" />
<text x="188.70" y="338.80" font-size="8.1" text-anchor="end" textLength="14.25" lengthAdjust="spacingAndGlyphs" >200</text>
<line x1="189.70" y1="359.10" x2="192.70" y2="359.10" stroke="#000" stroke-width="1.3" />
<text x="188.70" y="362.00" font-size="8.1" text-anchor="end" textLength="14.25" lengthAdjust="spacingAndGlyphs" >150</text>
<line x1="189.70" y1="382.20" x2="192.70" y2="382.20" stroke="#000" stroke-width="1.3" />
<text x="188.70" y="385.10" font-size="8.1" text-anchor="end" textLength="14.25" lengthAdjust="spacingAndGlyphs" >100</text>
<line x1="189.70" y1="405.30" x2="192.70" y2="405.30" stroke="#000" stroke-width="1.3" />
<text x="188.70" y="408.20" font-size="8.1" text-anchor="end" textLength="9.5" lengthAdjust="spacingAndGlyphs" >50</text>
<line x1="189.70" y1="428.40" x2="192.70" y2="428.40" stroke="#000" stroke-width="1.3" />
<text x="188.70" y="431.30" font-size="8.1" text-anchor="end" textLength="4.75" lengthAdjust="spacingAndGlyphs" >0</text>
<line x1="209.40" y1="428.40" x2="209.40" y2="431.20" stroke="#000" stroke-width="1.3" />
<text x="211.20" y="438.20" font-size="8.6" text-anchor="end" textLength="10.4" lengthAdjust="spacingAndGlyphs" transform="rotate(-45 211.20 438.20)" >B6</text>
<line x1="235.30" y1="428.40" x2="235.30" y2="431.20" stroke="#000" stroke-width="1.3" />
<text x="237.10" y="438.20" font-size="8.6" text-anchor="end" textLength="36.5" lengthAdjust="spacingAndGlyphs" transform="rotate(-45 237.10 438.20)" >CD4 dep</text>
<line x1="260.70" y1="428.40" x2="260.70" y2="431.20" stroke="#000" stroke-width="1.3" />
<text x="262.50" y="438.20" font-size="8.6" text-anchor="end" textLength="8.1" lengthAdjust="spacingAndGlyphs" transform="rotate(-45 262.50 438.20)" >IC</text>
<text x="235.70" y="333.60" font-size="8.7" text-anchor="middle" >D7</text>
<path d="M202.20 348.00V345.40H269.30V348.00" fill="none" stroke="#000" stroke-width="1.3"/>
<text x="236.25" y="346.30" font-size="8" text-anchor="middle">*</text>
<path d="M202.20 355.90V353.30H234.50V355.90" fill="none" stroke="#000" stroke-width="1.3"/>
<text x="218.85" y="354.20" font-size="8" text-anchor="middle">*</text>
<path d="M236.60 355.90V353.30H269.30V355.90" fill="none" stroke="#000" stroke-width="1.3"/>
<text x="253.45" y="354.20" font-size="8" text-anchor="middle" textLength="14.4" lengthAdjust="spacing">****</text>
<text x="169.80" y="385.50" font-size="7.5" text-anchor="middle" textLength="59.2" lengthAdjust="spacingAndGlyphs" transform="rotate(-90 169.80 385.50)" >Anti-HOD IgG MFI</text>
<rect x="319.30" y="413.80" width="16.70" height="15.20" fill="#C21230"/>
<rect x="345.00" y="428.00" width="16.00" height="1.00" fill="#115382"/>
<rect x="370.20" y="403.20" width="16.40" height="25.80" fill="#3DB54A"/>
<path d="M327.65 405.80V420.40M322.15 405.80H333.15M322.15 420.40H333.15" stroke="#000" stroke-width="1.3" fill="none"/>
<g fill="#000"><circle cx="331.20" cy="401.20" r="2.15"/><circle cx="324.00" cy="403.90" r="2.15"/><circle cx="331.20" cy="406.50" r="2.15"/><circle cx="324.00" cy="410.40" r="2.15"/><circle cx="331.20" cy="411.90" r="2.15"/><circle cx="324.00" cy="414.20" r="2.15"/><circle cx="331.20" cy="417.30" r="2.15"/><circle cx="324.00" cy="421.20" r="2.15"/><circle cx="331.20" cy="424.20" r="2.15"/><circle cx="324.00" cy="424.20" r="2.15"/></g>
<g fill="#000"><circle cx="346.00" cy="426.00" r="2.15"/><circle cx="349.00" cy="426.50" r="2.15"/><circle cx="352.00" cy="427.30" r="2.15"/><circle cx="355.00" cy="427.80" r="2.15"/><circle cx="358.00" cy="428.00" r="2.15"/><circle cx="360.50" cy="428.20" r="2.15"/></g>
<path d="M378.40 387.30V417.30M371.40 387.30H385.40M371.40 417.30H385.40" stroke="#000" stroke-width="1.3" fill="none"/>
<g fill="#000"><circle cx="374.30" cy="385.80" r="2.15"/><circle cx="381.50" cy="383.90" r="2.15"/><circle cx="377.80" cy="387.30" r="2.15"/><circle cx="374.30" cy="399.30" r="2.15"/><circle cx="381.50" cy="397.30" r="2.15"/><circle cx="377.80" cy="405.80" r="2.15"/><circle cx="377.80" cy="411.60" r="2.15"/><circle cx="377.80" cy="421.90" r="2.15"/><circle cx="377.80" cy="426.50" r="2.15"/><circle cx="377.80" cy="408.80" r="2.15"/></g>
<path d="M310.40 338.10V429.00H396.00" fill="none" stroke="#000" stroke-width="1.5"/>
<line x1="307.40" y1="338.10" x2="310.40" y2="338.10" stroke="#000" stroke-width="1.3" />
<text x="306.40" y="341.00" font-size="8.1" text-anchor="end" textLength="14.25" lengthAdjust="spacingAndGlyphs" >200</text>
<line x1="307.40" y1="361.00" x2="310.40" y2="361.00" stroke="#000" stroke-width="1.3" />
<text x="306.40" y="363.90" font-size="8.1" text-anchor="end" textLength="14.25" lengthAdjust="spacingAndGlyphs" >150</text>
<line x1="307.40" y1="383.80" x2="310.40" y2="383.80" stroke="#000" stroke-width="1.3" />
<text x="306.40" y="386.70" font-size="8.1" text-anchor="end" textLength="14.25" lengthAdjust="spacingAndGlyphs" >100</text>
<line x1="307.40" y1="406.40" x2="310.40" y2="406.40" stroke="#000" stroke-width="1.3" />
<text x="306.40" y="409.30" font-size="8.1" text-anchor="end" textLength="9.5" lengthAdjust="spacingAndGlyphs" >50</text>
<line x1="307.40" y1="429.00" x2="310.40" y2="429.00" stroke="#000" stroke-width="1.3" />
<text x="306.40" y="431.90" font-size="8.1" text-anchor="end" textLength="4.75" lengthAdjust="spacingAndGlyphs" >0</text>
<line x1="327.65" y1="429.00" x2="327.65" y2="431.80" stroke="#000" stroke-width="1.3" />
<text x="329.45" y="438.80" font-size="8.6" text-anchor="end" textLength="10.4" lengthAdjust="spacingAndGlyphs" transform="rotate(-45 329.45 438.80)" >B6</text>
<line x1="353.00" y1="429.00" x2="353.00" y2="431.80" stroke="#000" stroke-width="1.3" />
<text x="354.80" y="438.80" font-size="8.6" text-anchor="end" textLength="36.5" lengthAdjust="spacingAndGlyphs" transform="rotate(-45 354.80 438.80)" >CD4 dep</text>
<line x1="378.40" y1="429.00" x2="378.40" y2="431.80" stroke="#000" stroke-width="1.3" />
<text x="380.20" y="438.80" font-size="8.6" text-anchor="end" textLength="8.1" lengthAdjust="spacingAndGlyphs" transform="rotate(-45 380.20 438.80)" >IC</text>
<text x="354.00" y="332.10" font-size="8.7" text-anchor="middle" textLength="16.8" lengthAdjust="spacingAndGlyphs" >D14</text>
<path d="M320.60 346.70V344.10H386.00V346.70" fill="none" stroke="#000" stroke-width="1.3"/>
<text x="354.10" y="342.00" font-size="8.0" text-anchor="middle" >ns</text>
<path d="M320.60 354.40V351.80H352.20V354.40" fill="none" stroke="#000" stroke-width="1.3"/>
<text x="336.90" y="352.70" font-size="8" text-anchor="middle" textLength="6.6" lengthAdjust="spacing">**</text>
<path d="M354.50 354.40V351.80H386.00V354.40" fill="none" stroke="#000" stroke-width="1.3"/>
<text x="370.75" y="352.70" font-size="8" text-anchor="middle" textLength="14.4" lengthAdjust="spacing">****</text>
<text x="289.60" y="384.30" font-size="7.5" text-anchor="middle" textLength="59.2" lengthAdjust="spacingAndGlyphs" transform="rotate(-90 289.60 384.30)" >Anti-HOD IgG MFI</text>
<rect x="436.20" y="396.80" width="16.80" height="32.00" fill="#C21230"/>
<rect x="462.00" y="428.00" width="17.00" height="0.80" fill="#115382"/>
<rect x="487.50" y="384.30" width="17.10" height="44.50" fill="#3DB54A"/>
<path d="M444.60 382.80V409.60M437.60 382.80H451.60M437.60 409.60H451.60" stroke="#000" stroke-width="1.3" fill="none"/>
<g fill="#000"><circle cx="437.80" cy="386.60" r="2.15"/><circle cx="444.80" cy="382.20" r="2.15"/><circle cx="451.30" cy="381.70" r="2.15"/><circle cx="451.30" cy="388.00" r="2.15"/><circle cx="444.80" cy="390.10" r="2.15"/><circle cx="441.30" cy="397.40" r="2.15"/><circle cx="447.80" cy="399.70" r="2.15"/><circle cx="441.30" cy="405.80" r="2.15"/><circle cx="447.80" cy="407.50" r="2.15"/><circle cx="444.80" cy="422.90" r="2.15"/></g>
<g fill="#000"><circle cx="463.50" cy="426.30" r="2.15"/><circle cx="466.50" cy="427.00" r="2.15"/><circle cx="469.50" cy="427.50" r="2.15"/><circle cx="472.50" cy="427.80" r="2.15"/><circle cx="475.50" cy="428.00" r="2.15"/><circle cx="477.80" cy="428.20" r="2.15"/></g>
<path d="M496.05 364.80V404.00M489.55 364.80H502.55M489.55 404.00H502.55" stroke="#000" stroke-width="1.3" fill="none"/>
<g fill="#000"><circle cx="492.20" cy="361.90" r="2.15"/><circle cx="499.40" cy="362.50" r="2.15"/><circle cx="495.90" cy="364.80" r="2.15"/><circle cx="492.20" cy="380.00" r="2.15"/><circle cx="499.40" cy="379.30" r="2.15"/><circle cx="495.90" cy="386.60" r="2.15"/><circle cx="495.90" cy="392.40" r="2.15"/><circle cx="495.90" cy="400.50" r="2.15"/><circle cx="495.90" cy="424.00" r="2.15"/></g>
<path d="M427.30 336.20V428.80H513.00" fill="none" stroke="#000" stroke-width="1.5"/>
<line x1="424.30" y1="336.20" x2="427.30" y2="336.20" stroke="#000" stroke-width="1.3" />
<text x="423.30" y="339.10" font-size="8.1" text-anchor="end" textLength="14.25" lengthAdjust="spacingAndGlyphs" >200</text>
<line x1="424.30" y1="359.40" x2="427.30" y2="359.40" stroke="#000" stroke-width="1.3" />
<text x="423.30" y="362.30" font-size="8.1" text-anchor="end" textLength="14.25" lengthAdjust="spacingAndGlyphs" >150</text>
<line x1="424.30" y1="382.50" x2="427.30" y2="382.50" stroke="#000" stroke-width="1.3" />
<text x="423.30" y="385.40" font-size="8.1" text-anchor="end" textLength="14.25" lengthAdjust="spacingAndGlyphs" >100</text>
<line x1="424.30" y1="405.70" x2="427.30" y2="405.70" stroke="#000" stroke-width="1.3" />
<text x="423.30" y="408.60" font-size="8.1" text-anchor="end" textLength="9.5" lengthAdjust="spacingAndGlyphs" >50</text>
<line x1="424.30" y1="428.80" x2="427.30" y2="428.80" stroke="#000" stroke-width="1.3" />
<text x="423.30" y="431.70" font-size="8.1" text-anchor="end" textLength="4.75" lengthAdjust="spacingAndGlyphs" >0</text>
<line x1="444.60" y1="428.80" x2="444.60" y2="431.60" stroke="#000" stroke-width="1.3" />
<text x="446.40" y="438.60" font-size="8.6" text-anchor="end" textLength="10.4" lengthAdjust="spacingAndGlyphs" transform="rotate(-45 446.40 438.60)" >B6</text>
<line x1="470.50" y1="428.80" x2="470.50" y2="431.60" stroke="#000" stroke-width="1.3" />
<text x="472.30" y="438.60" font-size="8.6" text-anchor="end" textLength="36.5" lengthAdjust="spacingAndGlyphs" transform="rotate(-45 472.30 438.60)" >CD4 dep</text>
<line x1="496.05" y1="428.80" x2="496.05" y2="431.60" stroke="#000" stroke-width="1.3" />
<text x="497.85" y="438.60" font-size="8.6" text-anchor="end" textLength="8.1" lengthAdjust="spacingAndGlyphs" transform="rotate(-45 497.85 438.60)" >IC</text>
<text x="470.60" y="333.10" font-size="8.7" text-anchor="middle" textLength="16.8" lengthAdjust="spacingAndGlyphs" >D21</text>
<path d="M437.60 346.80V344.20H504.70V346.80" fill="none" stroke="#000" stroke-width="1.3"/>
<text x="471.95" y="342.10" font-size="8.0" text-anchor="middle" >ns</text>
<path d="M437.60 354.70V352.10H469.40V354.70" fill="none" stroke="#000" stroke-width="1.3"/>
<text x="454.00" y="353.00" font-size="8" text-anchor="middle" textLength="14.4" lengthAdjust="spacing">****</text>
<path d="M471.00 354.70V352.10H504.70V354.70" fill="none" stroke="#000" stroke-width="1.3"/>
<text x="488.35" y="353.00" font-size="8" text-anchor="middle" textLength="14.4" lengthAdjust="spacing">****</text>
<text x="405.50" y="384.80" font-size="7.5" text-anchor="middle" textLength="59.2" lengthAdjust="spacingAndGlyphs" transform="rotate(-90 405.50 384.80)" >Anti-HOD IgG MFI</text>
<rect x="444.80" y="79.20" width="14.90" height="42.00" fill="#C21230"/>
<rect x="489.60" y="74.80" width="14.60" height="46.40" fill="#3DB54A"/>
<path d="M452.20 75.80V82.00M447.70 75.80H456.70M447.70 82.00H456.70" stroke="#000" stroke-width="1.3" fill="none"/>
<path d="M496.90 72.50V77.50M491.90 72.50H501.90M491.90 77.50H501.90" stroke="#000" stroke-width="1.3" fill="none"/>
<g fill="#000"><circle cx="452.10" cy="73.70" r="2.1"/><circle cx="447.00" cy="80.00" r="2.1"/><circle cx="449.50" cy="81.30" r="2.1"/><circle cx="452.50" cy="80.60" r="2.1"/><circle cx="456.00" cy="80.20" r="2.1"/><circle cx="458.00" cy="79.60" r="2.1"/><circle cx="454.00" cy="81.50" r="2.1"/><circle cx="450.00" cy="79.00" r="2.1"/><circle cx="447.50" cy="81.80" r="2.1"/></g>
<g fill="#000"><circle cx="468.00" cy="120.70" r="2.45"/><circle cx="470.50" cy="120.70" r="2.45"/><circle cx="473.00" cy="120.70" r="2.45"/><circle cx="475.50" cy="120.70" r="2.45"/><circle cx="478.00" cy="120.70" r="2.45"/><circle cx="480.30" cy="120.70" r="2.45"/></g>
<g fill="#000"><circle cx="491.80" cy="71.40" r="2.1"/><circle cx="498.50" cy="70.70" r="2.1"/><circle cx="501.90" cy="74.50" r="2.1"/><circle cx="491.80" cy="77.50" r="2.1"/><circle cx="496.50" cy="75.80" r="2.1"/><circle cx="495.00" cy="73.00" r="2.1"/><circle cx="501.00" cy="76.50" r="2.1"/><circle cx="493.50" cy="74.50" r="2.1"/></g>
<path d="M437.8 23.1V121.2H511.3" fill="none" stroke="#000" stroke-width="1.5"/>
<line x1="434.80" y1="23.10" x2="437.80" y2="23.10" stroke="#000" stroke-width="1.3" />
<text x="431.40" y="26.10" font-size="8.4" text-anchor="end" textLength="14.549999999999999" lengthAdjust="spacingAndGlyphs" >100</text>
<line x1="434.80" y1="72.10" x2="437.80" y2="72.10" stroke="#000" stroke-width="1.3" />
<text x="431.40" y="75.10" font-size="8.4" text-anchor="end" textLength="9.7" lengthAdjust="spacingAndGlyphs" >50</text>
<line x1="434.80" y1="121.20" x2="437.80" y2="121.20" stroke="#000" stroke-width="1.3" />
<text x="431.40" y="124.20" font-size="8.4" text-anchor="end" textLength="4.85" lengthAdjust="spacingAndGlyphs" >0</text>
<line x1="452.20" y1="121.20" x2="452.20" y2="124.00" stroke="#000" stroke-width="1.3" />
<text x="453.50" y="130.60" font-size="8.5" text-anchor="end" textLength="10.3" lengthAdjust="spacingAndGlyphs" transform="rotate(-45 453.50 130.60)" >B6</text>
<line x1="474.30" y1="121.20" x2="474.30" y2="124.00" stroke="#000" stroke-width="1.3" />
<text x="477.80" y="129.20" font-size="8.5" text-anchor="end" textLength="36.5" lengthAdjust="spacingAndGlyphs" transform="rotate(-45 477.80 129.20)" >CD4 dep</text>
<line x1="496.80" y1="121.20" x2="496.80" y2="124.00" stroke="#000" stroke-width="1.3" />
<text x="498.90" y="129.90" font-size="8.5" text-anchor="end" textLength="8.0" lengthAdjust="spacingAndGlyphs" transform="rotate(-45 498.90 129.90)" >IC</text>
<path d="M445 55.6V52.9H481.5V55.6" fill="none" stroke="#000" stroke-width="1.3"/>
<path d="M467.5 47V44.2H504V47" fill="none" stroke="#000" stroke-width="1.3"/>
<text x="463.7" y="53.8" font-size="8" text-anchor="middle" textLength="14.4" lengthAdjust="spacing">****</text>
<text x="486.2" y="45.1" font-size="8" text-anchor="middle" textLength="14.4" lengthAdjust="spacing">****</text>
<text x="416.00" y="74.50" font-size="7.8" text-anchor="middle" textLength="48.5" lengthAdjust="spacingAndGlyphs" transform="rotate(-90 416.00 74.50)" >% CD4+ T cells</text>
<polyline points="46.20,254.50 47.15,254.11 48.10,252.78 49.05,251.18 50.00,250.00 51.00,249.03 52.00,247.64 53.00,246.13 54.00,245.17 55.00,244.00 56.00,242.78 57.00,241.67 58.00,240.00 58.75,239.09 59.50,237.77 60.25,237.03 61.00,235.50 61.40,233.97 61.80,233.14 62.20,231.93 62.60,230.21 63.00,229.00 63.27,227.35 63.53,226.49 63.80,225.72 64.07,224.69 64.33,223.88 64.60,222.30 64.95,220.67 65.30,219.65 65.65,218.52 66.00,217.00 66.22,215.70 66.45,213.79 66.68,213.49 66.90,212.00 67.00,211.58 67.10,210.08 67.20,208.39 67.30,207.43 67.40,206.51 67.50,206.08 67.60,204.41 67.70,203.15 67.80,202.00 68.04,201.27 68.28,199.58 68.52,198.96 68.76,196.99 69.00,196.00 69.25,194.73 69.50,193.97 69.75,193.05 70.00,191.50 70.38,190.42 70.75,189.04 71.12,187.13 71.50,186.40 73.00,184.60 75.00,183.80 77.00,184.30 78.50,183.80 79.25,185.19 80.00,187.00 80.63,188.12 81.27,189.44 81.90,190.90 83.00,193.00 83.50,194.51 84.00,195.57 84.50,197.00 84.88,198.40 85.26,199.34 85.64,200.38 86.02,201.68 86.40,202.80 86.93,204.33 87.47,205.86 88.00,207.00 88.60,208.36 89.20,210.00 89.42,211.11 89.65,211.94 89.88,214.01 90.10,214.70 90.47,216.57 90.83,217.51 91.20,219.00 91.42,219.96 91.64,220.83 91.86,222.35 92.08,223.46 92.30,224.50 93.80,226.60 94.65,228.70 95.50,229.50 96.25,231.07 97.00,232.50 97.65,233.77 98.30,235.50 98.70,235.93 99.10,238.26 99.50,239.00 99.88,240.31 100.25,241.02 100.62,242.80 101.00,244.00 101.33,244.77 101.67,247.54 102.00,248.09 102.33,249.17 102.67,250.20 103.00,251.50 103.40,251.96 103.80,253.66 104.20,254.33 104.60,256.08 105.00,257.00 105.54,257.56 106.08,259.13 106.62,260.97 107.16,262.29 107.70,263.00 108.85,263.35 110.00,264.40 136.70,264.40" fill="none" stroke="#3CC040" stroke-width="1.9" stroke-linejoin="round"/>
<polyline points="46.20,253.00 47.47,251.21 48.73,250.60 50.00,249.00 51.08,248.06 52.16,246.30 53.24,245.19 54.32,243.99 55.40,243.00 56.70,241.39 58.00,240.50 58.70,239.20 59.40,238.68 60.10,237.41 60.80,236.72 61.50,235.00 62.00,233.77 62.50,232.56 63.00,231.11 63.50,230.16 64.00,229.00 64.58,227.29 65.16,225.83 65.74,225.25 66.32,224.15 66.90,222.40 67.29,221.48 67.68,220.45 68.06,218.95 68.45,217.48 68.84,216.55 69.22,215.24 69.61,213.84 70.00,213.00 70.30,211.29 70.60,210.16 70.90,209.40 71.20,208.25 71.50,207.00 71.80,205.66 72.10,205.03 72.40,203.45 72.70,202.37 73.00,201.00 73.38,200.12 73.75,198.25 74.12,196.66 74.50,196.00 75.00,194.89 75.50,193.13 76.00,192.00 76.67,191.06 77.33,189.43 78.00,188.00 79.00,186.80 80.00,185.00 81.50,183.50 83.10,181.80 84.50,183.50 85.25,185.23 86.00,186.50 86.50,187.04 87.00,189.05 87.50,190.00 87.83,191.05 88.15,192.27 88.47,193.62 88.80,195.00 89.04,196.43 89.28,197.67 89.52,198.90 89.76,199.30 90.00,201.00 90.17,201.99 90.33,202.62 90.50,204.47 90.67,205.85 90.83,206.60 91.00,208.00 91.30,209.17 91.60,210.27 91.90,211.60 92.20,212.15 92.50,213.50 93.17,214.42 93.83,215.60 94.50,217.00 95.00,218.78 95.50,219.83 96.00,220.71 96.50,222.00 97.00,223.40 97.50,224.70 98.00,226.00 98.60,227.39 99.20,228.60 99.80,230.00 100.14,231.10 100.48,232.02 100.82,233.41 101.16,235.30 101.50,236.00 101.83,237.41 102.15,238.52 102.47,239.69 102.80,241.00 103.14,242.22 103.48,243.51 103.82,244.41 104.16,245.86 104.50,247.00 104.79,248.29 105.07,249.20 105.36,250.41 105.64,251.56 105.93,252.75 106.21,254.55 106.50,255.50 106.90,255.99 107.30,257.82 107.70,258.92 108.10,260.11 108.50,261.50 109.75,262.78 111.00,264.00 136.70,264.40" fill="none" stroke="#1B5AA0" stroke-width="1.9" stroke-linejoin="round"/>
<polyline points="46.20,255.40 47.15,254.64 48.10,253.22 49.05,252.06 50.00,251.00 51.08,249.70 52.16,248.72 53.24,247.91 54.32,246.40 55.40,245.40 56.70,243.61 58.00,242.50 58.88,240.92 59.75,239.77 60.62,238.48 61.50,237.70 62.00,236.89 62.50,235.53 63.00,234.21 63.50,233.58 64.00,232.00 64.58,230.48 65.16,229.59 65.74,228.28 66.32,226.26 66.90,225.40 67.29,223.78 67.68,222.82 68.06,222.22 68.45,221.19 68.84,219.28 69.22,218.81 69.61,217.24 70.00,216.20 70.30,214.84 70.60,213.55 70.90,212.38 71.20,210.69 71.50,210.00 71.80,208.50 72.10,207.23 72.40,206.55 72.70,205.83 73.00,204.00 73.38,203.57 73.75,201.40 74.12,199.73 74.50,199.00 74.88,197.63 75.25,196.22 75.62,195.84 76.00,194.00 77.00,193.50 77.33,192.50 77.67,190.95 78.00,190.00 79.50,189.00 80.07,187.91 80.63,186.43 81.20,184.90 82.50,186.00 83.30,184.11 84.10,183.20 85.50,185.00 86.00,186.34 86.50,188.00 86.83,189.26 87.17,190.67 87.50,192.00 87.87,193.37 88.23,194.56 88.60,196.00 88.78,197.26 88.96,198.22 89.14,199.33 89.32,201.25 89.50,202.00 89.72,203.27 89.93,204.46 90.15,205.02 90.37,206.62 90.58,208.08 90.80,209.00 91.10,209.75 91.40,211.61 91.70,212.30 92.00,213.68 92.30,214.70 93.15,215.81 94.00,217.00 94.50,218.32 95.00,219.86 95.50,220.63 96.00,222.00 96.38,223.72 96.75,224.27 97.12,225.47 97.50,227.00 98.35,228.71 99.20,230.00 99.85,231.18 100.50,233.00 100.80,234.15 101.10,235.79 101.40,237.14 101.70,237.51 102.00,239.30 102.50,240.95 103.00,242.30 103.30,244.01 103.60,244.94 103.90,245.65 104.20,246.68 104.50,248.00 104.74,249.08 104.99,250.00 105.23,251.43 105.47,252.63 105.71,253.81 105.96,255.38 106.20,256.20 106.63,257.40 107.07,258.30 107.50,260.00 108.07,261.48 108.63,262.01 109.20,263.50 110.60,263.77 112.00,264.30 136.70,264.40" fill="none" stroke="#D2143A" stroke-width="1.9" stroke-linejoin="round"/>
<polygon points="45.80,265.30 46.20,231.00 46.50,229.53 46.80,228.76 47.10,227.75 47.40,226.21 47.70,224.83 48.00,224.00 48.40,222.72 48.80,221.60 49.20,220.49 49.60,218.66 50.00,217.70 50.16,216.22 50.33,215.57 50.49,214.35 50.65,213.47 50.82,212.17 50.98,210.75 51.15,209.55 51.31,209.11 51.47,207.24 51.64,205.96 51.80,205.00 52.10,203.47 52.40,202.52 52.70,201.29 53.00,200.00 53.33,198.75 53.67,197.65 54.00,196.57 54.33,195.51 54.67,194.44 55.00,193.00 55.38,191.80 55.75,190.05 56.12,189.43 56.50,188.00 57.50,186.00 57.93,184.41 58.37,183.49 58.80,182.30 60.00,184.00 60.50,184.88 61.00,186.50 61.50,187.75 62.00,189.00 62.65,190.31 63.30,192.00 63.40,193.20 63.50,195.11 63.60,195.42 63.70,196.78 63.80,197.38 63.90,198.79 64.00,200.00 64.09,201.28 64.18,202.20 64.27,203.43 64.36,204.47 64.44,205.30 64.53,206.81 64.62,207.57 64.71,209.36 64.80,210.00 64.91,210.98 65.02,212.39 65.13,213.33 65.24,214.68 65.36,215.41 65.47,216.92 65.58,217.75 65.69,219.20 65.80,220.00 65.92,221.27 66.04,222.26 66.17,223.14 66.29,224.64 66.41,225.67 66.53,227.08 66.66,227.68 66.78,229.03 66.90,230.00 67.02,231.24 67.14,232.29 67.27,233.39 67.39,234.49 67.51,235.41 67.63,236.41 67.76,237.68 67.88,239.04 68.00,240.00 68.17,241.59 68.34,242.67 68.51,243.91 68.69,245.05 68.86,246.25 69.03,247.33 69.20,248.50 69.38,249.94 69.57,251.44 69.75,252.17 69.93,253.33 70.12,255.24 70.30,256.00 70.54,257.36 70.78,258.84 71.02,260.12 71.26,260.92 71.50,262.50 72.50,264.40 72.50,265.30" fill="#612B6E" fill-opacity="0.6"/>
<polyline points="46.20,231.00 46.50,229.53 46.80,228.76 47.10,227.75 47.40,226.21 47.70,224.83 48.00,224.00 48.40,222.72 48.80,221.60 49.20,220.49 49.60,218.66 50.00,217.70 50.16,216.22 50.33,215.57 50.49,214.35 50.65,213.47 50.82,212.17 50.98,210.75 51.15,209.55 51.31,209.11 51.47,207.24 51.64,205.96 51.80,205.00 52.10,203.47 52.40,202.52 52.70,201.29 53.00,200.00 53.33,198.75 53.67,197.65 54.00,196.57 54.33,195.51 54.67,194.44 55.00,193.00 55.38,191.80 55.75,190.05 56.12,189.43 56.50,188.00 57.50,186.00 57.93,184.41 58.37,183.49 58.80,182.30 60.00,184.00 60.50,184.88 61.00,186.50 61.50,187.75 62.00,189.00 62.65,190.31 63.30,192.00 63.40,193.20 63.50,195.11 63.60,195.42 63.70,196.78 63.80,197.38 63.90,198.79 64.00,200.00 64.09,201.28 64.18,202.20 64.27,203.43 64.36,204.47 64.44,205.30 64.53,206.81 64.62,207.57 64.71,209.36 64.80,210.00 64.91,210.98 65.02,212.39 65.13,213.33 65.24,214.68 65.36,215.41 65.47,216.92 65.58,217.75 65.69,219.20 65.80,220.00 65.92,221.27 66.04,222.26 66.17,223.14 66.29,224.64 66.41,225.67 66.53,227.08 66.66,227.68 66.78,229.03 66.90,230.00 67.02,231.24 67.14,232.29 67.27,233.39 67.39,234.49 67.51,235.41 67.63,236.41 67.76,237.68 67.88,239.04 68.00,240.00 68.17,241.59 68.34,242.67 68.51,243.91 68.69,245.05 68.86,246.25 69.03,247.33 69.20,248.50 69.38,249.94 69.57,251.44 69.75,252.17 69.93,253.33 70.12,255.24 70.30,256.00 70.54,257.36 70.78,258.84 71.02,260.12 71.26,260.92 71.50,262.50 72.50,264.40" fill="none" stroke="#5A1E6E" stroke-width="1.35"/>
<rect x="45.80" y="173.70" width="91.60" height="91.60" fill="none" stroke="#000" stroke-width="1.5"/>
<line x1="45.80" y1="265.30" x2="45.80" y2="267.80" stroke="#000" stroke-width="1.2" />
<line x1="43.30" y1="265.30" x2="45.80" y2="265.30" stroke="#000" stroke-width="1.2" />
<text x="47.10" y="277.10" font-size="8.1" text-anchor="middle">10<tspan font-size="5.4" dy="-3.3">0</tspan></text>
<line x1="68.70" y1="265.30" x2="68.70" y2="267.80" stroke="#000" stroke-width="1.2" />
<line x1="43.30" y1="242.40" x2="45.80" y2="242.40" stroke="#000" stroke-width="1.2" />
<text x="70.00" y="277.10" font-size="8.1" text-anchor="middle">10<tspan font-size="5.4" dy="-3.3">1</tspan></text>
<line x1="91.60" y1="265.30" x2="91.60" y2="267.80" stroke="#000" stroke-width="1.2" />
<line x1="43.30" y1="219.50" x2="45.80" y2="219.50" stroke="#000" stroke-width="1.2" />
<text x="92.90" y="277.10" font-size="8.1" text-anchor="middle">10<tspan font-size="5.4" dy="-3.3">2</tspan></text>
<line x1="114.50" y1="265.30" x2="114.50" y2="267.80" stroke="#000" stroke-width="1.2" />
<line x1="43.30" y1="196.60" x2="45.80" y2="196.60" stroke="#000" stroke-width="1.2" />
<text x="115.80" y="277.10" font-size="8.1" text-anchor="middle">10<tspan font-size="5.4" dy="-3.3">3</tspan></text>
<line x1="137.40" y1="265.30" x2="137.40" y2="267.80" stroke="#000" stroke-width="1.2" />
<line x1="43.30" y1="173.70" x2="45.80" y2="173.70" stroke="#000" stroke-width="1.2" />
<text x="138.70" y="277.10" font-size="8.1" text-anchor="middle">10<tspan font-size="5.4" dy="-3.3">4</tspan></text>
<text x="42.20" y="175.80" font-size="8.3" text-anchor="end" textLength="13.9" lengthAdjust="spacingAndGlyphs" >100</text>
<text x="42.50" y="268.20" font-size="8.0" text-anchor="end" >0</text>
<text x="87.70" y="164.80" font-size="8.8" text-anchor="middle" textLength="11.4" lengthAdjust="spacingAndGlyphs" >D5</text>
<text x="33.50" y="220.20" font-size="8.2" text-anchor="middle" textLength="24" lengthAdjust="spacingAndGlyphs" transform="rotate(-90 33.50 220.20)" >Counts</text>
<line x1="47.60" y1="284.60" x2="121.00" y2="284.60" stroke="#000" stroke-width="2.4" />
<path d="M120.3 280.3 L131.6 284.6 L120.3 288.9 Z" fill="#000"/>
<text x="91.20" y="296.80" font-size="7.6" text-anchor="middle" textLength="32.5" lengthAdjust="spacingAndGlyphs" >anti-IgM</text>
<polygon points="49.10,425.20 49.20,395.00 49.65,393.72 50.10,392.41 50.55,391.00 51.00,390.00 51.22,388.77 51.43,388.21 51.65,386.35 51.87,385.30 52.08,384.45 52.30,383.00 52.42,382.09 52.54,380.99 52.66,379.92 52.78,378.11 52.90,377.28 53.02,376.43 53.14,375.42 53.26,374.52 53.38,373.22 53.50,372.00 53.60,370.84 53.70,369.81 53.80,368.65 53.90,367.66 54.00,366.67 54.10,365.32 54.20,364.10 54.30,362.99 54.40,362.37 54.50,361.00 54.64,360.18 54.79,358.96 54.93,357.79 55.07,356.64 55.21,355.29 55.36,354.31 55.50,353.00 55.90,351.40 56.30,350.28 56.70,349.00 57.35,347.32 58.00,346.00 59.50,344.00 60.50,342.50 61.40,341.70 61.85,343.03 62.30,344.00 62.63,345.02 62.97,346.31 63.30,347.50 63.55,348.73 63.80,350.09 64.05,350.68 64.30,352.00 64.40,352.88 64.50,354.43 64.60,355.06 64.70,356.56 64.80,357.41 64.90,358.64 65.00,359.32 65.10,361.07 65.20,362.00 65.31,363.02 65.43,364.06 65.54,365.95 65.66,366.75 65.77,368.59 65.89,368.96 66.00,370.00 66.14,371.02 66.29,372.25 66.43,373.74 66.58,374.44 66.72,375.67 66.87,376.80 67.01,377.55 67.16,378.92 67.30,380.00 67.45,381.07 67.60,382.09 67.75,383.82 67.90,384.97 68.05,386.02 68.20,386.97 68.35,387.90 68.50,389.60 68.67,390.88 68.83,391.89 69.00,392.65 69.17,394.21 69.33,395.00 69.50,396.53 69.67,397.72 69.83,398.93 70.00,400.00 70.15,401.15 70.30,402.24 70.45,403.02 70.60,404.30 70.75,405.37 70.90,406.54 71.05,407.77 71.20,408.95 71.35,410.31 71.50,411.00 71.75,411.52 72.00,413.43 72.25,414.45 72.50,416.24 72.75,417.07 73.00,418.00 73.40,418.91 73.80,420.75 74.20,421.84 74.60,423.30 76.00,424.00 76.00,425.20" fill="#612B6E" fill-opacity="0.6"/>
<polyline points="49.20,395.00 49.65,393.72 50.10,392.41 50.55,391.00 51.00,390.00 51.22,388.77 51.43,388.21 51.65,386.35 51.87,385.30 52.08,384.45 52.30,383.00 52.42,382.09 52.54,380.99 52.66,379.92 52.78,378.11 52.90,377.28 53.02,376.43 53.14,375.42 53.26,374.52 53.38,373.22 53.50,372.00 53.60,370.84 53.70,369.81 53.80,368.65 53.90,367.66 54.00,366.67 54.10,365.32 54.20,364.10 54.30,362.99 54.40,362.37 54.50,361.00 54.64,360.18 54.79,358.96 54.93,357.79 55.07,356.64 55.21,355.29 55.36,354.31 55.50,353.00 55.90,351.40 56.30,350.28 56.70,349.00 57.35,347.32 58.00,346.00 59.50,344.00 60.50,342.50 61.40,341.70 61.85,343.03 62.30,344.00 62.63,345.02 62.97,346.31 63.30,347.50 63.55,348.73 63.80,350.09 64.05,350.68 64.30,352.00 64.40,352.88 64.50,354.43 64.60,355.06 64.70,356.56 64.80,357.41 64.90,358.64 65.00,359.32 65.10,361.07 65.20,362.00 65.31,363.02 65.43,364.06 65.54,365.95 65.66,366.75 65.77,368.59 65.89,368.96 66.00,370.00 66.14,371.02 66.29,372.25 66.43,373.74 66.58,374.44 66.72,375.67 66.87,376.80 67.01,377.55 67.16,378.92 67.30,380.00 67.45,381.07 67.60,382.09 67.75,383.82 67.90,384.97 68.05,386.02 68.20,386.97 68.35,387.90 68.50,389.60 68.67,390.88 68.83,391.89 69.00,392.65 69.17,394.21 69.33,395.00 69.50,396.53 69.67,397.72 69.83,398.93 70.00,400.00 70.15,401.15 70.30,402.24 70.45,403.02 70.60,404.30 70.75,405.37 70.90,406.54 71.05,407.77 71.20,408.95 71.35,410.31 71.50,411.00 71.75,411.52 72.00,413.43 72.25,414.45 72.50,416.24 72.75,417.07 73.00,418.00 73.40,418.91 73.80,420.75 74.20,421.84 74.60,423.30 76.00,424.00" fill="none" stroke="#5A1E6E" stroke-width="1.35"/>
<polyline points="49.20,421.90 50.47,420.90 51.73,418.98 53.00,418.00 54.10,416.91 55.20,415.84 56.30,414.79 57.40,413.58 58.50,412.70 59.67,411.25 60.83,411.04 62.00,410.00 63.23,409.42 64.45,408.23 65.68,407.07 66.90,406.50 67.70,405.31 68.50,404.00 69.65,402.67 70.80,401.00 71.27,399.61 71.73,398.33 72.20,397.00 72.43,396.28 72.66,394.38 72.89,393.40 73.11,391.86 73.34,391.08 73.57,389.92 73.80,389.00 74.04,387.51 74.28,386.39 74.52,385.94 74.76,384.14 75.00,383.00 75.28,381.72 75.55,381.16 75.82,379.23 76.10,378.00 76.34,376.28 76.58,375.72 76.82,374.12 77.06,373.69 77.30,372.00 77.60,370.38 77.90,369.33 78.20,367.77 78.50,367.00 78.83,365.78 79.15,364.20 79.47,363.23 79.80,362.00 80.20,360.64 80.60,359.32 81.00,358.53 81.40,357.00 81.72,355.98 82.04,354.42 82.36,352.83 82.68,351.48 83.00,350.50 83.23,349.41 83.47,348.88 83.70,346.86 83.93,345.60 84.17,344.46 84.40,343.50 86.00,343.00 86.55,343.92 87.10,345.50 87.55,346.71 88.00,348.50 88.40,349.56 88.80,351.18 89.20,351.87 89.60,353.00 89.80,354.10 90.00,355.02 90.20,356.81 90.40,358.00 90.54,359.13 90.69,359.92 90.83,361.10 90.97,362.56 91.11,364.02 91.26,365.05 91.40,366.00 91.60,367.26 91.80,368.30 92.00,369.70 92.20,370.80 92.40,372.00 92.65,373.78 92.90,373.91 93.15,375.26 93.40,376.50 94.15,378.38 94.90,379.50 95.40,380.59 95.90,382.26 96.40,383.00 96.90,384.32 97.40,385.71 97.90,387.00 98.40,388.06 98.90,388.92 99.40,390.50 99.78,391.46 100.15,393.66 100.53,394.44 100.90,395.50 101.28,396.93 101.65,398.29 102.03,399.42 102.40,400.50 102.70,402.01 103.00,402.82 103.30,404.03 103.60,405.60 103.90,406.50 104.28,407.52 104.65,408.35 105.03,409.81 105.40,411.00 105.78,411.96 106.15,413.43 106.53,414.16 106.90,415.50 107.28,416.28 107.66,417.60 108.04,419.27 108.42,419.89 108.80,421.00 109.60,422.55 110.40,424.00 112.00,424.00 140.80,424.00" fill="none" stroke="#3CC040" stroke-width="1.9" stroke-linejoin="round"/>
<polyline points="49.20,418.80 50.60,417.40 52.00,416.00 52.68,414.89 53.36,413.88 54.04,412.82 54.72,410.71 55.40,410.00 56.70,408.91 58.00,407.00 59.17,405.67 60.33,404.24 61.50,403.00 62.75,402.47 64.00,400.50 64.97,399.18 65.93,398.55 66.90,396.70 67.43,395.59 67.97,393.59 68.50,392.50 68.80,391.41 69.10,390.24 69.40,388.74 69.70,386.84 70.00,386.30 70.43,384.76 70.87,383.38 71.30,382.00 71.48,380.51 71.66,380.23 71.84,378.45 72.02,377.24 72.20,376.20 72.50,374.94 72.80,373.63 73.10,372.70 73.28,371.35 73.47,370.49 73.65,369.44 73.83,368.08 74.02,367.09 74.20,366.00 74.50,364.33 74.80,363.66 75.10,362.03 75.40,361.00 76.50,360.00 77.50,358.00 78.60,358.30 79.07,356.93 79.53,355.16 80.00,354.00 80.40,352.71 80.80,351.80 81.20,350.60 81.63,349.04 82.07,348.94 82.50,347.00 83.50,345.00 84.40,343.60 85.70,343.00 86.80,345.00 87.25,346.49 87.70,348.00 88.03,349.31 88.37,350.45 88.70,352.00 88.87,353.81 89.03,355.08 89.20,356.00 89.33,357.21 89.45,357.84 89.58,359.22 89.70,360.68 89.83,361.47 89.95,362.39 90.08,363.52 90.20,365.00 90.42,365.97 90.64,367.40 90.86,368.41 91.08,369.81 91.30,371.00 91.55,373.04 91.80,373.93 92.05,374.29 92.30,375.80 93.05,377.35 93.80,378.70 94.37,379.83 94.93,380.86 95.50,382.00 96.00,383.65 96.50,384.57 97.00,386.00 97.50,387.10 98.00,388.29 98.50,389.60 98.93,391.04 99.37,392.92 99.80,394.00 100.15,395.48 100.50,396.10 100.85,397.62 101.20,399.00 101.50,399.93 101.80,401.58 102.10,402.57 102.40,403.93 102.70,404.81 103.00,406.00 103.50,406.76 104.00,408.80 104.50,410.00 104.93,411.40 105.37,412.82 105.80,414.00 106.18,414.89 106.56,416.58 106.94,417.63 107.32,418.91 107.70,420.40 108.40,422.06 109.10,423.50 111.00,424.00 140.80,424.00" fill="none" stroke="#D2143A" stroke-width="1.9" stroke-linejoin="round"/>
<polyline points="49.20,397.30 50.00,396.26 50.80,395.00 51.55,393.58 52.30,392.70 52.50,390.90 52.70,389.39 52.90,388.68 53.10,387.90 53.30,386.27 53.50,385.00 53.64,383.18 53.79,382.46 53.93,381.70 54.07,380.93 54.21,379.64 54.36,378.25 54.50,377.00 54.68,375.90 54.86,374.36 55.04,373.38 55.22,372.26 55.40,371.20 55.45,369.85 55.50,368.98 55.55,367.72 55.60,366.82 55.65,366.03 55.70,364.70 55.75,363.49 55.80,362.17 55.85,360.66 55.90,360.00 55.96,358.82 56.01,357.88 56.07,356.27 56.13,355.80 56.19,354.19 56.24,353.25 56.30,352.00 56.60,350.57 56.90,348.96 57.20,348.00 58.30,346.50 58.90,345.87 59.50,344.00 60.50,342.50 61.40,341.00 62.30,343.00 63.20,344.50 64.20,343.50 65.20,345.00 65.90,346.50 66.08,347.25 66.26,348.98 66.44,349.63 66.62,350.98 66.80,352.00 67.03,353.01 67.25,354.38 67.47,356.03 67.70,357.00 67.88,358.86 68.05,359.30 68.23,360.83 68.40,362.10 68.67,363.68 68.93,364.51 69.20,366.00 69.33,367.38 69.47,368.10 69.60,369.68 69.73,370.80 69.87,372.20 70.00,373.00 70.13,374.34 70.27,375.11 70.40,376.90 70.53,377.60 70.67,379.39 70.80,380.40 70.92,382.05 71.05,382.98 71.17,383.83 71.30,385.56 71.42,386.45 71.55,387.23 71.67,388.69 71.80,390.00 71.91,391.55 72.02,392.16 72.12,393.41 72.23,394.40 72.34,395.12 72.45,396.60 72.56,397.98 72.67,399.06 72.77,400.07 72.88,400.61 72.99,402.74 73.10,403.50 73.33,404.97 73.57,406.31 73.80,407.64 74.03,408.37 74.27,409.57 74.50,411.00 74.84,412.35 75.18,414.02 75.52,414.27 75.86,415.97 76.20,417.30 76.80,418.49 77.40,420.27 78.00,421.50 80.00,423.60 81.50,424.34 83.00,424.20" fill="none" stroke="#1B5AA0" stroke-width="1.9" stroke-linejoin="round"/>
<rect x="49.10" y="334.00" width="91.70" height="91.20" fill="none" stroke="#000" stroke-width="1.5"/>
<line x1="49.10" y1="425.20" x2="49.10" y2="427.70" stroke="#000" stroke-width="1.2" />
<line x1="46.60" y1="425.20" x2="49.10" y2="425.20" stroke="#000" stroke-width="1.2" />
<text x="50.40" y="437.00" font-size="8.1" text-anchor="middle">10<tspan font-size="5.4" dy="-3.3">0</tspan></text>
<line x1="72.03" y1="425.20" x2="72.03" y2="427.70" stroke="#000" stroke-width="1.2" />
<line x1="46.60" y1="402.40" x2="49.10" y2="402.40" stroke="#000" stroke-width="1.2" />
<text x="73.33" y="437.00" font-size="8.1" text-anchor="middle">10<tspan font-size="5.4" dy="-3.3">1</tspan></text>
<line x1="94.95" y1="425.20" x2="94.95" y2="427.70" stroke="#000" stroke-width="1.2" />
<line x1="46.60" y1="379.60" x2="49.10" y2="379.60" stroke="#000" stroke-width="1.2" />
<text x="96.25" y="437.00" font-size="8.1" text-anchor="middle">10<tspan font-size="5.4" dy="-3.3">2</tspan></text>
<line x1="117.88" y1="425.20" x2="117.88" y2="427.70" stroke="#000" stroke-width="1.2" />
<line x1="46.60" y1="356.80" x2="49.10" y2="356.80" stroke="#000" stroke-width="1.2" />
<text x="119.17" y="437.00" font-size="8.1" text-anchor="middle">10<tspan font-size="5.4" dy="-3.3">3</tspan></text>
<line x1="140.80" y1="425.20" x2="140.80" y2="427.70" stroke="#000" stroke-width="1.2" />
<line x1="46.60" y1="334.00" x2="49.10" y2="334.00" stroke="#000" stroke-width="1.2" />
<text x="142.10" y="437.00" font-size="8.1" text-anchor="middle">10<tspan font-size="5.4" dy="-3.3">4</tspan></text>
<text x="46.70" y="336.20" font-size="8.3" text-anchor="end" textLength="13.9" lengthAdjust="spacingAndGlyphs" >100</text>
<text x="45.80" y="428.10" font-size="8.0" text-anchor="end" >0</text>
<text x="93.30" y="324.80" font-size="8.8" text-anchor="middle" textLength="16.3" lengthAdjust="spacingAndGlyphs" >D14</text>
<text x="36.70" y="380.40" font-size="8.2" text-anchor="middle" textLength="24" lengthAdjust="spacingAndGlyphs" transform="rotate(-90 36.70 380.40)" >Counts</text>
<line x1="50.60" y1="443.70" x2="123.00" y2="443.70" stroke="#000" stroke-width="2.4" />
<path d="M122.2 439.4 L133.5 443.7 L122.2 448 Z" fill="#000"/>
<text x="93.40" y="456.20" font-size="7.6" text-anchor="middle" textLength="32" lengthAdjust="spacingAndGlyphs" >anti-IgG</text>
</svg></body></html>
